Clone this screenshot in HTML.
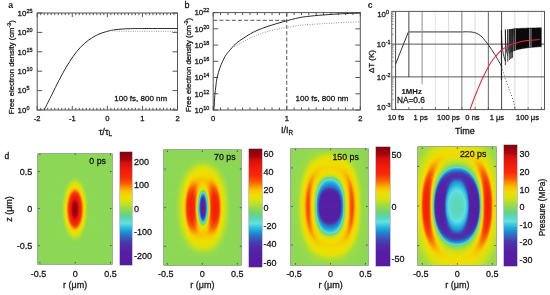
<!DOCTYPE html>
<html><head><meta charset="utf-8"><style>
html,body{margin:0;padding:0;background:#fff;}
#c{position:relative;width:550px;height:295px;overflow:hidden;background:#fff;font-family:"Liberation Sans",sans-serif;}
svg{position:absolute;left:0;top:0;will-change:transform;}
svg text{font-family:"Liberation Sans",sans-serif;stroke:#161616;stroke-width:0.28px;}
.hm{position:absolute;overflow:hidden;box-shadow:0 0 0 0.7px rgba(60,80,50,0.7);}
.hm i{position:absolute;left:0;right:0;display:block;}
</style></head><body><div id="c">
<div style="position:absolute;left:119.60px;top:152.00px;width:12.50px;height:113.20px;background:linear-gradient(to bottom,rgb(130,0,15) 0.0%,rgb(170,5,15) 6.7%,rgb(210,15,12) 9.2%,rgb(240,25,10) 15.4%,rgb(247,42,9) 22.6%,rgb(250,90,4) 27.7%,rgb(250,145,0) 31.3%,rgb(247,195,0) 34.9%,rgb(240,222,0) 39.0%,rgb(218,226,14) 43.1%,rgb(185,224,42) 46.7%,rgb(158,219,68) 49.2%,rgb(140,216,86) 51.3%,rgb(120,212,110) 53.7%,rgb(100,210,140) 56.2%,rgb(90,215,190) 59.6%,rgb(100,225,225) 63.0%,rgb(50,195,225) 66.4%,rgb(30,165,215) 69.3%,rgb(35,130,205) 72.2%,rgb(55,95,190) 75.6%,rgb(70,62,178) 79.1%,rgb(80,45,170) 82.5%,rgb(85,32,165) 87.8%,rgb(85,25,160) 100.0%);box-shadow:0 0 0 0.5px rgba(40,20,60,0.5)"></div>
<div style="position:absolute;left:249.20px;top:149.10px;width:12.90px;height:117.70px;background:linear-gradient(to bottom,rgb(130,0,15) 0.0%,rgb(170,5,15) 6.7%,rgb(210,15,12) 9.2%,rgb(240,25,10) 15.4%,rgb(247,42,9) 22.6%,rgb(250,90,4) 27.7%,rgb(250,145,0) 31.3%,rgb(247,195,0) 34.9%,rgb(240,222,0) 39.0%,rgb(218,226,14) 43.1%,rgb(185,224,42) 46.7%,rgb(158,219,68) 49.2%,rgb(140,216,86) 51.3%,rgb(120,212,110) 53.7%,rgb(100,210,140) 56.2%,rgb(90,215,190) 59.6%,rgb(100,225,225) 63.0%,rgb(50,195,225) 66.4%,rgb(30,165,215) 69.3%,rgb(35,130,205) 72.2%,rgb(55,95,190) 75.6%,rgb(70,62,178) 79.1%,rgb(80,45,170) 82.5%,rgb(85,32,165) 87.8%,rgb(85,25,160) 100.0%);box-shadow:0 0 0 0.5px rgba(40,20,60,0.5)"></div>
<div style="position:absolute;left:376.20px;top:147.10px;width:13.60px;height:118.60px;background:linear-gradient(to bottom,rgb(130,0,15) 0.0%,rgb(170,5,15) 6.7%,rgb(210,15,12) 9.2%,rgb(240,25,10) 15.4%,rgb(247,42,9) 22.6%,rgb(250,90,4) 27.7%,rgb(250,145,0) 31.3%,rgb(247,195,0) 34.9%,rgb(240,222,0) 39.0%,rgb(218,226,14) 43.1%,rgb(185,224,42) 46.7%,rgb(158,219,68) 49.2%,rgb(140,216,86) 51.3%,rgb(120,212,110) 53.7%,rgb(100,210,140) 56.2%,rgb(90,215,190) 59.6%,rgb(100,225,225) 63.0%,rgb(50,195,225) 66.4%,rgb(30,165,215) 69.3%,rgb(35,130,205) 72.2%,rgb(55,95,190) 75.6%,rgb(70,62,178) 79.1%,rgb(80,45,170) 82.5%,rgb(85,32,165) 87.8%,rgb(85,25,160) 100.0%);box-shadow:0 0 0 0.5px rgba(40,20,60,0.5)"></div>
<div style="position:absolute;left:504.20px;top:145.10px;width:13.20px;height:120.60px;background:linear-gradient(to bottom,rgb(130,0,15) 0.0%,rgb(170,5,15) 6.7%,rgb(210,15,12) 9.2%,rgb(240,25,10) 15.4%,rgb(247,42,9) 22.6%,rgb(250,90,4) 27.7%,rgb(250,145,0) 31.3%,rgb(247,195,0) 34.9%,rgb(240,222,0) 39.0%,rgb(218,226,14) 43.1%,rgb(185,224,42) 46.7%,rgb(158,219,68) 49.2%,rgb(140,216,86) 51.3%,rgb(120,212,110) 53.7%,rgb(100,210,140) 56.2%,rgb(90,215,190) 59.6%,rgb(100,225,225) 63.0%,rgb(50,195,225) 66.4%,rgb(30,165,215) 69.3%,rgb(35,130,205) 72.2%,rgb(55,95,190) 75.6%,rgb(70,62,178) 79.1%,rgb(80,45,170) 82.5%,rgb(85,32,165) 87.8%,rgb(85,25,160) 100.0%);box-shadow:0 0 0 0.5px rgba(40,20,60,0.5)"></div>
<div class="hm" style="left:38px;top:154px;width:74px;height:110px"><i style="top:0px;height:1px;background:linear-gradient(90deg,#8cd856 0.5px,#8cd856 73.5px)"></i><i style="top:1px;height:1px;background:linear-gradient(90deg,#8cd856 0.5px,#8cd856 73.5px)"></i><i style="top:2px;height:1px;background:linear-gradient(90deg,#8cd856 0.5px,#8cd856 73.5px)"></i><i style="top:3px;height:1px;background:linear-gradient(90deg,#8cd856 0.5px,#8cd856 73.5px)"></i><i style="top:4px;height:1px;background:linear-gradient(90deg,#8cd856 0.5px,#8cd856 73.5px)"></i><i style="top:5px;height:1px;background:linear-gradient(90deg,#8cd856 0.5px,#8cd856 73.5px)"></i><i style="top:6px;height:1px;background:linear-gradient(90deg,#8cd856 0.5px,#8cd856 73.5px)"></i><i style="top:7px;height:1px;background:linear-gradient(90deg,#8cd856 0.5px,#8cd856 73.5px)"></i><i style="top:8px;height:1px;background:linear-gradient(90deg,#8cd856 0.5px,#8cd856 73.5px)"></i><i style="top:9px;height:1px;background:linear-gradient(90deg,#8cd856 0.5px,#8cd856 73.5px)"></i><i style="top:10px;height:1px;background:linear-gradient(90deg,#8cd856 0.5px,#8cd856 73.5px)"></i><i style="top:11px;height:1px;background:linear-gradient(90deg,#8cd856 0.5px,#8cd856 73.5px)"></i><i style="top:12px;height:1px;background:linear-gradient(90deg,#8cd856 0.5px,#8cd856 73.5px)"></i><i style="top:13px;height:1px;background:linear-gradient(90deg,#8cd856 0.5px,#8cd856 73.5px)"></i><i style="top:14px;height:1px;background:linear-gradient(90deg,#8cd856 0.5px,#8cd856 73.5px)"></i><i style="top:15px;height:1px;background:linear-gradient(90deg,#8cd856 0.5px,#8cd856 73.5px)"></i><i style="top:16px;height:1px;background:linear-gradient(90deg,#8cd856 0.5px,#8cd856 73.5px)"></i><i style="top:17px;height:1px;background:linear-gradient(90deg,#8cd856 0.5px,#8cd856 73.5px)"></i><i style="top:18px;height:1px;background:linear-gradient(90deg,#8cd856 0.5px,#8cd856 73.5px)"></i><i style="top:19px;height:1px;background:linear-gradient(90deg,#8cd856 0.5px,#8cd856 73.5px)"></i><i style="top:20px;height:1px;background:linear-gradient(90deg,#8cd856 0.5px,#8cd856 73.5px)"></i><i style="top:21px;height:1px;background:linear-gradient(90deg,#8cd856 0.5px,#8cd856 73.5px)"></i><i style="top:22px;height:1px;background:linear-gradient(90deg,#8cd856 0.5px,#8cd856 73.5px)"></i><i style="top:23px;height:1px;background:linear-gradient(90deg,#8cd856 0.5px,#8dd855 33.5px,#95da4d 37.5px,#8cd856 43.5px,#8cd856 73.5px)"></i><i style="top:24px;height:1px;background:linear-gradient(90deg,#8cd856 0.5px,#8ed854 32.5px,#9ddb45 36.5px,#94d94e 40.5px,#8cd856 44.5px,#8cd856 73.5px)"></i><i style="top:25px;height:1px;background:linear-gradient(90deg,#8cd856 0.5px,#8ed854 31.5px,#a6dc3d 36.5px,#9bda47 40.5px,#8cd856 43.5px,#8cd856 73.5px)"></i><i style="top:26px;height:1px;background:linear-gradient(90deg,#8cd856 0.5px,#8dd855 30.5px,#afde34 35.5px,#afde34 38.5px,#8dd855 43.5px,#8cd856 73.5px)"></i><i style="top:27px;height:1px;background:linear-gradient(90deg,#8cd856 0.5px,#8cd856 29.5px,#bce028 35.5px,#bce028 38.5px,#8cd856 44.5px,#8cd856 73.5px)"></i><i style="top:28px;height:1px;background:linear-gradient(90deg,#8cd856 0.5px,#8fd853 29.5px,#c2e122 34.5px,#cae11b 37.5px,#bae029 40.5px,#8fd853 44.5px,#8cd856 73.5px)"></i><i style="top:29px;height:1px;background:linear-gradient(90deg,#8cd856 0.5px,#8cd856 28.5px,#c5e120 33.5px,#d6e211 36.5px,#cee119 39.5px,#adde36 42.5px,#8cd856 45.5px,#8cd856 73.5px)"></i><i style="top:30px;height:1px;background:linear-gradient(90deg,#8cd856 0.5px,#8fd953 28.5px,#d0e116 33.5px,#e0e10a 36.5px,#d9e20f 39.5px,#b8e02b 42.5px,#8fd953 45.5px,#8cd856 73.5px)"></i><i style="top:31px;height:1px;background:linear-gradient(90deg,#8cd856 0.5px,#8cd856 27.5px,#a1dc41 29.5px,#d0e116 32.5px,#e6e006 35.5px,#e6e006 38.5px,#d0e116 41.5px,#94d94e 45.5px,#8cd856 46.5px,#8cd856 73.5px)"></i><i style="top:32px;height:1px;background:linear-gradient(90deg,#8cd856 0.5px,#8ed854 27.5px,#dae20e 32.5px,#efde01 35.5px,#eadf04 39.5px,#cde119 42.5px,#8ed854 46.5px,#8cd856 73.5px)"></i><i style="top:33px;height:1px;background:linear-gradient(90deg,#8cd856 0.5px,#8cd856 26.5px,#92d950 27.5px,#d6e211 31.5px,#f1da00 34.5px,#f3d200 37.5px,#ecdf03 40.5px,#d6e211 42.5px,#92d950 46.5px,#8cd856 49.5px,#8cd856 73.5px)"></i><i style="top:34px;height:1px;background:linear-gradient(90deg,#8cd856 0.5px,#8cd856 26.5px,#a7dd3b 28.5px,#cfe117 30.5px,#eadf04 32.5px,#f6c700 36.5px,#f4d000 39.5px,#eadf04 41.5px,#cfe117 43.5px,#97da4b 46.5px,#8cd856 47.5px,#8cd856 73.5px)"></i><i style="top:35px;height:1px;background:linear-gradient(90deg,#8cd856 0.5px,#8ed854 26.5px,#afde34 28.5px,#d8e210 30.5px,#f0db00 32.5px,#f8ab00 36.5px,#f8ab00 37.5px,#f0db00 41.5px,#d8e210 43.5px,#9cdb46 46.5px,#8ed854 47.5px,#8cd856 73.5px)"></i><i style="top:36px;height:1px;background:linear-gradient(90deg,#8cd856 0.5px,#8cd856 25.5px,#92d950 26.5px,#e0e10a 30.5px,#edde02 31.5px,#f6c300 33.5px,#fa9300 35.5px,#fa8601 36.5px,#fa8601 37.5px,#fa9300 38.5px,#f6c300 40.5px,#edde02 42.5px,#cee119 44.5px,#92d950 47.5px,#8cd856 50.5px,#8cd856 73.5px)"></i><i style="top:37px;height:1px;background:linear-gradient(90deg,#8cd856 0.5px,#8cd856 25.5px,#96da4c 26.5px,#d6e212 29.5px,#f1d800 31.5px,#f6c800 32.5px,#fa6d03 35.5px,#fa5f04 36.5px,#fa5f04 37.5px,#fa6d03 38.5px,#fa8801 39.5px,#f6c800 41.5px,#e7e006 43.5px,#c0e024 45.5px,#96da4c 47.5px,#8cd856 48.5px,#8cd856 73.5px)"></i><i style="top:38px;height:1px;background:linear-gradient(90deg,#8cd856 0.5px,#8dd855 25.5px,#afde34 27.5px,#dde10d 29.5px,#edde02 30.5px,#f4cf00 31.5px,#f8b600 32.5px,#fa6403 34.5px,#f94e05 35.5px,#f94406 36.5px,#f94406 37.5px,#f94e05 38.5px,#fa6403 39.5px,#f8b600 41.5px,#f4cf00 42.5px,#edde02 43.5px,#c7e11e 45.5px,#9ada48 47.5px,#8dd855 48.5px,#8cd856 73.5px)"></i><i style="top:39px;height:1px;background:linear-gradient(90deg,#8cd856 0.5px,#8fd853 25.5px,#b6df2d 27.5px,#e3e008 29.5px,#f1d900 30.5px,#f6c500 31.5px,#fa6b03 33.5px,#f94a06 34.5px,#f83608 35.5px,#f72e09 36.5px,#f72e09 37.5px,#f83608 38.5px,#f94a06 39.5px,#fa6b03 40.5px,#f6c500 42.5px,#f1d900 43.5px,#cee118 45.5px,#9fdb43 47.5px,#8fd853 48.5px,#8cd856 73.5px)"></i><i style="top:40px;height:1px;background:linear-gradient(90deg,#8cd856 0.5px,#8cd856 24.5px,#91d951 25.5px,#bce027 27.5px,#e9df05 29.5px,#f3d200 30.5px,#f8b500 31.5px,#f95105 33.5px,#f83508 34.5px,#f62809 35.5px,#f62809 38.5px,#f83508 39.5px,#f95105 40.5px,#f8b500 42.5px,#f3d200 43.5px,#e9df05 44.5px,#bce027 46.5px,#91d951 48.5px,#8cd856 51.5px,#8cd856 73.5px)"></i><i style="top:41px;height:1px;background:linear-gradient(90deg,#8cd856 0.5px,#8cd856 24.5px,#95d94d 25.5px,#dbe10e 28.5px,#eddd02 29.5px,#f5ca00 30.5px,#f99e00 31.5px,#fa6503 32.5px,#f83e07 33.5px,#f62909 34.5px,#f3210a 37.5px,#f62909 39.5px,#f83e07 40.5px,#fa6503 41.5px,#f99e00 42.5px,#f5ca00 43.5px,#eddd02 44.5px,#dbe10e 45.5px,#95d94d 48.5px,#8cd856 49.5px,#8cd856 73.5px)"></i><i style="top:42px;height:1px;background:linear-gradient(90deg,#8cd856 0.5px,#8cd856 24.5px,#98da4a 25.5px,#e0e10a 28.5px,#f0d901 29.5px,#f7bf00 30.5px,#f95005 32.5px,#f72f08 33.5px,#f21f0a 35.5px,#f21f0a 38.5px,#f72f08 40.5px,#f95005 41.5px,#f7bf00 43.5px,#f0d901 44.5px,#e0e10a 45.5px,#98da4a 48.5px,#8cd856 49.5px,#8cd856 73.5px)"></i><i style="top:43px;height:1px;background:linear-gradient(90deg,#8cd856 0.5px,#8dd855 24.5px,#9bdb47 25.5px,#cee118 27.5px,#e5e007 28.5px,#f3d400 29.5px,#f8b000 30.5px,#fa7102 31.5px,#f84007 32.5px,#f62709 33.5px,#ec180a 36.5px,#f3200a 39.5px,#f62709 40.5px,#f84007 41.5px,#fa7102 42.5px,#f8b000 43.5px,#f3d400 44.5px,#e5e007 45.5px,#b2df30 47.5px,#9bdb47 48.5px,#8dd855 49.5px,#8cd856 73.5px)"></i><i style="top:44px;height:1px;background:linear-gradient(90deg,#8cd856 0.5px,#8ed854 24.5px,#9edb44 25.5px,#d3e114 27.5px,#e9df04 28.5px,#f4ce00 29.5px,#f99f00 30.5px,#fa5f04 31.5px,#f73308 32.5px,#f42309 33.5px,#e3150b 36.5px,#e9170a 38.5px,#f42309 40.5px,#f73308 41.5px,#fa5f04 42.5px,#f99f00 43.5px,#f4ce00 44.5px,#e9df04 45.5px,#b7df2c 47.5px,#9edb44 48.5px,#8ed854 49.5px,#8cd856 73.5px)"></i><i style="top:45px;height:1px;background:linear-gradient(90deg,#8cd856 0.5px,#8fd953 24.5px,#a1dc41 25.5px,#d7e111 27.5px,#ecdd03 28.5px,#f6c700 29.5px,#f95005 31.5px,#f62b09 32.5px,#ec180a 34.5px,#d9110c 36.5px,#e0140b 38.5px,#f3200a 40.5px,#f62b09 41.5px,#f95005 42.5px,#f6c700 44.5px,#ecdd03 45.5px,#d7e111 46.5px,#a1dc41 48.5px,#8fd953 49.5px,#8cd856 73.5px)"></i><i style="top:46px;height:1px;background:linear-gradient(90deg,#8cd856 0.5px,#8cd856 23.5px,#91d951 24.5px,#a4dc3e 25.5px,#dbe10e 27.5px,#efdb01 28.5px,#f7be00 29.5px,#f94406 31.5px,#f52609 32.5px,#e5150b 34.5px,#c80c0d 36.5px,#c80c0d 37.5px,#f11c0a 40.5px,#f52609 41.5px,#f94406 42.5px,#f7be00 44.5px,#efdb01 45.5px,#dbe10e 46.5px,#a4dc3e 48.5px,#91d951 49.5px,#8cd856 54.5px,#8cd856 73.5px)"></i><i style="top:47px;height:1px;background:linear-gradient(90deg,#8cd856 0.5px,#8cd856 23.5px,#92d950 24.5px,#a7dd3b 25.5px,#dee10b 27.5px,#f1d801 28.5px,#f8b500 29.5px,#fa7102 30.5px,#f83b07 31.5px,#f42309 32.5px,#ee1a0a 33.5px,#b2070e 36.5px,#b2070e 37.5px,#ee1a0a 40.5px,#f42309 41.5px,#f83b07 42.5px,#fa7102 43.5px,#f8b500 44.5px,#f1d801 45.5px,#dee10b 46.5px,#a7dd3b 48.5px,#92d950 49.5px,#8cd856 51.5px,#8cd856 73.5px)"></i><i style="top:48px;height:1px;background:linear-gradient(90deg,#8cd856 0.5px,#8cd856 23.5px,#94d94e 24.5px,#c7e11e 26.5px,#e1e109 27.5px,#f2d500 28.5px,#f8ac00 29.5px,#fa6603 30.5px,#f73408 31.5px,#f3210a 32.5px,#ea170a 33.5px,#d6100c 34.5px,#b4080e 35.5px,#a8050f 36.5px,#a8050f 37.5px,#b4080e 38.5px,#d6100c 39.5px,#ea170a 40.5px,#f3210a 41.5px,#f73408 42.5px,#fa6603 43.5px,#f8ac00 44.5px,#f2d500 45.5px,#e1e109 46.5px,#a9dd39 48.5px,#94d94e 49.5px,#8cd856 51.5px,#8cd856 73.5px)"></i><i style="top:49px;height:1px;background:linear-gradient(90deg,#8cd856 0.5px,#8cd856 23.5px,#95da4d 24.5px,#e4e008 27.5px,#f3d200 28.5px,#f9a300 29.5px,#fa5c04 30.5px,#f72f08 31.5px,#f21f0a 32.5px,#e6160b 33.5px,#ab050f 35.5px,#a3040f 37.5px,#ab050f 38.5px,#e6160b 40.5px,#f21f0a 41.5px,#f72f08 42.5px,#fa5c04 43.5px,#f9a300 44.5px,#f3d200 45.5px,#e4e008 46.5px,#95da4d 49.5px,#8cd856 50.5px,#8cd856 73.5px)"></i><i style="top:50px;height:1px;background:linear-gradient(90deg,#8cd856 0.5px,#8cd856 23.5px,#97da4b 24.5px,#e6e007 27.5px,#f4cf00 28.5px,#f99b00 29.5px,#f95505 30.5px,#f62b09 31.5px,#f21d0a 32.5px,#e1140b 33.5px,#a5040f 35.5px,#9d030f 37.5px,#a5040f 38.5px,#e1140b 40.5px,#f21d0a 41.5px,#f62b09 42.5px,#f95505 43.5px,#f99b00 44.5px,#f4cf00 45.5px,#e6e007 46.5px,#97da4b 49.5px,#8cd856 50.5px,#8cd856 73.5px)"></i><i style="top:51px;height:1px;background:linear-gradient(90deg,#8cd856 0.5px,#8cd856 23.5px,#98da4a 24.5px,#cee118 26.5px,#e7e005 27.5px,#f5cd00 28.5px,#f99401 29.5px,#f95005 30.5px,#f62909 31.5px,#f01c0a 32.5px,#de130b 33.5px,#b6080e 34.5px,#a1040f 35.5px,#98030f 36.5px,#98030f 37.5px,#a1040f 38.5px,#b6080e 39.5px,#de130b 40.5px,#f01c0a 41.5px,#f62909 42.5px,#f95005 43.5px,#f99401 44.5px,#f5cd00 45.5px,#e7e005 46.5px,#b0de33 48.5px,#98da4a 49.5px,#8cd856 50.5px,#8cd856 73.5px)"></i><i style="top:52px;height:1px;background:linear-gradient(90deg,#8cd856 0.5px,#8cd856 23.5px,#99da49 24.5px,#cfe117 26.5px,#e9df05 27.5px,#f5ca00 28.5px,#fa8f01 29.5px,#f94b06 30.5px,#f52709 31.5px,#ef1b0a 32.5px,#db120b 33.5px,#b0070e 34.5px,#93020f 36.5px,#93020f 37.5px,#b0070e 39.5px,#db120b 40.5px,#ef1b0a 41.5px,#f52709 42.5px,#f94b06 43.5px,#fa8f01 44.5px,#f5ca00 45.5px,#e9df05 46.5px,#cfe117 47.5px,#99da49 49.5px,#8cd856 50.5px,#8cd856 73.5px)"></i><i style="top:53px;height:1px;background:linear-gradient(90deg,#8cd856 0.5px,#8cd856 23.5px,#99da49 24.5px,#d0e116 26.5px,#e9df04 27.5px,#f5c800 28.5px,#f94906 30.5px,#f52609 31.5px,#ee1a0a 32.5px,#d7110c 33.5px,#ac060f 34.5px,#8f020f 36.5px,#8f020f 37.5px,#ac060f 39.5px,#d7110c 40.5px,#ee1a0a 41.5px,#f52609 42.5px,#f94906 43.5px,#f5c800 45.5px,#e9df04 46.5px,#d0e116 47.5px,#99da49 49.5px,#8cd856 50.5px,#8cd856 73.5px)"></i><i style="top:54px;height:1px;background:linear-gradient(90deg,#8cd856 0.5px,#8cd856 23.5px,#9ada48 24.5px,#d1e116 26.5px,#eade04 27.5px,#f5c700 28.5px,#f94706 30.5px,#f52509 31.5px,#ee1a0a 32.5px,#d5100c 33.5px,#ab060f 34.5px,#8b010f 36.5px,#8b010f 37.5px,#ab060f 39.5px,#d5100c 40.5px,#ee1a0a 41.5px,#f52509 42.5px,#f94706 43.5px,#f5c700 45.5px,#eade04 46.5px,#d1e116 47.5px,#9ada48 49.5px,#8cd856 50.5px,#8cd856 73.5px)"></i><i style="top:55px;height:1px;background:linear-gradient(90deg,#8cd856 0.5px,#8cd856 23.5px,#9ada48 24.5px,#d1e116 26.5px,#eade04 27.5px,#f5c700 28.5px,#f94706 30.5px,#f52509 31.5px,#ee190a 32.5px,#d5100c 33.5px,#aa050f 34.5px,#8a010f 36.5px,#8a010f 37.5px,#aa050f 39.5px,#d5100c 40.5px,#ee190a 41.5px,#f52509 42.5px,#f94706 43.5px,#f5c700 45.5px,#eade04 46.5px,#d1e116 47.5px,#9ada48 49.5px,#8cd856 50.5px,#8cd856 73.5px)"></i><i style="top:56px;height:1px;background:linear-gradient(90deg,#8cd856 0.5px,#8cd856 23.5px,#99da49 24.5px,#d1e116 26.5px,#eadf04 27.5px,#f5c700 28.5px,#f94806 30.5px,#f52509 31.5px,#ee1a0a 32.5px,#d6100c 33.5px,#ab060f 34.5px,#8d010f 36.5px,#8d010f 37.5px,#ab060f 39.5px,#d6100c 40.5px,#ee1a0a 41.5px,#f52509 42.5px,#f94806 43.5px,#f5c700 45.5px,#eadf04 46.5px,#d1e116 47.5px,#99da49 49.5px,#8cd856 50.5px,#8cd856 73.5px)"></i><i style="top:57px;height:1px;background:linear-gradient(90deg,#8cd856 0.5px,#8cd856 23.5px,#99da49 24.5px,#d0e116 26.5px,#e9df04 27.5px,#f5c900 28.5px,#f94906 30.5px,#f52609 31.5px,#ef1a0a 32.5px,#d9110c 33.5px,#ad060f 34.5px,#91020f 36.5px,#91020f 37.5px,#ad060f 39.5px,#d9110c 40.5px,#ef1a0a 41.5px,#f52609 42.5px,#f94906 43.5px,#f5c900 45.5px,#e9df04 46.5px,#d0e116 47.5px,#99da49 49.5px,#8cd856 50.5px,#8cd856 73.5px)"></i><i style="top:58px;height:1px;background:linear-gradient(90deg,#8cd856 0.5px,#8cd856 23.5px,#98da4a 24.5px,#cfe117 26.5px,#e8df05 27.5px,#f5cb00 28.5px,#f99101 29.5px,#f94d05 30.5px,#f62709 31.5px,#f01b0a 32.5px,#dc120b 33.5px,#b2070e 34.5px,#9f040f 35.5px,#95020f 36.5px,#95020f 37.5px,#9f040f 38.5px,#b2070e 39.5px,#dc120b 40.5px,#f01b0a 41.5px,#f62709 42.5px,#f94d05 43.5px,#f99101 44.5px,#f5cb00 45.5px,#e8df05 46.5px,#cfe117 47.5px,#98da4a 49.5px,#8cd856 50.5px,#8cd856 73.5px)"></i><i style="top:59px;height:1px;background:linear-gradient(90deg,#8cd856 0.5px,#8cd856 23.5px,#97da4b 24.5px,#e7e006 27.5px,#f4cd00 28.5px,#f99700 29.5px,#f95205 30.5px,#f62a09 31.5px,#f11c0a 32.5px,#df130b 33.5px,#b9090e 34.5px,#a3040f 35.5px,#9a030f 36.5px,#9a030f 37.5px,#a3040f 38.5px,#b9090e 39.5px,#df130b 40.5px,#f11c0a 41.5px,#f62a09 42.5px,#f95205 43.5px,#f99700 44.5px,#f4cd00 45.5px,#e7e006 46.5px,#97da4b 49.5px,#8cd856 50.5px,#8cd856 73.5px)"></i><i style="top:60px;height:1px;background:linear-gradient(90deg,#8cd856 0.5px,#8cd856 23.5px,#96da4c 24.5px,#e5e007 27.5px,#f4d000 28.5px,#f99e00 29.5px,#f95804 30.5px,#f72c09 31.5px,#f21e0a 32.5px,#e3150b 33.5px,#a7050f 35.5px,#a0040f 37.5px,#a7050f 38.5px,#e3150b 40.5px,#f21e0a 41.5px,#f72c09 42.5px,#f95804 43.5px,#f99e00 44.5px,#f4d000 45.5px,#e5e007 46.5px,#96da4c 49.5px,#8cd856 50.5px,#8cd856 73.5px)"></i><i style="top:61px;height:1px;background:linear-gradient(90deg,#8cd856 0.5px,#8cd856 23.5px,#95d94d 24.5px,#e3e008 27.5px,#f3d300 28.5px,#f9a700 29.5px,#fa6004 30.5px,#f73008 31.5px,#e8160b 33.5px,#cf0e0c 34.5px,#ae060f 35.5px,#a5040f 36.5px,#a5040f 37.5px,#ae060f 38.5px,#cf0e0c 39.5px,#e8160b 40.5px,#f73008 42.5px,#fa6004 43.5px,#f9a700 44.5px,#f3d300 45.5px,#e3e008 46.5px,#95d94d 49.5px,#8cd856 50.5px,#8cd856 73.5px)"></i><i style="top:62px;height:1px;background:linear-gradient(90deg,#8cd856 0.5px,#8cd856 23.5px,#93d94f 24.5px,#c6e11f 26.5px,#e0e10a 27.5px,#f2d600 28.5px,#f8b000 29.5px,#fa6a03 30.5px,#f83608 31.5px,#f42209 32.5px,#ec180a 33.5px,#da120c 34.5px,#bb090e 35.5px,#ab050f 36.5px,#ab050f 37.5px,#bb090e 38.5px,#da120c 39.5px,#ec180a 40.5px,#f42209 41.5px,#f83608 42.5px,#fa6a03 43.5px,#f8b000 44.5px,#f2d600 45.5px,#e0e10a 46.5px,#a8dd3a 48.5px,#93d94f 49.5px,#8cd856 51.5px,#8cd856 73.5px)"></i><i style="top:63px;height:1px;background:linear-gradient(90deg,#8cd856 0.5px,#8cd856 23.5px,#92d950 24.5px,#a6dc3d 25.5px,#dde10c 27.5px,#f0d901 28.5px,#f7b900 29.5px,#fa7602 30.5px,#f83e07 31.5px,#f52409 32.5px,#f01b0a 33.5px,#b9090e 36.5px,#b9090e 37.5px,#f01b0a 40.5px,#f52409 41.5px,#f83e07 42.5px,#fa7602 43.5px,#f7b900 44.5px,#f0d901 45.5px,#dde10c 46.5px,#a6dc3d 48.5px,#92d950 49.5px,#8cd856 52.5px,#8cd856 73.5px)"></i><i style="top:64px;height:1px;background:linear-gradient(90deg,#8cd856 0.5px,#8cd856 23.5px,#90d952 24.5px,#a3dc3f 25.5px,#dae10f 27.5px,#eedc02 28.5px,#f6c200 29.5px,#f94906 31.5px,#f62809 32.5px,#e8160b 34.5px,#d10f0c 36.5px,#d10f0c 37.5px,#f21e0a 40.5px,#f62809 41.5px,#f94906 42.5px,#f6c200 44.5px,#eedc02 45.5px,#dae10f 46.5px,#a3dc3f 48.5px,#90d952 49.5px,#8cd856 67.5px,#8cd856 73.5px)"></i><i style="top:65px;height:1px;background:linear-gradient(90deg,#8cd856 0.5px,#8fd853 24.5px,#a0db42 25.5px,#d6e112 27.5px,#ebde03 28.5px,#f5ca00 29.5px,#f99500 30.5px,#f95605 31.5px,#f72e09 32.5px,#ef190a 34.5px,#dd130b 36.5px,#e4150b 38.5px,#f3210a 40.5px,#f72e09 41.5px,#f95605 42.5px,#f99500 43.5px,#f5ca00 44.5px,#ebde03 45.5px,#d6e112 46.5px,#a0db42 48.5px,#8fd853 49.5px,#8cd856 73.5px)"></i><i style="top:66px;height:1px;background:linear-gradient(90deg,#8cd856 0.5px,#8ed854 24.5px,#9ddb45 25.5px,#d1e116 27.5px,#e8e005 28.5px,#f4d000 29.5px,#f9a600 30.5px,#fa6603 31.5px,#f83808 32.5px,#f52509 33.5px,#e7160b 36.5px,#f21d0a 39.5px,#f52509 40.5px,#f83808 41.5px,#fa6603 42.5px,#f9a600 43.5px,#f4d000 44.5px,#e8e005 45.5px,#b5df2e 47.5px,#9ddb45 48.5px,#8ed854 49.5px,#8cd856 73.5px)"></i><i style="top:67px;height:1px;background:linear-gradient(90deg,#8cd856 0.5px,#8dd855 24.5px,#9ada48 25.5px,#e3e008 28.5px,#f2d600 29.5px,#f8b600 30.5px,#fa7a02 31.5px,#f94606 32.5px,#f62909 33.5px,#ef190a 36.5px,#f3210a 39.5px,#f62909 40.5px,#f94606 41.5px,#fa7a02 42.5px,#f8b600 43.5px,#f2d600 44.5px,#e3e008 45.5px,#9ada48 48.5px,#8dd855 49.5px,#8cd856 73.5px)"></i><i style="top:68px;height:1px;background:linear-gradient(90deg,#8cd856 0.5px,#8cd856 24.5px,#97da4b 25.5px,#dee10c 28.5px,#efdb01 29.5px,#f6c400 30.5px,#fa5804 32.5px,#f83408 33.5px,#f52509 34.5px,#f21e0a 37.5px,#f52509 39.5px,#f83408 40.5px,#fa5804 41.5px,#f6c400 43.5px,#efdb01 44.5px,#dee10c 45.5px,#97da4b 48.5px,#8cd856 49.5px,#8cd856 73.5px)"></i><i style="top:69px;height:1px;background:linear-gradient(90deg,#8cd856 0.5px,#8cd856 24.5px,#93d94f 25.5px,#c0e024 27.5px,#ecde03 29.5px,#f4ce00 30.5px,#f9a800 31.5px,#fa6f02 32.5px,#f94506 33.5px,#f72c09 34.5px,#f42309 37.5px,#f72c09 39.5px,#f94506 40.5px,#fa6f02 41.5px,#f9a800 42.5px,#f4ce00 43.5px,#ecde03 44.5px,#c0e024 46.5px,#93d94f 48.5px,#8cd856 50.5px,#8cd856 73.5px)"></i><i style="top:70px;height:1px;background:linear-gradient(90deg,#8cd856 0.5px,#8cd856 24.5px,#90d952 25.5px,#bae02a 27.5px,#e6e006 29.5px,#f2d500 30.5px,#f7bc00 31.5px,#fa5a04 33.5px,#f83d07 34.5px,#f72c09 35.5px,#f62809 37.5px,#f72c09 38.5px,#f83d07 39.5px,#fa5a04 40.5px,#f7bc00 42.5px,#f2d500 43.5px,#e6e006 44.5px,#bae02a 46.5px,#90d952 48.5px,#8cd856 60.5px,#8cd856 73.5px)"></i><i style="top:71px;height:1px;background:linear-gradient(90deg,#8cd856 0.5px,#8ed854 25.5px,#b3df30 27.5px,#e0e10a 29.5px,#efdb01 30.5px,#f5ca00 31.5px,#f9a700 32.5px,#fa7802 33.5px,#f95305 34.5px,#f84007 35.5px,#f83608 36.5px,#f83608 37.5px,#f84007 38.5px,#f95305 39.5px,#fa7802 40.5px,#f9a700 41.5px,#f5ca00 42.5px,#efdb01 43.5px,#cce11a 45.5px,#9ddb45 47.5px,#8ed854 48.5px,#8cd856 73.5px)"></i><i style="top:72px;height:1px;background:linear-gradient(90deg,#8cd856 0.5px,#8dd855 25.5px,#acde37 27.5px,#dae10f 29.5px,#eadf04 30.5px,#f3d300 31.5px,#f7bf00 32.5px,#fa7202 34.5px,#fa5804 35.5px,#f94e05 36.5px,#f94e05 37.5px,#fa5804 38.5px,#fa7202 39.5px,#f7bf00 41.5px,#f3d300 42.5px,#eadf04 43.5px,#c4e120 45.5px,#98da4a 47.5px,#8dd855 48.5px,#8cd856 73.5px)"></i><i style="top:73px;height:1px;background:linear-gradient(90deg,#8cd856 0.5px,#8cd856 25.5px,#94d94e 26.5px,#d2e114 29.5px,#f0db01 31.5px,#f8b600 33.5px,#fa7c02 35.5px,#fa6e03 36.5px,#fa6e03 37.5px,#fa7c02 38.5px,#f8b600 40.5px,#f0db01 42.5px,#d2e114 44.5px,#94d94e 47.5px,#8cd856 48.5px,#8cd856 73.5px)"></i><i style="top:74px;height:1px;background:linear-gradient(90deg,#8cd856 0.5px,#8cd856 25.5px,#90d952 26.5px,#b4df2f 28.5px,#dde10c 30.5px,#f2d600 32.5px,#f8b700 34.5px,#f9a100 35.5px,#fa9500 36.5px,#fa9500 37.5px,#f9a100 38.5px,#f5c900 40.5px,#ebdf03 42.5px,#cae11b 44.5px,#9fdb43 46.5px,#90d952 47.5px,#8cd856 71.5px,#8cd856 73.5px)"></i><i style="top:75px;height:1px;background:linear-gradient(90deg,#8cd856 0.5px,#8dd855 26.5px,#acde37 28.5px,#d5e213 30.5px,#eedd01 32.5px,#f8b900 36.5px,#f7c100 38.5px,#eedd01 41.5px,#d5e213 43.5px,#9ada48 46.5px,#8dd855 47.5px,#8cd856 73.5px)"></i><i style="top:76px;height:1px;background:linear-gradient(90deg,#8cd856 0.5px,#8cd856 26.5px,#a4dc3e 28.5px,#dce10d 31.5px,#f0dc01 33.5px,#f5cb00 36.5px,#f3d400 39.5px,#e7e006 41.5px,#cce11a 43.5px,#95d94d 46.5px,#8cd856 47.5px,#8cd856 73.5px)"></i><i style="top:77px;height:1px;background:linear-gradient(90deg,#8cd856 0.5px,#90d952 27.5px,#d3e214 31.5px,#efdd01 34.5px,#f2d600 37.5px,#e8df05 40.5px,#d3e214 42.5px,#90d952 46.5px,#8cd856 73.5px)"></i><i style="top:78px;height:1px;background:linear-gradient(90deg,#8cd856 0.5px,#8dd855 27.5px,#b8e02b 30.5px,#e0e10a 33.5px,#eede02 36.5px,#e7e006 39.5px,#c9e11d 42.5px,#98da4a 45.5px,#8dd855 46.5px,#8cd856 73.5px)"></i><i style="top:79px;height:1px;background:linear-gradient(90deg,#8cd856 0.5px,#8cd856 27.5px,#9fdb43 29.5px,#cce11a 32.5px,#e3e008 35.5px,#e3e008 38.5px,#cce11a 41.5px,#92d950 45.5px,#8cd856 47.5px,#8cd856 73.5px)"></i><i style="top:80px;height:1px;background:linear-gradient(90deg,#8cd856 0.5px,#8ed854 28.5px,#cce11a 33.5px,#dce20d 36.5px,#d4e213 39.5px,#b3df2f 42.5px,#8ed854 45.5px,#8cd856 73.5px)"></i><i style="top:81px;height:1px;background:linear-gradient(90deg,#8cd856 0.5px,#8cd856 28.5px,#a8dd3a 31.5px,#c9e11c 34.5px,#d1e115 37.5px,#c1e023 40.5px,#92d950 44.5px,#8cd856 47.5px,#8cd856 73.5px)"></i><i style="top:82px;height:1px;background:linear-gradient(90deg,#8cd856 0.5px,#8dd855 29.5px,#bde026 34.5px,#c6e11f 37.5px,#b5df2e 40.5px,#8dd855 44.5px,#8cd856 73.5px)"></i><i style="top:83px;height:1px;background:linear-gradient(90deg,#8cd856 0.5px,#90d952 30.5px,#b7e02c 35.5px,#b7e02c 38.5px,#8cd856 44.5px,#8cd856 73.5px)"></i><i style="top:84px;height:1px;background:linear-gradient(90deg,#8cd856 0.5px,#8cd856 30.5px,#acde36 36.5px,#a0db42 40.5px,#8cd856 43.5px,#8cd856 73.5px)"></i><i style="top:85px;height:1px;background:linear-gradient(90deg,#8cd856 0.5px,#8dd855 31.5px,#a2dc40 36.5px,#98da4a 40.5px,#8cd856 43.5px,#8cd856 73.5px)"></i><i style="top:86px;height:1px;background:linear-gradient(90deg,#8cd856 0.5px,#8dd855 32.5px,#9ada48 37.5px,#8cd856 43.5px,#8cd856 73.5px)"></i><i style="top:87px;height:1px;background:linear-gradient(90deg,#8cd856 0.5px,#8ed854 34.5px,#90d952 38.5px,#8cd856 67.5px,#8cd856 73.5px)"></i><i style="top:88px;height:1px;background:linear-gradient(90deg,#8cd856 0.5px,#8cd856 73.5px)"></i><i style="top:89px;height:1px;background:linear-gradient(90deg,#8cd856 0.5px,#8cd856 73.5px)"></i><i style="top:90px;height:1px;background:linear-gradient(90deg,#8cd856 0.5px,#8cd856 73.5px)"></i><i style="top:91px;height:1px;background:linear-gradient(90deg,#8cd856 0.5px,#8cd856 73.5px)"></i><i style="top:92px;height:1px;background:linear-gradient(90deg,#8cd856 0.5px,#8cd856 73.5px)"></i><i style="top:93px;height:1px;background:linear-gradient(90deg,#8cd856 0.5px,#8cd856 73.5px)"></i><i style="top:94px;height:1px;background:linear-gradient(90deg,#8cd856 0.5px,#8cd856 73.5px)"></i><i style="top:95px;height:1px;background:linear-gradient(90deg,#8cd856 0.5px,#8cd856 73.5px)"></i><i style="top:96px;height:1px;background:linear-gradient(90deg,#8cd856 0.5px,#8cd856 73.5px)"></i><i style="top:97px;height:1px;background:linear-gradient(90deg,#8cd856 0.5px,#8cd856 73.5px)"></i><i style="top:98px;height:1px;background:linear-gradient(90deg,#8cd856 0.5px,#8cd856 73.5px)"></i><i style="top:99px;height:1px;background:linear-gradient(90deg,#8cd856 0.5px,#8cd856 73.5px)"></i><i style="top:100px;height:1px;background:linear-gradient(90deg,#8cd856 0.5px,#8cd856 73.5px)"></i><i style="top:101px;height:1px;background:linear-gradient(90deg,#8cd856 0.5px,#8cd856 73.5px)"></i><i style="top:102px;height:1px;background:linear-gradient(90deg,#8cd856 0.5px,#8cd856 73.5px)"></i><i style="top:103px;height:1px;background:linear-gradient(90deg,#8cd856 0.5px,#8cd856 73.5px)"></i><i style="top:104px;height:1px;background:linear-gradient(90deg,#8cd856 0.5px,#8cd856 73.5px)"></i><i style="top:105px;height:1px;background:linear-gradient(90deg,#8cd856 0.5px,#8cd856 73.5px)"></i><i style="top:106px;height:1px;background:linear-gradient(90deg,#8cd856 0.5px,#8cd856 73.5px)"></i><i style="top:107px;height:1px;background:linear-gradient(90deg,#8cd856 0.5px,#8cd856 73.5px)"></i><i style="top:108px;height:1px;background:linear-gradient(90deg,#8cd856 0.5px,#8cd856 73.5px)"></i><i style="top:109px;height:1px;background:linear-gradient(90deg,#8cd856 0.5px,#8cd856 73.5px)"></i></div>
<div class="hm" style="left:164px;top:150px;width:77px;height:115px"><i style="top:0px;height:1px;background:linear-gradient(90deg,#8cd856 0.5px,#8cd856 76.5px)"></i><i style="top:1px;height:1px;background:linear-gradient(90deg,#8cd856 0.5px,#8cd856 76.5px)"></i><i style="top:2px;height:1px;background:linear-gradient(90deg,#8cd856 0.5px,#8cd856 76.5px)"></i><i style="top:3px;height:1px;background:linear-gradient(90deg,#8cd856 0.5px,#8cd856 76.5px)"></i><i style="top:4px;height:1px;background:linear-gradient(90deg,#8cd856 0.5px,#8cd856 76.5px)"></i><i style="top:5px;height:1px;background:linear-gradient(90deg,#8cd856 0.5px,#8cd856 76.5px)"></i><i style="top:6px;height:1px;background:linear-gradient(90deg,#8cd856 0.5px,#8cd856 76.5px)"></i><i style="top:7px;height:1px;background:linear-gradient(90deg,#8cd856 0.5px,#8cd856 76.5px)"></i><i style="top:8px;height:1px;background:linear-gradient(90deg,#8cd856 0.5px,#8cd856 76.5px)"></i><i style="top:9px;height:1px;background:linear-gradient(90deg,#8cd856 0.5px,#90d952 32.5px,#91d951 44.5px,#8cd856 64.5px,#8cd856 76.5px)"></i><i style="top:10px;height:1px;background:linear-gradient(90deg,#8cd856 0.5px,#8ed854 29.5px,#98da4a 40.5px,#8cd856 54.5px,#8cd856 76.5px)"></i><i style="top:11px;height:1px;background:linear-gradient(90deg,#8cd856 0.5px,#90d952 28.5px,#9ddb45 39.5px,#8cd856 54.5px,#8cd856 76.5px)"></i><i style="top:12px;height:1px;background:linear-gradient(90deg,#8cd856 0.5px,#8ed854 26.5px,#a2dc40 37.5px,#97da4b 48.5px,#8cd856 54.5px,#8cd856 76.5px)"></i><i style="top:13px;height:1px;background:linear-gradient(90deg,#8cd856 0.5px,#8fd853 25.5px,#adde36 38.5px,#9bdb47 48.5px,#8cd856 54.5px,#8cd856 76.5px)"></i><i style="top:14px;height:1px;background:linear-gradient(90deg,#8cd856 0.5px,#8fd953 24.5px,#b8e02b 37.5px,#afde34 44.5px,#8cd856 55.5px,#8cd856 76.5px)"></i><i style="top:15px;height:1px;background:linear-gradient(90deg,#8cd856 0.5px,#8fd853 23.5px,#bfe025 35.5px,#bfe025 42.5px,#8cd856 55.5px,#8cd856 76.5px)"></i><i style="top:16px;height:1px;background:linear-gradient(90deg,#8cd856 0.5px,#8ed854 22.5px,#b0de33 29.5px,#cae11c 35.5px,#cae11c 42.5px,#b0de33 48.5px,#8cd856 56.5px,#8cd856 76.5px)"></i><i style="top:17px;height:1px;background:linear-gradient(90deg,#8cd856 0.5px,#8dd855 21.5px,#abdd37 27.5px,#cee118 33.5px,#d8e210 39.5px,#cae11c 45.5px,#97da4b 54.5px,#8cd856 58.5px,#8cd856 76.5px)"></i><i style="top:18px;height:1px;background:linear-gradient(90deg,#8cd856 0.5px,#8dd855 20.5px,#acde37 26.5px,#d4e213 32.5px,#dfe10b 38.5px,#d8e210 44.5px,#b4df2e 50.5px,#96da4c 55.5px,#8cd856 58.5px,#8cd856 76.5px)"></i><i style="top:19px;height:1px;background:linear-gradient(90deg,#8cd856 0.5px,#8fd953 20.5px,#acde37 25.5px,#d8e210 31.5px,#e5e007 38.5px,#dce20d 45.5px,#b5df2e 51.5px,#99da49 55.5px,#8cd856 59.5px,#8cd856 76.5px)"></i><i style="top:20px;height:1px;background:linear-gradient(90deg,#8cd856 0.5px,#8dd855 19.5px,#abdd38 24.5px,#dbe20e 30.5px,#e8df05 36.5px,#e2e109 45.5px,#cde119 49.5px,#9ddb45 55.5px,#8cd856 59.5px,#8cd856 76.5px)"></i><i style="top:21px;height:1px;background:linear-gradient(90deg,#8cd856 0.5px,#90d952 19.5px,#b3df30 24.5px,#dce20d 29.5px,#eadf04 35.5px,#e4e007 46.5px,#cee119 50.5px,#9bdb47 56.5px,#8cd856 60.5px,#8cd856 76.5px)"></i><i style="top:22px;height:1px;background:linear-gradient(90deg,#8cd856 0.5px,#8ed854 18.5px,#b0de33 23.5px,#dde10c 28.5px,#ebdf03 33.5px,#e9df05 46.5px,#d6e211 50.5px,#9fdb43 56.5px,#8cd856 60.5px,#8cd856 76.5px)"></i><i style="top:23px;height:1px;background:linear-gradient(90deg,#8cd856 0.5px,#8cd856 17.5px,#adde36 22.5px,#dce20c 27.5px,#eede02 32.5px,#ecdf03 46.5px,#d5e212 51.5px,#9ddb45 57.5px,#8cd856 61.5px,#8cd856 76.5px)"></i><i style="top:24px;height:1px;background:linear-gradient(90deg,#8cd856 0.5px,#8ed854 17.5px,#b4df2f 22.5px,#dbe20d 26.5px,#efde00 31.5px,#efde00 46.5px,#dbe20d 51.5px,#a0db42 57.5px,#8cd856 61.5px,#8cd856 76.5px)"></i><i style="top:25px;height:1px;background:linear-gradient(90deg,#8cd856 0.5px,#90d952 17.5px,#afde34 21.5px,#e0e10a 26.5px,#f0dc00 30.5px,#f2d700 44.5px,#ebdf03 49.5px,#cfe117 53.5px,#9ddb45 58.5px,#8cd856 61.5px,#8cd856 76.5px)"></i><i style="top:26px;height:1px;background:linear-gradient(90deg,#8cd856 0.5px,#8dd855 16.5px,#a9dd39 20.5px,#dee10b 25.5px,#f1db00 29.5px,#f3d300 37.5px,#f2d700 47.5px,#e5e007 51.5px,#cbe11b 54.5px,#9ada48 59.5px,#8cd856 62.5px,#8cd856 76.5px)"></i><i style="top:27px;height:1px;background:linear-gradient(90deg,#8cd856 0.5px,#8fd953 16.5px,#afde33 20.5px,#dce20d 24.5px,#f1d900 28.5px,#f4ce00 33.5px,#f3d200 47.5px,#e9df05 51.5px,#d1e115 54.5px,#9ddb45 59.5px,#8cd856 62.5px,#8cd856 76.5px)"></i><i style="top:28px;height:1px;background:linear-gradient(90deg,#8cd856 0.5px,#8cd856 15.5px,#a9dd3a 19.5px,#e0e10a 24.5px,#f1da00 27.5px,#f5c900 32.5px,#f5cc00 47.5px,#edde02 51.5px,#cce11a 55.5px,#a0db42 59.5px,#8cd856 62.5px,#8cd856 76.5px)"></i><i style="top:29px;height:1px;background:linear-gradient(90deg,#8cd856 0.5px,#8dd855 15.5px,#aede35 19.5px,#dce20d 23.5px,#f1db00 26.5px,#f6c500 30.5px,#f6c700 43.5px,#f6c500 47.5px,#ebdf03 52.5px,#d1e115 55.5px,#9bdb47 60.5px,#8cd856 63.5px,#8cd856 76.5px)"></i><i style="top:30px;height:1px;background:linear-gradient(90deg,#8cd856 0.5px,#8fd953 15.5px,#b3df30 19.5px,#e0e10a 23.5px,#efdd01 25.5px,#f7bb00 30.5px,#f6c600 40.5px,#f7bb00 47.5px,#efdd01 52.5px,#cbe11b 56.5px,#9edb44 60.5px,#8cd856 63.5px,#8cd856 76.5px)"></i><i style="top:31px;height:1px;background:linear-gradient(90deg,#8cd856 0.5px,#8cd856 14.5px,#abdd37 18.5px,#dbe20d 22.5px,#f2d800 25.5px,#f8b100 29.5px,#f8b600 33.5px,#f6c600 38.5px,#f8ba00 43.5px,#f8af00 47.5px,#f7bb00 49.5px,#ecdf03 53.5px,#d0e117 56.5px,#99da49 61.5px,#8cd856 63.5px,#8cd856 76.5px)"></i><i style="top:32px;height:1px;background:linear-gradient(90deg,#8cd856 0.5px,#8dd855 14.5px,#b0de33 18.5px,#dfe10b 22.5px,#efdc01 24.5px,#f8ab00 28.5px,#f9a300 30.5px,#f8b300 34.5px,#f6c900 37.5px,#f6c500 41.5px,#f9a800 45.5px,#f9a400 48.5px,#f8b900 50.5px,#efdc01 53.5px,#d5e212 56.5px,#9cdb46 61.5px,#8dd855 63.5px,#8cd856 76.5px)"></i><i style="top:33px;height:1px;background:linear-gradient(90deg,#8cd856 0.5px,#8fd853 14.5px,#b4df2f 18.5px,#e2e109 22.5px,#f2d700 24.5px,#f7bc00 26.5px,#f99b00 28.5px,#f99a00 31.5px,#f9a500 33.5px,#f7c200 35.5px,#f4ce00 38.5px,#f5c900 41.5px,#f8b400 43.5px,#f9a500 44.5px,#fa9800 47.5px,#f99b00 49.5px,#f2d700 53.5px,#e2e109 55.5px,#b4df2f 59.5px,#8fd853 63.5px,#8cd856 76.5px)"></i><i style="top:34px;height:1px;background:linear-gradient(90deg,#8cd856 0.5px,#8cd856 13.5px,#abdd37 17.5px,#dde10c 21.5px,#eedd01 23.5px,#f7c300 25.5px,#fa9700 27.5px,#fa8b00 29.5px,#fa9400 32.5px,#f6c600 35.5px,#f3d300 38.5px,#f5cc00 41.5px,#f8b800 43.5px,#fa9400 45.5px,#fa8b00 48.5px,#fa9700 50.5px,#f7c300 52.5px,#eedd01 54.5px,#d1e116 57.5px,#99da49 62.5px,#8cd856 64.5px,#8cd856 76.5px)"></i><i style="top:35px;height:1px;background:linear-gradient(90deg,#8cd856 0.5px,#8cd856 13.5px,#afde34 17.5px,#e0e10a 21.5px,#f1d900 23.5px,#f8b500 25.5px,#fa8601 27.5px,#fa7d01 30.5px,#fa8101 31.5px,#f7bb00 34.5px,#f4d000 36.5px,#f2d700 39.5px,#f6c800 42.5px,#f9a700 44.5px,#fa8101 46.5px,#fa8001 49.5px,#fa8601 50.5px,#f5ca00 53.5px,#e8df05 55.5px,#c8e11d 58.5px,#9bda47 62.5px,#8cd856 64.5px,#8cd856 76.5px)"></i><i style="top:36px;height:1px;background:linear-gradient(90deg,#8cd856 0.5px,#8dd855 13.5px,#b3df30 17.5px,#e2e109 21.5px,#ecdf03 22.5px,#f7c100 24.5px,#fa8701 26.5px,#fa7702 27.5px,#fa6f02 30.5px,#fa7902 31.5px,#f7be00 34.5px,#f1d800 37.5px,#f1d800 40.5px,#f7be00 43.5px,#fa7902 46.5px,#fa6f02 47.5px,#fa7702 50.5px,#fa8701 51.5px,#f7c100 53.5px,#ecdf03 55.5px,#cce11a 58.5px,#9ddb45 62.5px,#8dd855 64.5px,#8cd856 76.5px)"></i><i style="top:37px;height:1px;background:linear-gradient(90deg,#8cd856 0.5px,#8ed854 13.5px,#b6df2d 17.5px,#e5e007 21.5px,#efdc01 22.5px,#f5cd00 23.5px,#f8b500 24.5px,#fa7402 26.5px,#fa6303 28.5px,#fa6203 30.5px,#f7bf00 34.5px,#f2d600 36.5px,#ebdf03 39.5px,#f4cd00 42.5px,#f7bf00 43.5px,#fa6203 47.5px,#fa6903 50.5px,#fa7402 51.5px,#f8b500 53.5px,#f5cd00 54.5px,#efdc01 55.5px,#cfe117 58.5px,#9fdb43 62.5px,#8ed854 64.5px,#8cd856 76.5px)"></i><i style="top:38px;height:1px;background:linear-gradient(90deg,#8cd856 0.5px,#90d952 13.5px,#b9e02a 17.5px,#e7e006 21.5px,#f1d800 22.5px,#f6c500 23.5px,#fa7e01 25.5px,#fa6403 26.5px,#fa5505 29.5px,#fa5b04 30.5px,#f7c100 34.5px,#efdb01 36.5px,#dce10d 38.5px,#dce10d 39.5px,#efdb01 41.5px,#f7c100 43.5px,#fa5b04 47.5px,#fa5505 48.5px,#fa6403 51.5px,#fa7e01 52.5px,#f6c500 54.5px,#f1d800 55.5px,#dee10b 57.5px,#98da4a 63.5px,#8cd856 65.5px,#8cd856 76.5px)"></i><i style="top:39px;height:1px;background:linear-gradient(90deg,#8cd856 0.5px,#8cd856 12.5px,#afde34 16.5px,#e1e10a 20.5px,#eadf04 21.5px,#f3d300 22.5px,#f7bc00 23.5px,#fa6a03 25.5px,#fa5804 26.5px,#f94c05 29.5px,#fa5804 30.5px,#f6c600 34.5px,#f2d500 35.5px,#e5e007 36.5px,#bfe025 38.5px,#bfe025 39.5px,#e5e007 41.5px,#f2d500 42.5px,#f6c600 43.5px,#fa5804 47.5px,#f94c05 48.5px,#fa5804 51.5px,#fa6a03 52.5px,#f7bc00 54.5px,#f3d300 55.5px,#eadf04 56.5px,#c8e11d 59.5px,#9ada48 63.5px,#8cd856 65.5px,#8cd856 76.5px)"></i><i style="top:40px;height:1px;background:linear-gradient(90deg,#8cd856 0.5px,#8cd856 12.5px,#b2df31 16.5px,#e3e009 20.5px,#edde02 21.5px,#f4cd00 22.5px,#f8af00 23.5px,#fa5a04 25.5px,#f94506 28.5px,#f94506 29.5px,#fa5505 30.5px,#fa8901 32.5px,#f5ca00 34.5px,#eddc03 35.5px,#d5e113 36.5px,#afde34 37.5px,#97da4b 38.5px,#97da4b 39.5px,#afde34 40.5px,#d5e113 41.5px,#eddc03 42.5px,#f5ca00 43.5px,#fa6d03 46.5px,#fa5505 47.5px,#f94506 48.5px,#f95005 51.5px,#fa5a04 52.5px,#f8af00 54.5px,#f4cd00 55.5px,#edde02 56.5px,#cbe11a 59.5px,#9bdb47 63.5px,#8cd856 65.5px,#8cd856 76.5px)"></i><i style="top:41px;height:1px;background:linear-gradient(90deg,#8cd856 0.5px,#8dd855 12.5px,#b4df2f 16.5px,#e4e007 20.5px,#efdb01 21.5px,#f6c700 22.5px,#f9a100 23.5px,#fa6f02 24.5px,#f95005 25.5px,#f83c07 28.5px,#f84107 29.5px,#fa6803 31.5px,#fa8501 32.5px,#f8b000 33.5px,#f4cf00 34.5px,#e3e008 35.5px,#b8df2c 36.5px,#89d75a 37.5px,#72d478 38.5px,#72d478 39.5px,#89d75a 40.5px,#b8df2c 41.5px,#e3e008 42.5px,#f4cf00 43.5px,#f8b000 44.5px,#fa8501 45.5px,#f95205 47.5px,#f84107 48.5px,#f83c07 49.5px,#f95005 52.5px,#fa6f02 53.5px,#f9a100 54.5px,#f6c700 55.5px,#efdb01 56.5px,#cee118 59.5px,#9ddb45 63.5px,#8dd855 65.5px,#8cd856 76.5px)"></i><i style="top:42px;height:1px;background:linear-gradient(90deg,#8cd856 0.5px,#8dd855 12.5px,#b7df2c 16.5px,#e6e006 20.5px,#f1d800 21.5px,#f7bf00 22.5px,#fa5e04 24.5px,#f94806 25.5px,#f83308 28.5px,#f94e05 30.5px,#fa6303 31.5px,#fa8501 32.5px,#f8b600 33.5px,#f0d701 34.5px,#d3e114 35.5px,#95d94e 36.5px,#68d48e 37.5px,#5ed9bf 38.5px,#5ed9bf 39.5px,#68d48e 40.5px,#95d94e 41.5px,#d3e114 42.5px,#f0d701 43.5px,#f8b600 44.5px,#fa8501 45.5px,#fa6303 46.5px,#f83e07 48.5px,#f83308 49.5px,#f94806 52.5px,#fa5e04 53.5px,#f7bf00 55.5px,#f1d800 56.5px,#dde10c 58.5px,#9edb44 63.5px,#8dd855 65.5px,#8cd856 76.5px)"></i><i style="top:43px;height:1px;background:linear-gradient(90deg,#8cd856 0.5px,#8ed854 12.5px,#b9e02a 16.5px,#dfe10b 19.5px,#e8df05 20.5px,#f3d400 21.5px,#f8b600 22.5px,#f95105 24.5px,#f83808 26.5px,#f72d09 28.5px,#fa5e04 31.5px,#fa8801 32.5px,#f7bd00 33.5px,#ebdd04 34.5px,#bbdf2a 35.5px,#76d575 36.5px,#5dd9c9 37.5px,#42cbe0 38.5px,#42cbe0 39.5px,#5dd9c9 40.5px,#76d575 41.5px,#bbdf2a 42.5px,#ebdd04 43.5px,#f7bd00 44.5px,#fa8801 45.5px,#fa5e04 46.5px,#f72d09 49.5px,#f84007 52.5px,#f95105 53.5px,#f8b600 55.5px,#f3d400 56.5px,#e8df05 57.5px,#c5e120 60.5px,#97da4b 64.5px,#8cd856 66.5px,#8cd856 76.5px)"></i><i style="top:44px;height:1px;background:linear-gradient(90deg,#8cd856 0.5px,#8fd853 12.5px,#bbe029 16.5px,#e0e10a 19.5px,#eadf04 20.5px,#f4cf00 21.5px,#f8ab00 22.5px,#fa7202 23.5px,#f94706 24.5px,#f72a09 27.5px,#f72a09 28.5px,#fa5a04 31.5px,#f6c400 33.5px,#e3e008 34.5px,#9edb46 35.5px,#63d6a6 36.5px,#40c8de 37.5px,#21a5d7 38.5px,#21a5d7 39.5px,#40c8de 40.5px,#63d6a6 41.5px,#9edb46 42.5px,#e3e008 43.5px,#f6c400 44.5px,#fa5a04 46.5px,#f72a09 49.5px,#f73008 51.5px,#f94706 53.5px,#fa7202 54.5px,#f8ab00 55.5px,#f4cf00 56.5px,#eadf04 57.5px,#c7e11e 60.5px,#98da4a 64.5px,#8cd856 66.5px,#8cd856 76.5px)"></i><i style="top:45px;height:1px;background:linear-gradient(90deg,#8cd856 0.5px,#90d952 12.5px,#bce027 16.5px,#e2e109 19.5px,#ecde03 20.5px,#f5cb00 21.5px,#f9a000 22.5px,#fa6403 23.5px,#f83f07 24.5px,#f72a09 26.5px,#f62809 28.5px,#f94406 30.5px,#fa5904 31.5px,#f4cd00 33.5px,#d6e013 34.5px,#82d765 35.5px,#58d7cd 36.5px,#24a7d8 37.5px,#2582cc 38.5px,#2582cc 39.5px,#24a7d8 40.5px,#58d7cd 41.5px,#82d765 42.5px,#d6e013 43.5px,#f4cd00 44.5px,#fa5904 46.5px,#f83308 48.5px,#f62809 49.5px,#f72a09 51.5px,#f83f07 53.5px,#fa6403 54.5px,#f9a000 55.5px,#f5cb00 56.5px,#ecde03 57.5px,#c9e11c 60.5px,#99da49 64.5px,#8cd856 66.5px,#8cd856 76.5px)"></i><i style="top:46px;height:1px;background:linear-gradient(90deg,#8cd856 0.5px,#8cd856 11.5px,#a4dc3e 14.5px,#d9e20f 18.5px,#eddd02 20.5px,#f6c500 21.5px,#f99500 22.5px,#fa5804 23.5px,#f83808 24.5px,#f62809 26.5px,#f62709 28.5px,#f84007 30.5px,#fa5904 31.5px,#f2d401 33.5px,#c3df23 34.5px,#6ed587 35.5px,#43cadc 36.5px,#2489ce 37.5px,#3660bf 38.5px,#3660bf 39.5px,#2489ce 40.5px,#43cadc 41.5px,#6ed587 42.5px,#c3df23 43.5px,#f2d401 44.5px,#fa5904 46.5px,#f73008 48.5px,#f52609 50.5px,#f72d09 52.5px,#f83808 53.5px,#fa5804 54.5px,#f99500 55.5px,#f6c500 56.5px,#eddd02 57.5px,#cbe11b 60.5px,#9ada48 64.5px,#8cd856 66.5px,#8cd856 76.5px)"></i><i style="top:47px;height:1px;background:linear-gradient(90deg,#8cd856 0.5px,#8cd856 11.5px,#a5dc3d 14.5px,#dae20e 18.5px,#efdb01 20.5px,#f7c000 21.5px,#f94e05 23.5px,#f73208 24.5px,#f52609 26.5px,#f62709 28.5px,#f72d09 29.5px,#f83d07 30.5px,#fa5a04 31.5px,#f9a200 32.5px,#efd802 33.5px,#afdd35 34.5px,#64d7a8 35.5px,#2fb3db 36.5px,#306bc3 37.5px,#4640b2 38.5px,#4640b2 39.5px,#306bc3 40.5px,#2fb3db 41.5px,#64d7a8 42.5px,#afdd35 43.5px,#efd802 44.5px,#f9a200 45.5px,#fa5a04 46.5px,#f83d07 47.5px,#f72d09 48.5px,#f52409 50.5px,#f72909 52.5px,#f73208 53.5px,#f94e05 54.5px,#f7c000 56.5px,#efdb01 57.5px,#cce11a 60.5px,#9bda47 64.5px,#8cd856 66.5px,#8cd856 76.5px)"></i><i style="top:48px;height:1px;background:linear-gradient(90deg,#8cd856 0.5px,#8cd856 11.5px,#a6dc3c 14.5px,#dce20d 18.5px,#f0d901 20.5px,#f7ba00 21.5px,#f94506 23.5px,#f72d09 24.5px,#f42309 27.5px,#f72b09 29.5px,#f83907 30.5px,#fa5d04 31.5px,#f8aa00 32.5px,#ebdc04 33.5px,#9bda49 34.5px,#5bd7c1 35.5px,#259bd4 36.5px,#3e50b9 37.5px,#4f2daa 38.5px,#4f2daa 39.5px,#3e50b9 40.5px,#259bd4 41.5px,#5bd7c1 42.5px,#9bda49 43.5px,#ebdc04 44.5px,#f8aa00 45.5px,#fa5d04 46.5px,#f83907 47.5px,#f72b09 48.5px,#f42309 50.5px,#f72d09 53.5px,#f94506 54.5px,#f7ba00 56.5px,#f0d901 57.5px,#dce20d 59.5px,#9cdb46 64.5px,#8cd856 66.5px,#8cd856 76.5px)"></i><i style="top:49px;height:1px;background:linear-gradient(90deg,#8cd856 0.5px,#8cd856 11.5px,#a7dd3b 14.5px,#dde10c 18.5px,#f1d700 20.5px,#f8b500 21.5px,#f83f07 23.5px,#f72a09 24.5px,#f3210a 27.5px,#f72909 29.5px,#f83608 30.5px,#fa6104 31.5px,#f8b000 32.5px,#e4de08 33.5px,#89d85e 34.5px,#50d3d2 35.5px,#2786cd 36.5px,#483cb0 37.5px,#5424a6 38.5px,#5424a6 39.5px,#483cb0 40.5px,#2786cd 41.5px,#50d3d2 42.5px,#89d85e 43.5px,#e4de08 44.5px,#f8b000 45.5px,#fa6104 46.5px,#f83608 47.5px,#f72909 48.5px,#f42309 51.5px,#f72a09 53.5px,#f83f07 54.5px,#f8b500 56.5px,#f1d700 57.5px,#dde10c 59.5px,#9cdb46 64.5px,#8cd856 66.5px,#8cd856 76.5px)"></i><i style="top:50px;height:1px;background:linear-gradient(90deg,#8cd856 0.5px,#8cd856 11.5px,#b5df2d 15.5px,#dde10c 18.5px,#e6e006 19.5px,#f2d500 20.5px,#f8b000 21.5px,#fa6e03 22.5px,#f83907 23.5px,#f62809 24.5px,#f3200a 27.5px,#f62809 29.5px,#f83408 30.5px,#fa6503 31.5px,#f7b700 32.5px,#dddf0e 33.5px,#7bd672 34.5px,#45cad8 35.5px,#2d73c6 36.5px,#4e2fab 37.5px,#551fa4 38.5px,#551fa4 39.5px,#4e2fab 40.5px,#2d73c6 41.5px,#45cad8 42.5px,#7bd672 43.5px,#dddf0e 44.5px,#f7b700 45.5px,#fa6503 46.5px,#f83408 47.5px,#f52409 49.5px,#f52509 52.5px,#f62809 53.5px,#f83907 54.5px,#fa6e03 55.5px,#f8b000 56.5px,#f2d500 57.5px,#e6e006 58.5px,#c3e122 61.5px,#94d94e 65.5px,#8cd856 67.5px,#8cd856 76.5px)"></i><i style="top:51px;height:1px;background:linear-gradient(90deg,#8cd856 0.5px,#8dd855 11.5px,#b6df2d 15.5px,#e7e006 19.5px,#f3d300 20.5px,#f8ab00 21.5px,#fa6703 22.5px,#f83408 23.5px,#f62709 24.5px,#f3200a 27.5px,#f62709 29.5px,#f83208 30.5px,#fa6903 31.5px,#f6bd00 32.5px,#d5e014 33.5px,#71d684 34.5px,#3dc2dc 35.5px,#3562c0 36.5px,#5228a8 37.5px,#551ea4 38.5px,#551ea4 39.5px,#5228a8 40.5px,#3562c0 41.5px,#3dc2dc 42.5px,#71d684 43.5px,#d5e014 44.5px,#f6bd00 45.5px,#fa6903 46.5px,#f83208 47.5px,#f42309 49.5px,#f3210a 51.5px,#f62709 53.5px,#f83408 54.5px,#fa6703 55.5px,#f8ab00 56.5px,#f3d300 57.5px,#e7e006 58.5px,#b6df2d 62.5px,#8dd855 66.5px,#8cd856 76.5px)"></i><i style="top:52px;height:1px;background:linear-gradient(90deg,#8cd856 0.5px,#8dd855 11.5px,#b7e02c 15.5px,#e8e005 19.5px,#f3d100 20.5px,#f9a600 21.5px,#fa6104 22.5px,#f73008 23.5px,#f42309 25.5px,#f21f0a 27.5px,#f62709 29.5px,#f73108 30.5px,#fa6c03 31.5px,#f6c100 32.5px,#ccdf1c 33.5px,#6bd692 34.5px,#35b7db 35.5px,#3b55bb 36.5px,#5324a6 37.5px,#551ea4 39.5px,#5324a6 40.5px,#3b55bb 41.5px,#35b7db 42.5px,#6bd692 43.5px,#ccdf1c 44.5px,#f6c100 45.5px,#fa6c03 46.5px,#f73108 47.5px,#f42309 49.5px,#f3200a 51.5px,#f62709 53.5px,#f73008 54.5px,#fa6104 55.5px,#f9a600 56.5px,#f3d100 57.5px,#e8e005 58.5px,#b7e02c 62.5px,#8dd855 66.5px,#8cd856 76.5px)"></i><i style="top:53px;height:1px;background:linear-gradient(90deg,#8cd856 0.5px,#8dd855 11.5px,#b8e02b 15.5px,#e8df05 19.5px,#f4d000 20.5px,#f9a200 21.5px,#fa5d04 22.5px,#f72e09 23.5px,#f21f0a 26.5px,#f52609 29.5px,#f73108 30.5px,#fa6f03 31.5px,#f5c500 32.5px,#c4de23 33.5px,#68d79e 34.5px,#2fadd9 35.5px,#404bb7 36.5px,#5422a5 37.5px,#5422a5 40.5px,#404bb7 41.5px,#2fadd9 42.5px,#68d79e 43.5px,#c4de23 44.5px,#f5c500 45.5px,#fa6f03 46.5px,#f73108 47.5px,#f42209 49.5px,#f42209 52.5px,#f72e09 54.5px,#fa5d04 55.5px,#f9a200 56.5px,#f4d000 57.5px,#e8df05 58.5px,#b8e02b 62.5px,#8dd855 66.5px,#8cd856 76.5px)"></i><i style="top:54px;height:1px;background:linear-gradient(90deg,#8cd856 0.5px,#8dd855 11.5px,#b8e02b 15.5px,#dfe10b 18.5px,#e9df05 19.5px,#f4cf00 20.5px,#f9a000 21.5px,#fa5904 22.5px,#f72d09 23.5px,#f21e0a 27.5px,#f52609 29.5px,#f73108 30.5px,#fa7202 31.5px,#f5c800 32.5px,#bdde29 33.5px,#66d8a8 34.5px,#2aa5d7 35.5px,#4444b4 36.5px,#5420a5 37.5px,#5420a5 40.5px,#4444b4 41.5px,#2aa5d7 42.5px,#66d8a8 43.5px,#bdde29 44.5px,#f5c800 45.5px,#fa7202 46.5px,#f73108 47.5px,#f42209 49.5px,#f42209 52.5px,#f72d09 54.5px,#fa5904 55.5px,#f9a000 56.5px,#f4cf00 57.5px,#e9df05 58.5px,#c5e120 61.5px,#95da4d 65.5px,#8cd856 67.5px,#8cd856 76.5px)"></i><i style="top:55px;height:1px;background:linear-gradient(90deg,#8cd856 0.5px,#8dd855 11.5px,#b8e02b 15.5px,#dfe10b 18.5px,#e9df04 19.5px,#f4ce00 20.5px,#f99e00 21.5px,#f95704 22.5px,#f72c09 23.5px,#f21e0a 27.5px,#f52609 29.5px,#f73108 30.5px,#fa7402 31.5px,#f4ca00 32.5px,#b8de2d 33.5px,#64d8af 34.5px,#289fd5 35.5px,#4640b2 36.5px,#5520a5 37.5px,#5520a5 40.5px,#4640b2 41.5px,#289fd5 42.5px,#64d8af 43.5px,#b8de2d 44.5px,#f4ca00 45.5px,#fa7402 46.5px,#f73108 47.5px,#f42209 49.5px,#f3210a 52.5px,#f72c09 54.5px,#f95704 55.5px,#f99e00 56.5px,#f4ce00 57.5px,#e9df04 58.5px,#c5e120 61.5px,#95da4d 65.5px,#8cd856 67.5px,#8cd856 76.5px)"></i><i style="top:56px;height:1px;background:linear-gradient(90deg,#8cd856 0.5px,#8dd855 11.5px,#b8e02b 15.5px,#dfe10b 18.5px,#e9df04 19.5px,#f4ce00 20.5px,#f99c00 21.5px,#f95605 22.5px,#f72b09 23.5px,#f21d0a 27.5px,#f52509 29.5px,#f73108 30.5px,#fa7502 31.5px,#f4cb00 32.5px,#b5dd30 33.5px,#63d9b4 34.5px,#289bd4 35.5px,#473db1 36.5px,#551fa4 37.5px,#551fa4 40.5px,#473db1 41.5px,#289bd4 42.5px,#63d9b4 43.5px,#b5dd30 44.5px,#f4cb00 45.5px,#fa7502 46.5px,#f73108 47.5px,#f3210a 49.5px,#f3210a 52.5px,#f72b09 54.5px,#f95605 55.5px,#f99c00 56.5px,#f4ce00 57.5px,#e9df04 58.5px,#c5e11f 61.5px,#95da4d 65.5px,#8cd856 67.5px,#8cd856 76.5px)"></i><i style="top:57px;height:1px;background:linear-gradient(90deg,#8cd856 0.5px,#8dd855 11.5px,#b9e02b 15.5px,#dfe10b 18.5px,#e9df04 19.5px,#f4ce00 20.5px,#f99c00 21.5px,#f95505 22.5px,#f72b09 23.5px,#f21d0a 27.5px,#f52509 29.5px,#f73108 30.5px,#fa7602 31.5px,#f4cb00 32.5px,#b4dd31 33.5px,#62d8b5 34.5px,#289ad4 35.5px,#483cb1 36.5px,#551fa4 37.5px,#551fa4 40.5px,#483cb1 41.5px,#289ad4 42.5px,#62d8b5 43.5px,#b4dd31 44.5px,#f4cb00 45.5px,#fa7602 46.5px,#f73108 47.5px,#f52509 48.5px,#f21d0a 51.5px,#f72b09 54.5px,#f95505 55.5px,#f99c00 56.5px,#f4ce00 57.5px,#e9df04 58.5px,#c5e11f 61.5px,#95da4d 65.5px,#8cd856 67.5px,#8cd856 76.5px)"></i><i style="top:58px;height:1px;background:linear-gradient(90deg,#8cd856 0.5px,#8dd855 11.5px,#b9e02b 15.5px,#dfe10b 18.5px,#e9df04 19.5px,#f4ce00 20.5px,#f99c00 21.5px,#f95505 22.5px,#f72b09 23.5px,#f21d0a 27.5px,#f52509 29.5px,#f73108 30.5px,#fa7502 31.5px,#f4cb00 32.5px,#b5dd30 33.5px,#63d8b4 34.5px,#289ad4 35.5px,#473db1 36.5px,#551fa4 37.5px,#551fa4 40.5px,#473db1 41.5px,#289ad4 42.5px,#63d8b4 43.5px,#b5dd30 44.5px,#f4cb00 45.5px,#fa7502 46.5px,#f73108 47.5px,#f52509 48.5px,#f21d0a 51.5px,#f72b09 54.5px,#f95505 55.5px,#f99c00 56.5px,#f4ce00 57.5px,#e9df04 58.5px,#c5e11f 61.5px,#95da4d 65.5px,#8cd856 67.5px,#8cd856 76.5px)"></i><i style="top:59px;height:1px;background:linear-gradient(90deg,#8cd856 0.5px,#8dd855 11.5px,#b8e02b 15.5px,#dfe10b 18.5px,#e9df04 19.5px,#f4ce00 20.5px,#f99d00 21.5px,#f95705 22.5px,#f72b09 23.5px,#f21e0a 27.5px,#f52509 29.5px,#f73108 30.5px,#fa7402 31.5px,#f4ca00 32.5px,#b7de2e 33.5px,#64d8b1 34.5px,#289dd5 35.5px,#473fb1 36.5px,#551fa4 37.5px,#551fa4 40.5px,#473fb1 41.5px,#289dd5 42.5px,#64d8b1 43.5px,#b7de2e 44.5px,#f4ca00 45.5px,#fa7402 46.5px,#f73108 47.5px,#f42209 49.5px,#f3210a 52.5px,#f72b09 54.5px,#f95705 55.5px,#f99d00 56.5px,#f4ce00 57.5px,#e9df04 58.5px,#c5e120 61.5px,#95da4d 65.5px,#8cd856 67.5px,#8cd856 76.5px)"></i><i style="top:60px;height:1px;background:linear-gradient(90deg,#8cd856 0.5px,#8dd855 11.5px,#b8e02b 15.5px,#dfe10b 18.5px,#e9df05 19.5px,#f4cf00 20.5px,#f99f00 21.5px,#f95804 22.5px,#f72c09 23.5px,#f21e0a 27.5px,#f52609 29.5px,#f73108 30.5px,#fa7302 31.5px,#f5c900 32.5px,#bbde2b 33.5px,#65d8ab 34.5px,#29a2d6 35.5px,#4542b3 36.5px,#5520a5 37.5px,#5520a5 40.5px,#4542b3 41.5px,#29a2d6 42.5px,#65d8ab 43.5px,#bbde2b 44.5px,#f5c900 45.5px,#fa7302 46.5px,#f73108 47.5px,#f42209 49.5px,#f42209 52.5px,#f72c09 54.5px,#f95804 55.5px,#f99f00 56.5px,#f4cf00 57.5px,#e9df05 58.5px,#c5e120 61.5px,#95da4d 65.5px,#8cd856 67.5px,#8cd856 76.5px)"></i><i style="top:61px;height:1px;background:linear-gradient(90deg,#8cd856 0.5px,#8dd855 11.5px,#b8e02b 15.5px,#e8df05 19.5px,#f4d000 20.5px,#f9a100 21.5px,#fa5b04 22.5px,#f72d09 23.5px,#f21e0a 27.5px,#f52609 29.5px,#f73108 30.5px,#fa7002 31.5px,#f5c600 32.5px,#c1de25 33.5px,#67d7a2 34.5px,#2ca9d8 35.5px,#4248b5 36.5px,#5421a5 37.5px,#5421a5 40.5px,#4248b5 41.5px,#2ca9d8 42.5px,#67d7a2 43.5px,#c1de25 44.5px,#f5c600 45.5px,#fa7002 46.5px,#f73108 47.5px,#f42209 49.5px,#f42209 52.5px,#f72d09 54.5px,#fa5b04 55.5px,#f9a100 56.5px,#f4d000 57.5px,#e8df05 58.5px,#b8e02b 62.5px,#8dd855 66.5px,#8cd856 76.5px)"></i><i style="top:62px;height:1px;background:linear-gradient(90deg,#8cd856 0.5px,#8dd855 11.5px,#b7e02c 15.5px,#e8df05 19.5px,#f3d100 20.5px,#f9a500 21.5px,#fa5f04 22.5px,#f72f08 23.5px,#f31f0a 26.5px,#f62709 29.5px,#f73108 30.5px,#fa6d03 31.5px,#f5c300 32.5px,#c8df1f 33.5px,#69d697 34.5px,#33b3da 35.5px,#3d51b9 36.5px,#5423a6 37.5px,#551ea4 39.5px,#5423a6 40.5px,#3d51b9 41.5px,#33b3da 42.5px,#69d697 43.5px,#c8df1f 44.5px,#f5c300 45.5px,#fa6d03 46.5px,#f73108 47.5px,#f42309 49.5px,#f31f0a 51.5px,#f72f08 54.5px,#fa5f04 55.5px,#f9a500 56.5px,#f3d100 57.5px,#e8df05 58.5px,#b7e02c 62.5px,#8dd855 66.5px,#8cd856 76.5px)"></i><i style="top:63px;height:1px;background:linear-gradient(90deg,#8cd856 0.5px,#8dd855 11.5px,#b7df2c 15.5px,#e7e006 19.5px,#f3d200 20.5px,#f9a900 21.5px,#fa6503 22.5px,#f73308 23.5px,#f42409 25.5px,#f31f0a 27.5px,#f62709 29.5px,#f73208 30.5px,#fa6a03 31.5px,#f6bf00 32.5px,#d1df17 33.5px,#6ed58a 34.5px,#3abedc 35.5px,#375cbd 36.5px,#5326a7 37.5px,#551ea4 39.5px,#5326a7 40.5px,#375cbd 41.5px,#3abedc 42.5px,#6ed58a 43.5px,#d1df17 44.5px,#f6bf00 45.5px,#fa6a03 46.5px,#f73208 47.5px,#f42309 49.5px,#f3200a 51.5px,#f62709 53.5px,#f73308 54.5px,#fa6503 55.5px,#f9a900 56.5px,#f3d200 57.5px,#e7e006 58.5px,#b7df2c 62.5px,#8dd855 66.5px,#8cd856 76.5px)"></i><i style="top:64px;height:1px;background:linear-gradient(90deg,#8cd856 0.5px,#8dd855 11.5px,#b6df2d 15.5px,#dee10c 18.5px,#e7e006 19.5px,#f2d400 20.5px,#f8ae00 21.5px,#fa6b03 22.5px,#f83708 23.5px,#f62809 24.5px,#f3200a 27.5px,#f62809 29.5px,#f83308 30.5px,#fa6603 31.5px,#f7b900 32.5px,#dae010 33.5px,#77d679 34.5px,#41c7da 35.5px,#306cc3 36.5px,#502caa 37.5px,#551fa4 38.5px,#551fa4 39.5px,#502caa 40.5px,#306cc3 41.5px,#41c7da 42.5px,#77d679 43.5px,#dae010 44.5px,#f7b900 45.5px,#fa6603 46.5px,#f83308 47.5px,#f42409 49.5px,#f3210a 51.5px,#f62809 53.5px,#f83708 54.5px,#fa6b03 55.5px,#f8ae00 56.5px,#f2d400 57.5px,#e7e006 58.5px,#c3e122 61.5px,#94d94e 65.5px,#8cd856 67.5px,#8cd856 76.5px)"></i><i style="top:65px;height:1px;background:linear-gradient(90deg,#8cd856 0.5px,#8cd856 11.5px,#a7dd3b 14.5px,#dde10c 18.5px,#e6e006 19.5px,#f2d600 20.5px,#f8b300 21.5px,#fa7302 22.5px,#f83c07 23.5px,#f72909 24.5px,#f3210a 27.5px,#f62909 29.5px,#f83508 30.5px,#fa6304 31.5px,#f7b300 32.5px,#e1de0a 33.5px,#83d766 34.5px,#4cd0d6 35.5px,#297eca 36.5px,#4b36ae 37.5px,#5421a5 38.5px,#5421a5 39.5px,#4b36ae 40.5px,#297eca 41.5px,#4cd0d6 42.5px,#83d766 43.5px,#e1de0a 44.5px,#f7b300 45.5px,#fa6304 46.5px,#f83508 47.5px,#f52509 49.5px,#f52609 52.5px,#f72909 53.5px,#f83c07 54.5px,#fa7302 55.5px,#f8b300 56.5px,#f2d600 57.5px,#e6e006 58.5px,#c2e122 61.5px,#93d94f 65.5px,#8cd856 67.5px,#8cd856 76.5px)"></i><i style="top:66px;height:1px;background:linear-gradient(90deg,#8cd856 0.5px,#8cd856 11.5px,#a6dd3c 14.5px,#dce20d 18.5px,#f1d801 20.5px,#f7b800 21.5px,#f94206 23.5px,#f72c09 24.5px,#f42209 27.5px,#f72a09 29.5px,#f83808 30.5px,#fa5f04 31.5px,#f8ac00 32.5px,#e8dd05 33.5px,#93d951 34.5px,#57d5c8 35.5px,#2593d1 36.5px,#4247b5 37.5px,#5229a8 38.5px,#5229a8 39.5px,#4247b5 40.5px,#2593d1 41.5px,#57d5c8 42.5px,#93d951 43.5px,#e8dd05 44.5px,#f8ac00 45.5px,#fa5f04 46.5px,#f83808 47.5px,#f72a09 48.5px,#f42209 50.5px,#f72c09 53.5px,#f94206 54.5px,#f7b800 56.5px,#f1d801 57.5px,#dce20d 59.5px,#9cdb46 64.5px,#8cd856 66.5px,#8cd856 76.5px)"></i><i style="top:67px;height:1px;background:linear-gradient(90deg,#8cd856 0.5px,#8cd856 11.5px,#a5dc3d 14.5px,#dbe20e 18.5px,#efda01 20.5px,#f7be00 21.5px,#f94a06 23.5px,#f73008 24.5px,#f42309 27.5px,#f72c09 29.5px,#f83b07 30.5px,#fa5b04 31.5px,#f9a500 32.5px,#edda03 33.5px,#a7dc3d 34.5px,#61d8b4 35.5px,#29a9d8 36.5px,#3660bf 37.5px,#4a37af 38.5px,#4a37af 39.5px,#3660bf 40.5px,#29a9d8 41.5px,#61d8b4 42.5px,#a7dc3d 43.5px,#edda03 44.5px,#f9a500 45.5px,#fa5b04 46.5px,#f83b07 47.5px,#f72c09 48.5px,#f42309 50.5px,#f73008 53.5px,#f94a06 54.5px,#f7be00 56.5px,#efda01 57.5px,#cde119 60.5px,#9bdb47 64.5px,#8cd856 66.5px,#8cd856 76.5px)"></i><i style="top:68px;height:1px;background:linear-gradient(90deg,#8cd856 0.5px,#8cd856 11.5px,#a4dc3e 14.5px,#dae20f 18.5px,#eedc02 20.5px,#f6c300 21.5px,#fa9101 22.5px,#f95405 23.5px,#f83508 24.5px,#f62709 26.5px,#f62709 28.5px,#f72f09 29.5px,#f83f07 30.5px,#fa5904 31.5px,#f99d00 32.5px,#f0d501 33.5px,#bcdf29 34.5px,#69d594 35.5px,#3bc2dd 36.5px,#287dca 37.5px,#3d52b9 38.5px,#3d52b9 39.5px,#287dca 40.5px,#3bc2dd 41.5px,#69d594 42.5px,#bcdf29 43.5px,#f0d501 44.5px,#f99d00 45.5px,#fa5904 46.5px,#f83f07 47.5px,#f72f09 48.5px,#f52509 50.5px,#f72b09 52.5px,#f83508 53.5px,#f95405 54.5px,#fa9101 55.5px,#f6c300 56.5px,#eedc02 57.5px,#cbe11a 60.5px,#9ada48 64.5px,#8cd856 66.5px,#8cd856 76.5px)"></i><i style="top:69px;height:1px;background:linear-gradient(90deg,#8cd856 0.5px,#90d952 12.5px,#bde027 16.5px,#e2e109 19.5px,#eddd02 20.5px,#f5c900 21.5px,#f99c00 22.5px,#fa5f04 23.5px,#f83c07 24.5px,#f72909 26.5px,#f62809 28.5px,#f94306 30.5px,#fa5804 31.5px,#f3d000 33.5px,#cfe019 34.5px,#79d672 35.5px,#50d3d5 36.5px,#229bd4 37.5px,#2b75c7 38.5px,#2b75c7 39.5px,#229bd4 40.5px,#50d3d5 41.5px,#79d672 42.5px,#cfe019 43.5px,#f3d000 44.5px,#fa5804 46.5px,#f83208 48.5px,#f62809 49.5px,#f72909 51.5px,#f83c07 53.5px,#fa5f04 54.5px,#f99c00 55.5px,#f5c900 56.5px,#eddd02 57.5px,#cae11c 60.5px,#99da49 64.5px,#8cd856 66.5px,#8cd856 76.5px)"></i><i style="top:70px;height:1px;background:linear-gradient(90deg,#8cd856 0.5px,#8fd953 12.5px,#bbe028 16.5px,#e1e10a 19.5px,#ebdf03 20.5px,#f4ce00 21.5px,#f9a700 22.5px,#fa6c03 23.5px,#f94406 24.5px,#f72d09 26.5px,#f62909 28.5px,#fa5904 31.5px,#f5c700 33.5px,#dee00c 34.5px,#92d952 35.5px,#5fd8b8 36.5px,#31bbdd 37.5px,#2097d3 38.5px,#2097d3 39.5px,#31bbdd 40.5px,#5fd8b8 41.5px,#92d952 42.5px,#dee00c 43.5px,#f5c700 44.5px,#fa5904 46.5px,#f62909 49.5px,#f72d09 51.5px,#f94406 53.5px,#fa6c03 54.5px,#f9a700 55.5px,#f4ce00 56.5px,#ebdf03 57.5px,#c8e11d 60.5px,#98da4a 64.5px,#8cd856 66.5px,#8cd856 76.5px)"></i><i style="top:71px;height:1px;background:linear-gradient(90deg,#8cd856 0.5px,#8ed854 12.5px,#bae02a 16.5px,#dfe10b 19.5px,#e9df05 20.5px,#f3d200 21.5px,#f8b200 22.5px,#f94d05 24.5px,#f83508 26.5px,#f72b09 28.5px,#fa5d04 31.5px,#fa8a01 32.5px,#f6c000 33.5px,#e8de05 34.5px,#afdd34 35.5px,#6cd489 36.5px,#55d7d7 37.5px,#2ebadd 38.5px,#2ebadd 39.5px,#55d7d7 40.5px,#6cd489 41.5px,#afdd34 42.5px,#e8de05 43.5px,#f6c000 44.5px,#fa8a01 45.5px,#fa5d04 46.5px,#f72b09 49.5px,#f83508 51.5px,#f94d05 53.5px,#f8b200 55.5px,#f3d200 56.5px,#e9df05 57.5px,#c6e11f 60.5px,#97da4b 64.5px,#8cd856 66.5px,#8cd856 76.5px)"></i><i style="top:72px;height:1px;background:linear-gradient(90deg,#8cd856 0.5px,#8ed854 12.5px,#b7e02c 16.5px,#e7e006 20.5px,#f2d600 21.5px,#f7bb00 22.5px,#fa5804 24.5px,#f94506 25.5px,#f73108 28.5px,#f94d05 30.5px,#fa6103 31.5px,#fa8601 32.5px,#f7b800 33.5px,#eed902 34.5px,#cbe01c 35.5px,#88d75c 36.5px,#61d6a7 37.5px,#5cdbd5 38.5px,#5cdbd5 39.5px,#61d6a7 40.5px,#88d75c 41.5px,#cbe01c 42.5px,#eed902 43.5px,#f7b800 44.5px,#fa8601 45.5px,#fa6103 46.5px,#f83c07 48.5px,#f73108 49.5px,#f94506 52.5px,#fa5804 53.5px,#f7bb00 55.5px,#f2d600 56.5px,#dee10b 58.5px,#9fdb43 63.5px,#8ed854 65.5px,#8cd856 76.5px)"></i><i style="top:73px;height:1px;background:linear-gradient(90deg,#8cd856 0.5px,#8dd855 12.5px,#b5df2e 16.5px,#dce20d 19.5px,#f0da01 21.5px,#f6c400 22.5px,#f99b00 23.5px,#fa6803 24.5px,#f94c05 25.5px,#f83808 28.5px,#f84007 29.5px,#fa6603 31.5px,#fa8501 32.5px,#f8b300 33.5px,#f3d200 34.5px,#dee10c 35.5px,#7cd56b 37.5px,#65d494 38.5px,#65d494 39.5px,#7cd56b 40.5px,#dee10c 42.5px,#f3d200 43.5px,#f8b300 44.5px,#fa8501 45.5px,#fa6603 46.5px,#f84007 48.5px,#f83808 49.5px,#f94c05 52.5px,#fa6803 53.5px,#f99b00 54.5px,#f6c400 55.5px,#f0da01 56.5px,#cfe117 59.5px,#9edb45 63.5px,#8dd855 65.5px,#8cd856 76.5px)"></i><i style="top:74px;height:1px;background:linear-gradient(90deg,#8cd856 0.5px,#8cd856 12.5px,#b3df30 16.5px,#e3e008 20.5px,#eedd02 21.5px,#f5cb00 22.5px,#f9a900 23.5px,#fa7a02 24.5px,#fa5505 25.5px,#f84107 28.5px,#f94306 29.5px,#fa6b03 31.5px,#fa8701 32.5px,#f5cc00 34.5px,#e9de05 35.5px,#cbe11b 36.5px,#9fdb43 37.5px,#89d75b 38.5px,#89d75b 39.5px,#9fdb43 40.5px,#cbe11b 41.5px,#e9de05 42.5px,#f5cc00 43.5px,#fa6b03 46.5px,#f94306 48.5px,#f94606 50.5px,#fa5505 52.5px,#fa7a02 53.5px,#f9a900 54.5px,#f5cb00 55.5px,#eedd02 56.5px,#cce11a 59.5px,#9cdb46 63.5px,#8cd856 65.5px,#8cd856 76.5px)"></i><i style="top:75px;height:1px;background:linear-gradient(90deg,#8cd856 0.5px,#8cd856 12.5px,#b0de33 16.5px,#e1e109 20.5px,#ebdf03 21.5px,#f3d100 22.5px,#f8b700 23.5px,#fa6303 25.5px,#fa5405 26.5px,#f94906 29.5px,#fa5704 30.5px,#f9a800 33.5px,#f6c700 34.5px,#f0d801 35.5px,#dfe10b 36.5px,#afde34 38.5px,#afde34 39.5px,#dfe10b 41.5px,#f0d801 42.5px,#f6c700 43.5px,#fa6f02 46.5px,#fa5704 47.5px,#f94906 48.5px,#fa5405 51.5px,#fa6303 52.5px,#f8b700 54.5px,#f3d100 55.5px,#ebdf03 56.5px,#cae11c 59.5px,#9ada48 63.5px,#8cd856 65.5px,#8cd856 76.5px)"></i><i style="top:76px;height:1px;background:linear-gradient(90deg,#8cd856 0.5px,#90d952 13.5px,#bae029 17.5px,#dfe10b 20.5px,#f2d600 22.5px,#f7c200 23.5px,#fa7602 25.5px,#fa5e04 26.5px,#f95105 29.5px,#fa5a04 30.5px,#f6c300 34.5px,#ecde03 36.5px,#d3e114 38.5px,#d3e114 39.5px,#ecde03 41.5px,#f6c300 43.5px,#fa5a04 47.5px,#f95105 48.5px,#fa5e04 51.5px,#fa7602 52.5px,#f7c200 54.5px,#f2d600 55.5px,#dfe10b 57.5px,#99da49 63.5px,#8cd856 65.5px,#8cd856 76.5px)"></i><i style="top:77px;height:1px;background:linear-gradient(90deg,#8cd856 0.5px,#8fd853 13.5px,#b7e02c 17.5px,#e5e007 21.5px,#f0db01 22.5px,#f5ca00 23.5px,#f8ae00 24.5px,#fa6d03 26.5px,#fa5b04 29.5px,#fa5e04 30.5px,#f7c000 34.5px,#f2d800 36.5px,#e5e007 38.5px,#ecde03 40.5px,#f4cf00 42.5px,#f7c000 43.5px,#fa5e04 47.5px,#fa5e04 49.5px,#fa6d03 51.5px,#f5ca00 54.5px,#f0db01 55.5px,#d1e116 58.5px,#a0db42 62.5px,#8cd856 65.5px,#8cd856 76.5px)"></i><i style="top:78px;height:1px;background:linear-gradient(90deg,#8cd856 0.5px,#8ed854 13.5px,#b4df2f 17.5px,#e3e008 21.5px,#edde02 22.5px,#f7bd00 24.5px,#fa7f01 26.5px,#fa7102 27.5px,#fa6a03 30.5px,#fa7802 31.5px,#f7be00 34.5px,#f1da00 37.5px,#f1da00 40.5px,#f7be00 43.5px,#fa7802 46.5px,#fa6a03 47.5px,#fa7102 50.5px,#fa7f01 51.5px,#f7bd00 53.5px,#edde02 55.5px,#cde119 58.5px,#9edb44 62.5px,#8ed854 64.5px,#8cd856 76.5px)"></i><i style="top:79px;height:1px;background:linear-gradient(90deg,#8cd856 0.5px,#8dd855 13.5px,#b0de32 17.5px,#e1e10a 21.5px,#f2d700 23.5px,#f6c700 24.5px,#fa9200 26.5px,#fa7f01 27.5px,#fa7802 30.5px,#fa7d01 31.5px,#f7bc00 34.5px,#f3d100 36.5px,#f1d800 39.5px,#f5c900 42.5px,#f7bc00 43.5px,#fa7d01 46.5px,#fa7802 48.5px,#fa7f01 50.5px,#fa9200 51.5px,#f6c700 53.5px,#e9df04 55.5px,#c9e11c 58.5px,#9bdb47 62.5px,#8dd855 64.5px,#8cd856 76.5px)"></i><i style="top:80px;height:1px;background:linear-gradient(90deg,#8cd856 0.5px,#8cd856 13.5px,#adde36 17.5px,#dee10b 21.5px,#f0db01 23.5px,#f7be00 25.5px,#fa9000 27.5px,#fa8601 29.5px,#fa8801 31.5px,#fa9200 32.5px,#f8b900 34.5px,#f4ce00 36.5px,#f2d400 39.5px,#f6c700 42.5px,#f9a600 44.5px,#fa9200 45.5px,#fa8601 47.5px,#fa8801 49.5px,#fa9000 50.5px,#f7be00 52.5px,#f0db01 54.5px,#d3e214 57.5px,#99da49 62.5px,#8cd856 64.5px,#8cd856 76.5px)"></i><i style="top:81px;height:1px;background:linear-gradient(90deg,#8cd856 0.5px,#8fd953 14.5px,#b6df2d 18.5px,#e3e008 22.5px,#f2d500 24.5px,#f8b600 26.5px,#f9a200 27.5px,#fa9500 28.5px,#fa9500 31.5px,#f9a400 33.5px,#f7c400 35.5px,#f4d000 38.5px,#f5ca00 41.5px,#f8b600 43.5px,#f99900 45.5px,#fa9300 48.5px,#fa9500 49.5px,#f9a200 50.5px,#f6c800 52.5px,#ecde02 54.5px,#cee118 57.5px,#9fdb43 61.5px,#8cd856 64.5px,#8cd856 76.5px)"></i><i style="top:82px;height:1px;background:linear-gradient(90deg,#8cd856 0.5px,#8ed854 14.5px,#b2df31 18.5px,#e0e10a 22.5px,#f1da00 24.5px,#f8b300 27.5px,#f9a400 28.5px,#f99f00 30.5px,#f9a900 33.5px,#f6c700 36.5px,#f5ca00 40.5px,#f7c000 42.5px,#f9a900 44.5px,#f99f00 48.5px,#f9a400 49.5px,#f4cf00 52.5px,#e8df05 54.5px,#cae11c 57.5px,#9ddb45 61.5px,#8cd856 64.5px,#8cd856 76.5px)"></i><i style="top:83px;height:1px;background:linear-gradient(90deg,#8cd856 0.5px,#8dd855 14.5px,#adde36 18.5px,#dde10c 22.5px,#edde02 24.5px,#f8ac00 29.5px,#f8b300 33.5px,#f6c700 38.5px,#f7c300 41.5px,#f8ac00 46.5px,#f8ac00 48.5px,#edde02 53.5px,#d2e215 56.5px,#9ada48 61.5px,#8dd855 63.5px,#8cd856 76.5px)"></i><i style="top:84px;height:1px;background:linear-gradient(90deg,#8cd856 0.5px,#8cd856 14.5px,#a9dd3a 18.5px,#d9e20f 22.5px,#f0db00 25.5px,#f8b600 30.5px,#f6c500 38.5px,#f7bc00 44.5px,#f8b600 47.5px,#f0db00 52.5px,#d9e20f 55.5px,#9fdb43 60.5px,#8cd856 63.5px,#8cd856 76.5px)"></i><i style="top:85px;height:1px;background:linear-gradient(90deg,#8cd856 0.5px,#8ed854 15.5px,#b0de33 19.5px,#dee10c 23.5px,#f1d900 26.5px,#f7c200 30.5px,#f6c600 42.5px,#f7c200 47.5px,#edde02 52.5px,#d4e213 55.5px,#9ddb45 60.5px,#8cd856 63.5px,#8cd856 76.5px)"></i><i style="top:86px;height:1px;background:linear-gradient(90deg,#8cd856 0.5px,#8dd855 15.5px,#abdd38 19.5px,#d9e20f 23.5px,#f2d700 27.5px,#f6c800 31.5px,#f5c900 47.5px,#efdd01 51.5px,#cee118 55.5px,#9ada48 60.5px,#8cd856 63.5px,#8cd856 76.5px)"></i><i style="top:87px;height:1px;background:linear-gradient(90deg,#8cd856 0.5px,#90d952 16.5px,#b2df31 20.5px,#dde10c 24.5px,#f2d700 28.5px,#f5cc00 33.5px,#f4cf00 47.5px,#ebdf03 51.5px,#d4e213 54.5px,#9edb44 59.5px,#8cd856 62.5px,#8cd856 76.5px)"></i><i style="top:88px;height:1px;background:linear-gradient(90deg,#8cd856 0.5px,#8ed854 16.5px,#acde37 20.5px,#e0e10a 25.5px,#f1d800 29.5px,#f3d100 36.5px,#f2d500 47.5px,#e6e006 51.5px,#cde119 54.5px,#9bda47 59.5px,#8cd856 62.5px,#8cd856 76.5px)"></i><i style="top:89px;height:1px;background:linear-gradient(90deg,#8cd856 0.5px,#8cd856 16.5px,#b1df31 21.5px,#dbe20d 25.5px,#f0dd00 29.5px,#f2d500 38.5px,#f1da00 47.5px,#e2e109 51.5px,#bde027 55.5px,#98da4a 59.5px,#8cd856 62.5px,#8cd856 76.5px)"></i><i style="top:90px;height:1px;background:linear-gradient(90deg,#8cd856 0.5px,#8fd853 17.5px,#abdd38 21.5px,#dde10c 26.5px,#f0dd00 31.5px,#f1db00 45.5px,#e3e008 50.5px,#c1e024 54.5px,#9bdb47 58.5px,#8cd856 61.5px,#8cd856 76.5px)"></i><i style="top:91px;height:1px;background:linear-gradient(90deg,#8cd856 0.5px,#8dd855 17.5px,#afde33 22.5px,#dee10b 27.5px,#efde01 32.5px,#ebdf03 47.5px,#d8e210 51.5px,#9edb44 57.5px,#8cd856 61.5px,#8cd856 76.5px)"></i><i style="top:92px;height:1px;background:linear-gradient(90deg,#8cd856 0.5px,#8fd853 18.5px,#b3df30 23.5px,#dfe10b 28.5px,#edde02 34.5px,#eadf04 46.5px,#d9e20f 50.5px,#9bda47 57.5px,#8cd856 60.5px,#8cd856 76.5px)"></i><i style="top:93px;height:1px;background:linear-gradient(90deg,#8cd856 0.5px,#8dd855 18.5px,#acde37 23.5px,#d9e20f 28.5px,#eadf04 33.5px,#e6e006 46.5px,#d1e116 50.5px,#9ddb45 56.5px,#8cd856 60.5px,#8cd856 76.5px)"></i><i style="top:94px;height:1px;background:linear-gradient(90deg,#8cd856 0.5px,#8ed854 19.5px,#aede35 24.5px,#dde10c 30.5px,#e9df04 36.5px,#e4e008 45.5px,#d1e116 49.5px,#9fdb43 55.5px,#8cd856 59.5px,#8cd856 76.5px)"></i><i style="top:95px;height:1px;background:linear-gradient(90deg,#8cd856 0.5px,#8cd856 19.5px,#afde33 25.5px,#dbe20d 31.5px,#e7e006 38.5px,#dee10b 45.5px,#c0e024 50.5px,#9bda47 55.5px,#8cd856 59.5px,#8cd856 76.5px)"></i><i style="top:96px;height:1px;background:linear-gradient(90deg,#8cd856 0.5px,#8dd855 20.5px,#b0de33 26.5px,#d8e210 32.5px,#e1e10a 40.5px,#d3e214 46.5px,#97da4b 55.5px,#8cd856 58.5px,#8cd856 76.5px)"></i><i style="top:97px;height:1px;background:linear-gradient(90deg,#8cd856 0.5px,#8fd853 21.5px,#afde34 27.5px,#d6e212 34.5px,#dae20e 41.5px,#c3e121 47.5px,#98da4a 54.5px,#8cd856 58.5px,#8cd856 76.5px)"></i><i style="top:98px;height:1px;background:linear-gradient(90deg,#8cd856 0.5px,#90d952 22.5px,#b4df2f 29.5px,#cee118 35.5px,#cee118 42.5px,#b4df2f 48.5px,#90d952 55.5px,#8cd856 76.5px)"></i><i style="top:99px;height:1px;background:linear-gradient(90deg,#8cd856 0.5px,#8dd855 22.5px,#c1e023 34.5px,#c5e120 41.5px,#b0de33 47.5px,#8dd855 55.5px,#8cd856 76.5px)"></i><i style="top:100px;height:1px;background:linear-gradient(90deg,#8cd856 0.5px,#8dd855 23.5px,#bbe028 36.5px,#b7e02c 43.5px,#8cd856 55.5px,#8cd856 76.5px)"></i><i style="top:101px;height:1px;background:linear-gradient(90deg,#8cd856 0.5px,#8dd855 24.5px,#b1de32 37.5px,#a8dd3a 44.5px,#8cd856 54.5px,#8cd856 76.5px)"></i><i style="top:102px;height:1px;background:linear-gradient(90deg,#8cd856 0.5px,#90d952 26.5px,#a6dc3c 38.5px,#93d94f 50.5px,#8cd856 56.5px,#8cd856 76.5px)"></i><i style="top:103px;height:1px;background:linear-gradient(90deg,#8cd856 0.5px,#8fd853 27.5px,#9fdb43 38.5px,#92d950 49.5px,#8cd856 58.5px,#8cd856 76.5px)"></i><i style="top:104px;height:1px;background:linear-gradient(90deg,#8cd856 0.5px,#90d952 29.5px,#9ada48 40.5px,#8cd856 54.5px,#8cd856 76.5px)"></i><i style="top:105px;height:1px;background:linear-gradient(90deg,#8cd856 0.5px,#90d952 31.5px,#94d94e 43.5px,#8cd856 54.5px,#8cd856 76.5px)"></i><i style="top:106px;height:1px;background:linear-gradient(90deg,#8cd856 0.5px,#90d952 35.5px,#8cd856 76.5px)"></i><i style="top:107px;height:1px;background:linear-gradient(90deg,#8cd856 0.5px,#8cd856 76.5px)"></i><i style="top:108px;height:1px;background:linear-gradient(90deg,#8cd856 0.5px,#8cd856 76.5px)"></i><i style="top:109px;height:1px;background:linear-gradient(90deg,#8cd856 0.5px,#8cd856 76.5px)"></i><i style="top:110px;height:1px;background:linear-gradient(90deg,#8cd856 0.5px,#8cd856 76.5px)"></i><i style="top:111px;height:1px;background:linear-gradient(90deg,#8cd856 0.5px,#8cd856 76.5px)"></i><i style="top:112px;height:1px;background:linear-gradient(90deg,#8cd856 0.5px,#8cd856 76.5px)"></i><i style="top:113px;height:1px;background:linear-gradient(90deg,#8cd856 0.5px,#8cd856 76.5px)"></i><i style="top:114px;height:1px;background:linear-gradient(90deg,#8cd856 0.5px,#8cd856 76.5px)"></i></div>
<div class="hm" style="left:291px;top:149px;width:77px;height:116px"><i style="top:0px;height:1px;background:linear-gradient(90deg,#8cd856 0.5px,#91d951 19.5px,#9bdb47 42.5px,#8cd856 70.5px,#8cd856 76.5px)"></i><i style="top:1px;height:1px;background:linear-gradient(90deg,#8cd856 0.5px,#91d951 17.5px,#9edb44 41.5px,#8cd856 70.5px,#8cd856 76.5px)"></i><i style="top:2px;height:1px;background:linear-gradient(90deg,#8cd856 0.5px,#91d951 16.5px,#a6dc3c 40.5px,#8cd856 69.5px,#8cd856 76.5px)"></i><i style="top:3px;height:1px;background:linear-gradient(90deg,#8cd856 0.5px,#92d950 16.5px,#a6dd3c 30.5px,#adde36 42.5px,#8dd855 65.5px,#8cd856 76.5px)"></i><i style="top:4px;height:1px;background:linear-gradient(90deg,#8cd856 0.5px,#92d950 15.5px,#a2dc40 26.5px,#b5df2e 35.5px,#b0de33 46.5px,#99da49 56.5px,#8cd856 71.5px,#8cd856 76.5px)"></i><i style="top:5px;height:1px;background:linear-gradient(90deg,#8cd856 0.5px,#91d951 14.5px,#a1dc41 24.5px,#bae029 33.5px,#b9e02a 45.5px,#99da49 57.5px,#8cd856 71.5px,#8cd856 76.5px)"></i><i style="top:6px;height:1px;background:linear-gradient(90deg,#8cd856 0.5px,#91d951 13.5px,#9edb44 22.5px,#c0e024 31.5px,#cbe11a 39.5px,#bde027 47.5px,#9ada48 57.5px,#8cd856 72.5px,#8cd856 76.5px)"></i><i style="top:7px;height:1px;background:linear-gradient(90deg,#8cd856 0.5px,#92d950 13.5px,#9fdb43 21.5px,#d5e212 33.5px,#d8e210 42.5px,#c5e120 48.5px,#9ada48 58.5px,#8cd856 72.5px,#8cd856 76.5px)"></i><i style="top:8px;height:1px;background:linear-gradient(90deg,#8cd856 0.5px,#92d950 12.5px,#a0db42 20.5px,#dce20d 31.5px,#e3e008 41.5px,#d4e213 48.5px,#9cdb46 58.5px,#8cd856 72.5px,#8cd856 76.5px)"></i><i style="top:9px;height:1px;background:linear-gradient(90deg,#8cd856 0.5px,#93d94f 12.5px,#a0db42 19.5px,#dfe10b 29.5px,#eadf04 37.5px,#e2e109 47.5px,#cee118 51.5px,#9bdb47 59.5px,#8cd856 73.5px,#8cd856 76.5px)"></i><i style="top:10px;height:1px;background:linear-gradient(90deg,#8cd856 0.5px,#92d950 11.5px,#9fdb43 18.5px,#cae11c 24.5px,#e4e008 28.5px,#ebdf03 35.5px,#e7e005 48.5px,#d3e214 52.5px,#a6dc3c 58.5px,#99da49 61.5px,#8cd856 74.5px,#8cd856 76.5px)"></i><i style="top:11px;height:1px;background:linear-gradient(90deg,#8cd856 0.5px,#93d94f 11.5px,#9edb44 17.5px,#cde119 23.5px,#e8df05 27.5px,#eadf04 49.5px,#d7e211 53.5px,#b4df2f 57.5px,#9ada48 61.5px,#8cd856 74.5px,#8cd856 76.5px)"></i><i style="top:12px;height:1px;background:linear-gradient(90deg,#8cd856 0.5px,#94d94e 11.5px,#9cdb46 16.5px,#c3e122 21.5px,#e0e10a 24.5px,#ecdf03 28.5px,#eadf04 51.5px,#cfe118 55.5px,#a3dc3f 60.5px,#97da4b 64.5px,#8cd856 75.5px,#8cd856 76.5px)"></i><i style="top:13px;height:1px;background:linear-gradient(90deg,#8cd856 0.5px,#94d94e 11.5px,#a1dc41 16.5px,#cfe117 21.5px,#e8df05 24.5px,#eede01 46.5px,#e8df05 53.5px,#cfe117 56.5px,#a1dc41 61.5px,#8dd855 71.5px,#8cd856 76.5px)"></i><i style="top:14px;height:1px;background:linear-gradient(90deg,#8cd856 0.5px,#94d94e 10.5px,#9edb44 15.5px,#c0e024 19.5px,#e2e009 22.5px,#eddf02 26.5px,#ecdf02 52.5px,#e2e009 55.5px,#afde33 60.5px,#9ada48 63.5px,#8cd856 75.5px,#8cd856 76.5px)"></i><i style="top:15px;height:1px;background:linear-gradient(90deg,#8cd856 0.5px,#94d94e 10.5px,#9bdb47 14.5px,#bee026 18.5px,#e2e109 21.5px,#eddf02 24.5px,#f0dc00 47.5px,#e9df04 55.5px,#d9e20f 57.5px,#b5df2e 60.5px,#9bdb47 63.5px,#8cd856 75.5px,#8cd856 76.5px)"></i><i style="top:16px;height:1px;background:linear-gradient(90deg,#8cd856 0.5px,#97da4b 11.5px,#9fdb43 14.5px,#c7e11e 18.5px,#e1e10a 20.5px,#eddf02 23.5px,#f2d700 44.5px,#e9df05 56.5px,#d7e211 58.5px,#b2df31 61.5px,#9ada48 64.5px,#8cd856 76.5px)"></i><i style="top:17px;height:1px;background:linear-gradient(90deg,#8cd856 0.5px,#97da4b 11.5px,#9cdb46 13.5px,#c2e122 17.5px,#dfe10b 19.5px,#eddf02 22.5px,#f2d600 34.5px,#f1d800 50.5px,#e8e005 57.5px,#d3e214 59.5px,#aede35 62.5px,#9cdb46 64.5px,#8cd856 76.5px)"></i><i style="top:18px;height:1px;background:linear-gradient(90deg,#8cd856 0.5px,#9ada48 12.5px,#bde026 16.5px,#dce10d 18.5px,#edde02 21.5px,#f3d300 31.5px,#f2d700 43.5px,#f3d400 50.5px,#ebdf03 57.5px,#dce10d 59.5px,#b3df2f 62.5px,#9ada48 65.5px,#8cd856 76.5px)"></i><i style="top:19px;height:1px;background:linear-gradient(90deg,#8cd856 0.5px,#9bdb47 12.5px,#c5e11f 16.5px,#e2e009 18.5px,#efde01 21.5px,#f4cf00 28.5px,#f1da00 39.5px,#f4d000 50.5px,#eddf02 57.5px,#e2e009 59.5px,#aede34 63.5px,#9bdb47 65.5px,#8cd856 76.5px)"></i><i style="top:20px;height:1px;background:linear-gradient(90deg,#8cd856 0.5px,#99da49 11.5px,#b3df2f 14.5px,#dee10b 17.5px,#eddf02 19.5px,#f5cc00 27.5px,#f1dc00 36.5px,#f2d400 47.5px,#f4cd00 51.5px,#eddf02 58.5px,#dee10b 60.5px,#b3df2f 63.5px,#99da49 66.5px,#8cd856 76.5px)"></i><i style="top:21px;height:1px;background:linear-gradient(90deg,#8cd856 0.5px,#9ada48 11.5px,#c6e11f 15.5px,#e4e007 17.5px,#f0dd00 20.5px,#f5c900 26.5px,#f0dc00 34.5px,#f1d900 46.5px,#f5ca00 52.5px,#eede01 58.5px,#e4e007 60.5px,#aede35 64.5px,#9ada48 66.5px,#8cd856 76.5px)"></i><i style="top:22px;height:1px;background:linear-gradient(90deg,#8cd856 0.5px,#9cdb46 11.5px,#bde026 14.5px,#dfe10b 16.5px,#edde02 18.5px,#f4d000 22.5px,#f6c600 25.5px,#f0dd00 33.5px,#f1da00 46.5px,#f6c600 52.5px,#edde02 59.5px,#dfe10b 61.5px,#b2df31 64.5px,#9cdb46 66.5px,#8cd856 76.5px)"></i><i style="top:23px;height:1px;background:linear-gradient(90deg,#8cd856 0.5px,#99da49 10.5px,#b7e02c 13.5px,#e5e007 16.5px,#f1dc00 19.5px,#f7c200 24.5px,#f0dd00 31.5px,#efde00 45.5px,#f6c700 52.5px,#f6c600 54.5px,#efde01 59.5px,#e5e007 61.5px,#abdd37 65.5px,#99da49 67.5px,#8cd856 76.5px)"></i><i style="top:24px;height:1px;background:linear-gradient(90deg,#8cd856 0.5px,#9ada48 10.5px,#bbe028 13.5px,#dee10b 15.5px,#eede01 17.5px,#f5cb00 21.5px,#f7bd00 23.5px,#f0dd00 30.5px,#e9df05 41.5px,#f1da00 48.5px,#f7bd00 54.5px,#f0dd00 59.5px,#e9df04 61.5px,#cde119 63.5px,#a4dc3f 66.5px,#98da4a 68.5px,#8cd856 76.5px)"></i><i style="top:25px;height:1px;background:linear-gradient(90deg,#8cd856 0.5px,#9cdb46 10.5px,#c1e024 13.5px,#e3e008 15.5px,#efde00 17.5px,#f6c400 21.5px,#f8ba00 22.5px,#f8b800 23.5px,#f2d500 27.5px,#ecdf02 31.5px,#d9e20f 38.5px,#e2e109 43.5px,#f1d900 49.5px,#f7c300 53.5px,#f8b800 54.5px,#f8ba00 55.5px,#f1da00 59.5px,#ecdf03 61.5px,#d5e213 63.5px,#b4df2f 65.5px,#9cdb46 67.5px,#8cd856 76.5px)"></i><i style="top:26px;height:1px;background:linear-gradient(90deg,#8cd856 0.5px,#99da49 9.5px,#b8e02b 12.5px,#dbe10e 14.5px,#eede01 16.5px,#f4ce00 19.5px,#f8b000 22.5px,#f3d200 26.5px,#ecdf03 30.5px,#c4e121 37.5px,#c7e11f 41.5px,#ecdf03 47.5px,#f3d200 51.5px,#f8b000 55.5px,#f2d700 59.5px,#e8df05 62.5px,#c7e11e 64.5px,#9fdb43 67.5px,#92d950 72.5px,#8cd856 76.5px)"></i><i style="top:27px;height:1px;background:linear-gradient(90deg,#8cd856 0.5px,#99da49 9.5px,#bce028 12.5px,#e0e10a 14.5px,#efde00 16.5px,#f6c900 19.5px,#f8ad00 21.5px,#f8ae00 22.5px,#f4cf00 25.5px,#efde01 28.5px,#dce10d 31.5px,#b4df2f 35.5px,#a8dd3b 38.5px,#aede35 41.5px,#d0e116 45.5px,#ebdf03 48.5px,#f2d500 51.5px,#f7bc00 54.5px,#f8ae00 55.5px,#f8ad00 56.5px,#f3d200 59.5px,#ebdf03 62.5px,#cfe117 64.5px,#afde33 66.5px,#99da49 68.5px,#8cd856 76.5px)"></i><i style="top:28px;height:1px;background:linear-gradient(90deg,#8cd856 0.5px,#9bda47 9.5px,#c1e023 12.5px,#e5e007 14.5px,#f2d600 17.5px,#f7c100 19.5px,#f9a400 21.5px,#f3d200 25.5px,#ecdf03 28.5px,#cae11b 31.5px,#86d75e 36.5px,#7dd569 38.5px,#7fd666 40.5px,#91d952 42.5px,#d9e20f 47.5px,#efde00 50.5px,#f7be00 54.5px,#f9a400 56.5px,#f5cd00 59.5px,#eddf02 62.5px,#d6e212 64.5px,#b3df30 66.5px,#9bda47 68.5px,#8cd856 76.5px)"></i><i style="top:29px;height:1px;background:linear-gradient(90deg,#8cd856 0.5px,#9ddb45 9.5px,#c6e11f 12.5px,#dbe10d 13.5px,#efde01 15.5px,#f6c700 18.5px,#f9a300 20.5px,#f9a100 21.5px,#f5cd00 24.5px,#eddf02 27.5px,#d9e20f 29.5px,#a2dc40 32.5px,#74d476 34.5px,#61d4a0 36.5px,#5ed6ae 38.5px,#5fd5aa 40.5px,#67d38e 42.5px,#74d476 43.5px,#a2dc40 45.5px,#d9e20f 48.5px,#eddf02 50.5px,#f5cd00 53.5px,#f9a100 56.5px,#f9a300 57.5px,#f6c700 59.5px,#efde01 62.5px,#dbe10d 64.5px,#b6df2d 66.5px,#9ddb45 68.5px,#8dd855 76.5px)"></i><i style="top:30px;height:1px;background:linear-gradient(90deg,#8cd856 0.5px,#98da4a 8.5px,#bae02a 11.5px,#e0e10a 13.5px,#f0dd00 15.5px,#f4cd00 17.5px,#fa9900 20.5px,#f8b300 22.5px,#f6c600 23.5px,#efde01 26.5px,#dbe10e 28.5px,#b5df2e 30.5px,#9ada48 31.5px,#79d56e 32.5px,#64d497 33.5px,#5ed8ba 34.5px,#5fdcd0 35.5px,#5edddd 37.5px,#5fddda 41.5px,#5fdcd0 42.5px,#5ed8ba 43.5px,#64d497 44.5px,#79d56e 45.5px,#9ada48 46.5px,#b5df2e 47.5px,#dbe10e 49.5px,#efde01 51.5px,#f6c600 54.5px,#f9a300 56.5px,#fa9900 57.5px,#f4cd00 60.5px,#f0dd00 62.5px,#e0e10a 64.5px,#bae02a 66.5px,#98da4a 69.5px,#8dd855 76.5px)"></i><i style="top:31px;height:1px;background:linear-gradient(90deg,#8cd856 0.5px,#99da49 8.5px,#bee026 11.5px,#e4e008 13.5px,#f1db00 15.5px,#f6c700 17.5px,#f99d00 19.5px,#fa9400 20.5px,#f5c900 23.5px,#f0dc00 25.5px,#e0e10a 27.5px,#b8df2b 29.5px,#99da4a 30.5px,#73d478 31.5px,#5fd6ad 32.5px,#60ddd3 33.5px,#5ddde0 34.5px,#47d0e1 37.5px,#4bd2e1 41.5px,#5ddde0 43.5px,#60ddd3 44.5px,#5fd6ad 45.5px,#73d478 46.5px,#99da4a 47.5px,#b8df2b 48.5px,#e0e10a 50.5px,#f0dc00 52.5px,#f5c900 54.5px,#fa9400 57.5px,#f99d00 58.5px,#f6c700 60.5px,#f1db00 62.5px,#e4e008 64.5px,#b0de33 67.5px,#99da49 69.5px,#8dd855 76.5px)"></i><i style="top:32px;height:1px;background:linear-gradient(90deg,#8cd856 0.5px,#9ada48 8.5px,#c2e122 11.5px,#d8e210 12.5px,#efde01 14.5px,#f4cf00 16.5px,#f7c000 17.5px,#fa9000 19.5px,#fa9300 20.5px,#f5cc00 23.5px,#eede01 25.5px,#d5e212 27.5px,#bee026 28.5px,#a0db43 29.5px,#74d477 30.5px,#5ed7b5 31.5px,#60deda 32.5px,#44cee1 34.5px,#33c2e0 36.5px,#33c2e0 41.5px,#44cee1 43.5px,#60deda 45.5px,#5ed7b5 46.5px,#74d477 47.5px,#a0db43 48.5px,#bee026 49.5px,#e5e007 51.5px,#f2d700 53.5px,#f7bc00 55.5px,#fa9300 57.5px,#fa9000 58.5px,#f7c000 60.5px,#f1d900 62.5px,#e7e006 64.5px,#d8e210 65.5px,#b3df30 67.5px,#9ada48 69.5px,#8dd855 76.5px)"></i><i style="top:33px;height:1px;background:linear-gradient(90deg,#8cd856 0.5px,#9bdb47 8.5px,#c7e11e 11.5px,#dce10d 12.5px,#f0dd00 14.5px,#f5ca00 16.5px,#fa8701 19.5px,#f9a800 21.5px,#f7c100 22.5px,#f1da00 24.5px,#dee10c 26.5px,#acde37 28.5px,#7dd56a 29.5px,#5fd6af 30.5px,#60deda 31.5px,#3ac7e1 33.5px,#2ab7dd 35.5px,#25b0db 40.5px,#2fbddf 43.5px,#3ac7e1 44.5px,#60deda 46.5px,#5fd6af 47.5px,#7dd56a 48.5px,#acde37 49.5px,#dee10c 51.5px,#f1da00 53.5px,#f7c100 55.5px,#fa9400 57.5px,#fa8701 58.5px,#f5ca00 61.5px,#f0dd00 63.5px,#dce10d 65.5px,#b6df2d 67.5px,#9bdb47 69.5px,#8ed854 76.5px)"></i><i style="top:34px;height:1px;background:linear-gradient(90deg,#8cd856 0.5px,#9ddb45 8.5px,#cce11a 11.5px,#e0e10a 12.5px,#f1db00 14.5px,#f6c500 16.5px,#fa8f00 18.5px,#fa8201 19.5px,#f6c600 22.5px,#efdd01 24.5px,#e6e006 25.5px,#d4e113 26.5px,#bae029 27.5px,#8fd854 28.5px,#64d59c 29.5px,#60ddd4 30.5px,#50d5e1 31.5px,#35c4e0 32.5px,#24aeda 34.5px,#1fa0d6 38.5px,#20a8d8 42.5px,#2ab7dd 44.5px,#35c4e0 45.5px,#50d5e1 46.5px,#60ddd4 47.5px,#64d59c 48.5px,#8fd854 49.5px,#bae029 50.5px,#d4e113 51.5px,#e6e006 52.5px,#f3d300 54.5px,#f6c600 55.5px,#fa8201 58.5px,#fa8f00 59.5px,#f6c500 61.5px,#f1db00 63.5px,#e0e10a 65.5px,#b8e02b 67.5px,#9ddb45 69.5px,#8ed854 76.5px)"></i><i style="top:35px;height:1px;background:linear-gradient(90deg,#8cd856 0.5px,#98da4a 7.5px,#adde35 9.5px,#e3e008 12.5px,#f1d900 14.5px,#f4d000 15.5px,#f7bd00 16.5px,#fa8201 18.5px,#fa8101 19.5px,#f5c900 22.5px,#edde02 24.5px,#dfe10b 25.5px,#c8e11d 26.5px,#a7dd3c 27.5px,#71d47c 28.5px,#5edac6 29.5px,#56d8e0 30.5px,#35c4e0 31.5px,#21a8d8 33.5px,#2193d2 36.5px,#2193d2 41.5px,#21a8d8 44.5px,#35c4e0 46.5px,#56d8e0 47.5px,#5edac6 48.5px,#71d47c 49.5px,#a7dd3c 50.5px,#c8e11d 51.5px,#dfe10b 52.5px,#edde02 53.5px,#f5c900 55.5px,#fa8101 58.5px,#fa8201 59.5px,#f7bd00 61.5px,#f4d000 62.5px,#eede02 64.5px,#d1e116 66.5px,#adde35 68.5px,#98da4a 70.5px,#8ed854 76.5px)"></i><i style="top:36px;height:1px;background:linear-gradient(90deg,#8dd855 0.5px,#98da4a 7.5px,#bee026 10.5px,#e6e007 12.5px,#f2d700 14.5px,#f5cc00 15.5px,#fa9500 17.5px,#fa7702 18.5px,#fa8101 19.5px,#fa9700 20.5px,#f8b700 21.5px,#f5cd00 22.5px,#e9df05 24.5px,#d8e110 25.5px,#bde027 26.5px,#8dd857 27.5px,#60d5a7 28.5px,#5ddcda 29.5px,#3bc8e1 30.5px,#28b4dc 31.5px,#20a4d7 32.5px,#2288cf 35.5px,#2481cd 40.5px,#218ed0 43.5px,#20a4d7 45.5px,#28b4dc 46.5px,#3bc8e1 47.5px,#5ddcda 48.5px,#60d5a7 49.5px,#8dd857 50.5px,#bde027 51.5px,#d8e110 52.5px,#e9df05 53.5px,#f5cd00 55.5px,#f8b700 56.5px,#fa9700 57.5px,#fa8101 58.5px,#fa7702 59.5px,#f8b400 61.5px,#f5cc00 62.5px,#efde01 64.5px,#d5e212 66.5px,#b0de33 68.5px,#98da4a 70.5px,#8ed854 76.5px)"></i><i style="top:37px;height:1px;background:linear-gradient(90deg,#8dd855 0.5px,#99da49 7.5px,#c2e123 10.5px,#d9e20f 11.5px,#f0dd00 13.5px,#f6c700 15.5px,#fa7002 18.5px,#fa8101 19.5px,#f99a00 20.5px,#f7bc00 21.5px,#f0dc01 23.5px,#e4e008 24.5px,#cfe118 25.5px,#adde36 26.5px,#73d479 27.5px,#5edac7 28.5px,#4ad1e1 29.5px,#2bb8dd 30.5px,#20a4d7 31.5px,#2288cf 33.5px,#2a76c8 36.5px,#2a76c8 41.5px,#2288cf 44.5px,#20a4d7 46.5px,#2bb8dd 47.5px,#4ad1e1 48.5px,#5edac7 49.5px,#73d479 50.5px,#adde36 51.5px,#cfe118 52.5px,#e4e008 53.5px,#f0dc01 54.5px,#f7bc00 56.5px,#f99a00 57.5px,#fa8101 58.5px,#fa7002 59.5px,#f6c700 62.5px,#f0dd00 64.5px,#d9e20f 66.5px,#b2df31 68.5px,#99da49 70.5px,#8ed854 76.5px)"></i><i style="top:38px;height:1px;background:linear-gradient(90deg,#8dd855 0.5px,#99da49 7.5px,#c5e120 10.5px,#dce10d 11.5px,#f0dc00 13.5px,#f3d300 14.5px,#f7c100 15.5px,#fa7e01 17.5px,#fa6b03 18.5px,#f99e00 20.5px,#f7c100 21.5px,#eede02 23.5px,#dfe10b 24.5px,#c5e120 25.5px,#98da4b 26.5px,#64d59c 27.5px,#5adad9 28.5px,#33c1df 29.5px,#22a8d8 30.5px,#2384cd 32.5px,#385cbd 37.5px,#385cbd 40.5px,#2384cd 45.5px,#22a8d8 47.5px,#33c1df 48.5px,#5adad9 49.5px,#64d59c 50.5px,#98da4b 51.5px,#c5e120 52.5px,#dfe10b 53.5px,#eede02 54.5px,#f7c100 56.5px,#fa8101 58.5px,#fa6b03 59.5px,#fa7e01 60.5px,#f7c100 62.5px,#f3d300 63.5px,#eadf04 65.5px,#dce10d 66.5px,#b4df2f 68.5px,#99da49 70.5px,#8fd853 76.5px)"></i><i style="top:39px;height:1px;background:linear-gradient(90deg,#8dd855 0.5px,#9ada48 7.5px,#c8e11d 10.5px,#dee10b 11.5px,#f1da00 13.5px,#f4d000 14.5px,#f7ba00 15.5px,#fa7202 17.5px,#fa6903 18.5px,#fa8101 19.5px,#f6c500 21.5px,#eadf04 23.5px,#d8e110 24.5px,#bbe029 25.5px,#82d664 26.5px,#5ed8ba 27.5px,#49d0e0 28.5px,#26b1db 29.5px,#2097d3 30.5px,#3a58bc 34.5px,#4541b3 37.5px,#4345b4 41.5px,#3a58bc 43.5px,#2097d3 47.5px,#26b1db 48.5px,#49d0e0 49.5px,#5ed8ba 50.5px,#82d664 51.5px,#bbe029 52.5px,#d8e110 53.5px,#eadf04 54.5px,#f6c500 56.5px,#fa8101 58.5px,#fa6903 59.5px,#fa7202 60.5px,#f7ba00 62.5px,#f4d000 63.5px,#ecdf03 65.5px,#dee10b 66.5px,#a7dd3b 69.5px,#9ada48 70.5px,#8fd853 76.5px)"></i><i style="top:40px;height:1px;background:linear-gradient(90deg,#8dd855 0.5px,#9bdb47 7.5px,#b8e02c 9.5px,#e1e10a 11.5px,#eddf02 12.5px,#f4cd00 14.5px,#f8b200 15.5px,#fa6703 17.5px,#fa6903 18.5px,#fa8201 19.5px,#f6c800 21.5px,#f1d800 22.5px,#e7e006 23.5px,#d2e115 24.5px,#aede35 25.5px,#71d47e 26.5px,#5cdad1 27.5px,#34c1df 28.5px,#20a1d6 29.5px,#2a76c8 31.5px,#3f4db7 33.5px,#4a37af 35.5px,#4f2fab 39.5px,#4a37af 42.5px,#3f4db7 44.5px,#2288cf 47.5px,#20a1d6 48.5px,#34c1df 49.5px,#5cdad1 50.5px,#71d47e 51.5px,#aede35 52.5px,#d2e115 53.5px,#e7e006 54.5px,#f1d800 55.5px,#f6c800 56.5px,#fa8201 58.5px,#fa6903 59.5px,#fa6703 60.5px,#f8b200 62.5px,#f4cd00 63.5px,#eddf02 65.5px,#e1e10a 66.5px,#b8e02c 68.5px,#9bdb47 70.5px,#8fd853 76.5px)"></i><i style="top:41px;height:1px;background:linear-gradient(90deg,#8dd855 0.5px,#9cdb46 7.5px,#b9e02a 9.5px,#e3e009 11.5px,#f2d700 13.5px,#f5ca00 14.5px,#fa5f04 17.5px,#fa6803 18.5px,#fa8301 19.5px,#f8ac00 20.5px,#f5cb00 21.5px,#f0db00 22.5px,#e3e008 23.5px,#cbe11b 24.5px,#9edb45 25.5px,#65d598 26.5px,#51d5dd 27.5px,#27b1db 28.5px,#2191d1 29.5px,#4148b6 32.5px,#4f2fab 34.5px,#5325a7 39.5px,#4f2fab 43.5px,#4148b6 45.5px,#2191d1 48.5px,#27b1db 49.5px,#51d5dd 50.5px,#65d598 51.5px,#9edb45 52.5px,#cbe11b 53.5px,#e3e008 54.5px,#f0db00 55.5px,#f5cb00 56.5px,#f8ac00 57.5px,#fa8301 58.5px,#fa6803 59.5px,#fa5f04 60.5px,#f5ca00 63.5px,#eede01 65.5px,#e3e009 66.5px,#b9e02a 68.5px,#9cdb46 70.5px,#8fd953 76.5px)"></i><i style="top:42px;height:1px;background:linear-gradient(90deg,#8ed854 0.5px,#97da4b 6.5px,#9edb45 7.5px,#bbe028 9.5px,#e4e007 11.5px,#f2d500 13.5px,#f6c600 14.5px,#fa5904 17.5px,#fa6703 18.5px,#fa8501 19.5px,#f8b000 20.5px,#f4cd00 21.5px,#efdc01 22.5px,#dfe10b 23.5px,#c4e121 24.5px,#8ed855 25.5px,#60d7b2 26.5px,#40cae0 27.5px,#21a1d6 28.5px,#2483cd 29.5px,#414ab6 31.5px,#4b36ae 32.5px,#5325a7 34.5px,#5520a5 41.5px,#512ba9 44.5px,#4b36ae 45.5px,#414ab6 46.5px,#2483cd 48.5px,#21a1d6 49.5px,#40cae0 50.5px,#60d7b2 51.5px,#8ed855 52.5px,#c4e121 53.5px,#dfe10b 54.5px,#efdc01 55.5px,#f4cd00 56.5px,#f8b000 57.5px,#fa8501 58.5px,#fa6703 59.5px,#fa5904 60.5px,#f6c600 63.5px,#efdd01 65.5px,#e4e007 66.5px,#acde36 69.5px,#9edb45 70.5px,#92d950 74.5px,#8fd953 76.5px)"></i><i style="top:43px;height:1px;background:linear-gradient(90deg,#8ed854 0.5px,#97da4b 6.5px,#adde35 8.5px,#e6e006 11.5px,#f3d400 13.5px,#f7c100 14.5px,#fa7102 16.5px,#fa5604 17.5px,#fa6703 18.5px,#fa8701 19.5px,#f8b400 20.5px,#f4cf00 21.5px,#edde02 22.5px,#dbe10e 23.5px,#bce028 24.5px,#81d666 25.5px,#5dd9c8 26.5px,#2fbbde 27.5px,#2193d2 28.5px,#4a38af 31.5px,#5422a6 33.5px,#5422a6 44.5px,#4a38af 46.5px,#2193d2 49.5px,#2fbbde 50.5px,#5dd9c8 51.5px,#81d666 52.5px,#bce028 53.5px,#dbe10e 54.5px,#edde02 55.5px,#f4cf00 56.5px,#f8b400 57.5px,#fa8701 58.5px,#fa6703 59.5px,#fa5604 60.5px,#fa7102 61.5px,#f7c100 63.5px,#f3d400 64.5px,#e6e006 66.5px,#adde35 69.5px,#97da4b 71.5px,#8fd953 76.5px)"></i><i style="top:44px;height:1px;background:linear-gradient(90deg,#8ed854 0.5px,#97da4b 6.5px,#afde34 8.5px,#e7e006 11.5px,#f3d200 13.5px,#f7bd00 14.5px,#fa6903 16.5px,#fa5305 17.5px,#fa6603 18.5px,#fa8901 19.5px,#f8b800 20.5px,#f3d200 21.5px,#ebdf03 22.5px,#d7e111 23.5px,#b4df30 24.5px,#76d577 25.5px,#55d7d7 26.5px,#25adda 27.5px,#2386ce 28.5px,#4540b3 30.5px,#512ba9 31.5px,#551fa4 33.5px,#5421a5 45.5px,#512ba9 46.5px,#4540b3 47.5px,#2386ce 49.5px,#25adda 50.5px,#55d7d7 51.5px,#76d577 52.5px,#b4df30 53.5px,#d7e111 54.5px,#ebdf03 55.5px,#f3d200 56.5px,#f8b800 57.5px,#fa8901 58.5px,#fa6603 59.5px,#fa5305 60.5px,#fa6903 61.5px,#f7bd00 63.5px,#f3d200 64.5px,#e7e006 66.5px,#afde34 69.5px,#97da4b 71.5px,#8fd953 76.5px)"></i><i style="top:45px;height:1px;background:linear-gradient(90deg,#8ed854 0.5px,#97da4b 6.5px,#b0de33 8.5px,#d8e210 10.5px,#e8df05 11.5px,#f3d100 13.5px,#f8b800 14.5px,#fa6203 16.5px,#f95105 17.5px,#fa6503 18.5px,#f7bb00 20.5px,#f3d400 21.5px,#e9df05 22.5px,#d3e114 23.5px,#aadd38 24.5px,#6dd58a 25.5px,#4ad1df 26.5px,#21a0d6 27.5px,#2979c9 28.5px,#4d32ac 30.5px,#5422a6 31.5px,#5422a6 46.5px,#4d32ac 47.5px,#2979c9 49.5px,#21a0d6 50.5px,#4ad1df 51.5px,#6dd58a 52.5px,#aadd38 53.5px,#d3e114 54.5px,#e9df05 55.5px,#f3d400 56.5px,#f7bb00 57.5px,#fa6503 59.5px,#f95105 60.5px,#fa6203 61.5px,#f8b800 63.5px,#f3d100 64.5px,#e8df05 66.5px,#d8e210 67.5px,#b0de33 69.5px,#97da4b 71.5px,#8fd953 76.5px)"></i><i style="top:46px;height:1px;background:linear-gradient(90deg,#8ed854 0.5px,#97da4b 6.5px,#c2e123 9.5px,#dae10f 10.5px,#e9df04 11.5px,#f4cf00 13.5px,#f8b300 14.5px,#fa5c04 16.5px,#f95005 17.5px,#fa6403 18.5px,#f7bd00 20.5px,#f2d500 21.5px,#e7e006 22.5px,#cfe117 23.5px,#a2dc40 24.5px,#68d69d 25.5px,#3dc6df 26.5px,#2194d2 27.5px,#4542b3 29.5px,#5227a8 30.5px,#551fa4 32.5px,#551fa4 46.5px,#5227a8 47.5px,#4542b3 48.5px,#2194d2 50.5px,#3dc6df 51.5px,#68d69d 52.5px,#a2dc40 53.5px,#cfe117 54.5px,#e7e006 55.5px,#f2d500 56.5px,#f7bd00 57.5px,#fa6403 59.5px,#f95005 60.5px,#fa5c04 61.5px,#f8b300 63.5px,#f4cf00 64.5px,#e9df04 66.5px,#dae10f 67.5px,#b1de32 69.5px,#97da4b 71.5px,#8fd953 76.5px)"></i><i style="top:47px;height:1px;background:linear-gradient(90deg,#8ed854 0.5px,#98da4a 6.5px,#c3e122 9.5px,#dbe10e 10.5px,#eadf04 11.5px,#f4ce00 13.5px,#f8af00 14.5px,#fa5704 16.5px,#f95005 17.5px,#fa6403 18.5px,#f7c000 20.5px,#f2d700 21.5px,#e5e007 22.5px,#cce11a 23.5px,#9bdb48 24.5px,#64d8b0 25.5px,#31bbdd 26.5px,#2389cf 27.5px,#4c34ad 29.5px,#5520a5 30.5px,#5520a5 47.5px,#4c34ad 48.5px,#2389cf 50.5px,#31bbdd 51.5px,#64d8b0 52.5px,#9bdb48 53.5px,#cce11a 54.5px,#e5e007 55.5px,#f2d700 56.5px,#f7c000 57.5px,#fa6403 59.5px,#f95005 60.5px,#fa5704 61.5px,#f8af00 63.5px,#f4ce00 64.5px,#eadf04 66.5px,#dbe10e 67.5px,#b2df31 69.5px,#98da4a 71.5px,#90d952 76.5px)"></i><i style="top:48px;height:1px;background:linear-gradient(90deg,#8ed854 0.5px,#98da4a 6.5px,#c4e121 9.5px,#dce10d 10.5px,#ebdf03 11.5px,#f5cc00 13.5px,#f8aa00 14.5px,#f95305 16.5px,#f94f05 17.5px,#fa6403 18.5px,#f6c100 20.5px,#f1d800 21.5px,#e3e008 22.5px,#c9e11d 23.5px,#95d94e 24.5px,#5ed8bf 25.5px,#28b0db 26.5px,#277ecb 27.5px,#5129a9 29.5px,#551fa4 30.5px,#551fa4 47.5px,#5129a9 48.5px,#277ecb 50.5px,#28b0db 51.5px,#5ed8bf 52.5px,#95d94e 53.5px,#c9e11d 54.5px,#e3e008 55.5px,#f1d800 56.5px,#f6c100 57.5px,#fa6403 59.5px,#f94f05 60.5px,#f95305 61.5px,#f8aa00 63.5px,#f5cc00 64.5px,#ebdf03 66.5px,#dce10d 67.5px,#b2df30 69.5px,#98da4a 71.5px,#90d952 76.5px)"></i><i style="top:49px;height:1px;background:linear-gradient(90deg,#8ed854 0.5px,#98da4a 6.5px,#c5e120 9.5px,#dde10c 10.5px,#ebdf03 11.5px,#f5cb00 13.5px,#f9a700 14.5px,#f94f05 16.5px,#f94e05 17.5px,#fa6403 18.5px,#f6c300 20.5px,#f1d900 21.5px,#e1e109 22.5px,#c6e11f 23.5px,#8fd854 24.5px,#59d7ca 25.5px,#24a7d8 26.5px,#2b75c7 27.5px,#4346b4 28.5px,#5423a6 29.5px,#551fa4 47.5px,#5423a6 48.5px,#4346b4 49.5px,#2b75c7 50.5px,#24a7d8 51.5px,#59d7ca 52.5px,#8fd854 53.5px,#c6e11f 54.5px,#e1e109 55.5px,#f1d900 56.5px,#f6c300 57.5px,#fa6403 59.5px,#f94e05 60.5px,#f94f05 61.5px,#f9a700 63.5px,#f5cb00 64.5px,#ebdf03 66.5px,#dde10c 67.5px,#b3df30 69.5px,#98da4a 71.5px,#90d952 76.5px)"></i><i style="top:50px;height:1px;background:linear-gradient(90deg,#8ed854 0.5px,#98da4a 6.5px,#c6e11f 9.5px,#dee10c 10.5px,#ecdf03 11.5px,#f5ca00 13.5px,#f9a400 14.5px,#fa7402 15.5px,#f94c05 16.5px,#f94e05 17.5px,#fa6303 18.5px,#f6c400 20.5px,#f0da01 21.5px,#e0e10a 22.5px,#c3e022 23.5px,#89d75b 24.5px,#53d5d3 25.5px,#22a0d6 26.5px,#2f6dc4 27.5px,#483bb0 28.5px,#5520a4 29.5px,#5520a4 48.5px,#483bb0 49.5px,#2f6dc4 50.5px,#22a0d6 51.5px,#53d5d3 52.5px,#89d75b 53.5px,#c3e022 54.5px,#e0e10a 55.5px,#f0da01 56.5px,#f6c400 57.5px,#fa6303 59.5px,#f94e05 60.5px,#f94c05 61.5px,#fa7402 62.5px,#f9a400 63.5px,#f5ca00 64.5px,#ecdf03 66.5px,#dee10c 67.5px,#b4df2f 69.5px,#98da4a 71.5px,#90d952 76.5px)"></i><i style="top:51px;height:1px;background:linear-gradient(90deg,#8ed854 0.5px,#98da4a 6.5px,#c7e11e 9.5px,#dee10b 10.5px,#ecdf02 11.5px,#f5c900 13.5px,#f9a100 14.5px,#fa7002 15.5px,#f94a06 16.5px,#f94d05 17.5px,#fa6303 18.5px,#f6c500 20.5px,#f0db01 21.5px,#dfe10b 22.5px,#c0e024 23.5px,#85d761 24.5px,#4dd2d8 25.5px,#2199d4 26.5px,#3266c1 27.5px,#4d32ac 28.5px,#551fa4 29.5px,#551fa4 48.5px,#4d32ac 49.5px,#3266c1 50.5px,#2199d4 51.5px,#4dd2d8 52.5px,#85d761 53.5px,#c0e024 54.5px,#dfe10b 55.5px,#f0db01 56.5px,#f6c500 57.5px,#fa6303 59.5px,#f94d05 60.5px,#f94a06 61.5px,#fa7002 62.5px,#f9a100 63.5px,#f5c900 64.5px,#ecdf02 66.5px,#dee10b 67.5px,#b4df2f 69.5px,#98da4a 71.5px,#90d952 76.5px)"></i><i style="top:52px;height:1px;background:linear-gradient(90deg,#8ed854 0.5px,#98da4a 6.5px,#c7e11e 9.5px,#dfe10b 10.5px,#eddf02 11.5px,#f6c700 13.5px,#f99f00 14.5px,#fa6e03 15.5px,#f94906 16.5px,#f94c05 17.5px,#fa6303 18.5px,#f6c600 20.5px,#efdb01 21.5px,#dee10c 22.5px,#bee026 23.5px,#82d766 24.5px,#4acfda 25.5px,#2194d2 26.5px,#502ba9 28.5px,#551fa4 29.5px,#551fa4 48.5px,#502ba9 49.5px,#2194d2 51.5px,#4acfda 52.5px,#82d766 53.5px,#bee026 54.5px,#dee10c 55.5px,#efdb01 56.5px,#f6c600 57.5px,#fa6303 59.5px,#f94c05 60.5px,#f94906 61.5px,#fa6e03 62.5px,#f99f00 63.5px,#f6c700 64.5px,#eddf02 66.5px,#dfe10b 67.5px,#b4df2e 69.5px,#98da4a 71.5px,#90d952 76.5px)"></i><i style="top:53px;height:1px;background:linear-gradient(90deg,#8ed854 0.5px,#98da4a 6.5px,#c8e11d 9.5px,#dfe10b 10.5px,#eddf02 11.5px,#f6c700 13.5px,#fa6b03 15.5px,#f94806 16.5px,#f94c05 17.5px,#fa6303 18.5px,#f6c600 20.5px,#efdb01 21.5px,#dde10c 22.5px,#bde027 23.5px,#80d76b 24.5px,#46ccdb 25.5px,#2290d1 26.5px,#5227a8 28.5px,#551fa4 29.5px,#551fa4 48.5px,#5227a8 49.5px,#2290d1 51.5px,#46ccdb 52.5px,#80d76b 53.5px,#bde027 54.5px,#dde10c 55.5px,#efdb01 56.5px,#f6c600 57.5px,#fa6303 59.5px,#f94c05 60.5px,#f94806 61.5px,#fa6b03 62.5px,#f6c700 64.5px,#eddf02 66.5px,#dfe10b 67.5px,#a5dc3d 70.5px,#98da4a 71.5px,#90d952 76.5px)"></i><i style="top:54px;height:1px;background:linear-gradient(90deg,#8ed854 0.5px,#98da4a 6.5px,#c8e11d 9.5px,#dfe10b 10.5px,#edde02 11.5px,#f6c600 13.5px,#fa6a03 15.5px,#f94706 16.5px,#f94c06 17.5px,#fa6203 18.5px,#f99900 19.5px,#f6c600 20.5px,#efdc01 21.5px,#dde10d 22.5px,#bce028 23.5px,#7ed76f 24.5px,#45cbdc 25.5px,#228ed0 26.5px,#5324a6 28.5px,#551ea4 31.5px,#551fa4 48.5px,#5324a6 49.5px,#228ed0 51.5px,#45cbdc 52.5px,#7ed76f 53.5px,#bce028 54.5px,#dde10d 55.5px,#efdc01 56.5px,#f6c600 57.5px,#f99900 58.5px,#fa6203 59.5px,#f94c06 60.5px,#f94706 61.5px,#fa6a03 62.5px,#f6c600 64.5px,#edde02 66.5px,#dfe10b 67.5px,#a5dc3d 70.5px,#98da4a 71.5px,#90d952 76.5px)"></i><i style="top:55px;height:1px;background:linear-gradient(90deg,#8ed854 0.5px,#99da49 6.5px,#c8e11d 9.5px,#dfe10b 10.5px,#edde02 11.5px,#f2d600 12.5px,#f6c600 13.5px,#fa6903 15.5px,#f94606 16.5px,#f94b06 17.5px,#fa6203 18.5px,#f99900 19.5px,#f6c700 20.5px,#efdc01 21.5px,#dce10d 22.5px,#bbe029 23.5px,#7dd771 24.5px,#43cadc 25.5px,#238ccf 26.5px,#5423a6 28.5px,#551ea3 39.5px,#5423a6 49.5px,#238ccf 51.5px,#43cadc 52.5px,#7dd771 53.5px,#bbe029 54.5px,#dce10d 55.5px,#efdc01 56.5px,#f6c700 57.5px,#f99900 58.5px,#fa6203 59.5px,#f94b06 60.5px,#f94606 61.5px,#fa6903 62.5px,#f6c600 64.5px,#f2d600 65.5px,#edde02 66.5px,#dfe10b 67.5px,#a5dc3d 70.5px,#99da49 71.5px,#90d952 76.5px)"></i><i style="top:56px;height:1px;background:linear-gradient(90deg,#8ed854 0.5px,#99da49 6.5px,#c8e11d 9.5px,#dfe10b 10.5px,#edde02 11.5px,#f2d600 12.5px,#f6c500 13.5px,#fa6803 15.5px,#f94606 16.5px,#f94b06 17.5px,#fa6203 18.5px,#f99900 19.5px,#f6c700 20.5px,#efdc01 21.5px,#dce10d 22.5px,#bbe029 23.5px,#7cd773 24.5px,#43c9dd 25.5px,#238bcf 26.5px,#5423a6 28.5px,#551fa4 48.5px,#5423a6 49.5px,#238bcf 51.5px,#43c9dd 52.5px,#7cd773 53.5px,#bbe029 54.5px,#dce10d 55.5px,#efdc01 56.5px,#f6c700 57.5px,#f99900 58.5px,#fa6203 59.5px,#f94b06 60.5px,#f94606 61.5px,#fa6803 62.5px,#f6c500 64.5px,#f2d600 65.5px,#edde02 66.5px,#dfe10b 67.5px,#a5dc3d 70.5px,#99da49 71.5px,#90d952 76.5px)"></i><i style="top:57px;height:1px;background:linear-gradient(90deg,#8ed854 0.5px,#99da49 6.5px,#c8e11d 9.5px,#dfe10b 10.5px,#edde02 11.5px,#f2d600 12.5px,#f6c500 13.5px,#fa6803 15.5px,#f94606 16.5px,#f94b06 17.5px,#fa6203 18.5px,#f99900 19.5px,#f6c700 20.5px,#efdc01 21.5px,#dce10d 22.5px,#bbe029 23.5px,#7cd773 24.5px,#43c9dd 25.5px,#238bcf 26.5px,#5422a6 28.5px,#551fa4 48.5px,#5422a6 49.5px,#238bcf 51.5px,#43c9dd 52.5px,#7cd773 53.5px,#bbe029 54.5px,#dce10d 55.5px,#efdc01 56.5px,#f6c700 57.5px,#f99900 58.5px,#fa6203 59.5px,#f94b06 60.5px,#f94606 61.5px,#fa6803 62.5px,#f6c500 64.5px,#f2d600 65.5px,#edde02 66.5px,#dfe10b 67.5px,#a5dc3d 70.5px,#99da49 71.5px,#90d952 76.5px)"></i><i style="top:58px;height:1px;background:linear-gradient(90deg,#8ed854 0.5px,#99da49 6.5px,#c8e11d 9.5px,#dfe10b 10.5px,#edde02 11.5px,#f2d600 12.5px,#f6c600 13.5px,#fa6903 15.5px,#f94606 16.5px,#f94b06 17.5px,#fa6203 18.5px,#f99900 19.5px,#f6c700 20.5px,#efdc01 21.5px,#dce10d 22.5px,#bbe029 23.5px,#7dd772 24.5px,#43cadd 25.5px,#238bcf 26.5px,#5423a6 28.5px,#551fa4 48.5px,#5423a6 49.5px,#238bcf 51.5px,#43cadd 52.5px,#7dd772 53.5px,#bbe029 54.5px,#dce10d 55.5px,#efdc01 56.5px,#f6c700 57.5px,#f99900 58.5px,#fa6203 59.5px,#f94b06 60.5px,#f94606 61.5px,#fa6903 62.5px,#f6c600 64.5px,#f2d600 65.5px,#edde02 66.5px,#dfe10b 67.5px,#a5dc3d 70.5px,#99da49 71.5px,#90d952 76.5px)"></i><i style="top:59px;height:1px;background:linear-gradient(90deg,#8ed854 0.5px,#99da49 6.5px,#c8e11d 9.5px,#dfe10b 10.5px,#edde02 11.5px,#f6c600 13.5px,#fa6903 15.5px,#f94606 16.5px,#f94b06 17.5px,#fa6203 18.5px,#f99900 19.5px,#f6c700 20.5px,#efdc01 21.5px,#dce10d 22.5px,#bbe028 23.5px,#7dd771 24.5px,#44cadc 25.5px,#238cd0 26.5px,#5423a6 28.5px,#551ea3 35.5px,#551fa4 48.5px,#5423a6 49.5px,#238cd0 51.5px,#44cadc 52.5px,#7dd771 53.5px,#bbe028 54.5px,#dce10d 55.5px,#efdc01 56.5px,#f6c700 57.5px,#f99900 58.5px,#fa6203 59.5px,#f94b06 60.5px,#f94606 61.5px,#fa6903 62.5px,#f6c600 64.5px,#edde02 66.5px,#dfe10b 67.5px,#a5dc3d 70.5px,#99da49 71.5px,#90d952 76.5px)"></i><i style="top:60px;height:1px;background:linear-gradient(90deg,#8ed854 0.5px,#98da4a 6.5px,#c8e11d 9.5px,#dfe10b 10.5px,#edde02 11.5px,#f6c600 13.5px,#fa6a03 15.5px,#f94706 16.5px,#f94c05 17.5px,#fa6303 18.5px,#f99900 19.5px,#f6c600 20.5px,#efdc01 21.5px,#dde10d 22.5px,#bce028 23.5px,#7fd76e 24.5px,#45cbdc 25.5px,#228fd0 26.5px,#5325a7 28.5px,#551ea4 30.5px,#551fa4 48.5px,#5325a7 49.5px,#228fd0 51.5px,#45cbdc 52.5px,#7fd76e 53.5px,#bce028 54.5px,#dde10d 55.5px,#efdc01 56.5px,#f6c600 57.5px,#f99900 58.5px,#fa6303 59.5px,#f94c05 60.5px,#f94706 61.5px,#fa6a03 62.5px,#f6c600 64.5px,#edde02 66.5px,#dfe10b 67.5px,#a5dc3d 70.5px,#98da4a 71.5px,#90d952 76.5px)"></i><i style="top:61px;height:1px;background:linear-gradient(90deg,#8ed854 0.5px,#98da4a 6.5px,#c8e11e 9.5px,#dfe10b 10.5px,#eddf02 11.5px,#f6c700 13.5px,#fa6c03 15.5px,#f94806 16.5px,#f94c05 17.5px,#fa6303 18.5px,#f6c600 20.5px,#efdb01 21.5px,#dde10c 22.5px,#bde027 23.5px,#81d769 24.5px,#48cddb 25.5px,#2192d1 26.5px,#5128a8 28.5px,#551fa4 29.5px,#551fa4 48.5px,#5128a8 49.5px,#2192d1 51.5px,#48cddb 52.5px,#81d769 53.5px,#bde027 54.5px,#dde10c 55.5px,#efdb01 56.5px,#f6c600 57.5px,#fa6303 59.5px,#f94c05 60.5px,#f94806 61.5px,#fa6c03 62.5px,#f6c700 64.5px,#eddf02 66.5px,#dfe10b 67.5px,#a5dc3d 70.5px,#98da4a 71.5px,#90d952 76.5px)"></i><i style="top:62px;height:1px;background:linear-gradient(90deg,#8ed854 0.5px,#98da4a 6.5px,#c7e11e 9.5px,#dfe10b 10.5px,#eddf02 11.5px,#f5c800 13.5px,#f99f00 14.5px,#fa6f03 15.5px,#f94906 16.5px,#f94d05 17.5px,#fa6303 18.5px,#f6c500 20.5px,#efdb01 21.5px,#dee10c 22.5px,#bfe025 23.5px,#83d764 24.5px,#4bd0da 25.5px,#2196d3 26.5px,#4f2daa 28.5px,#551fa4 29.5px,#551fa4 48.5px,#4f2daa 49.5px,#2196d3 51.5px,#4bd0da 52.5px,#83d764 53.5px,#bfe025 54.5px,#dee10c 55.5px,#efdb01 56.5px,#f6c500 57.5px,#fa6303 59.5px,#f94d05 60.5px,#f94906 61.5px,#fa6f03 62.5px,#f99f00 63.5px,#f5c800 64.5px,#eddf02 66.5px,#dfe10b 67.5px,#b4df2f 69.5px,#98da4a 71.5px,#90d952 76.5px)"></i><i style="top:63px;height:1px;background:linear-gradient(90deg,#8ed854 0.5px,#98da4a 6.5px,#c6e11f 9.5px,#dee10c 10.5px,#ecdf02 11.5px,#f5c900 13.5px,#f9a200 14.5px,#fa7202 15.5px,#f94b06 16.5px,#f94d05 17.5px,#fa6303 18.5px,#f6c500 20.5px,#f0da01 21.5px,#dfe10b 22.5px,#c1e023 23.5px,#86d75f 24.5px,#50d4d7 25.5px,#229cd4 26.5px,#3169c2 27.5px,#4b36ae 28.5px,#551fa4 29.5px,#551fa4 48.5px,#4b36ae 49.5px,#3169c2 50.5px,#229cd4 51.5px,#50d4d7 52.5px,#86d75f 53.5px,#c1e023 54.5px,#dfe10b 55.5px,#f0da01 56.5px,#f6c500 57.5px,#fa6303 59.5px,#f94d05 60.5px,#f94b06 61.5px,#fa7202 62.5px,#f9a200 63.5px,#f5c900 64.5px,#ecdf02 66.5px,#dee10c 67.5px,#b4df2f 69.5px,#98da4a 71.5px,#90d952 76.5px)"></i><i style="top:64px;height:1px;background:linear-gradient(90deg,#8ed854 0.5px,#98da4a 6.5px,#c6e11f 9.5px,#dde10c 10.5px,#ecdf03 11.5px,#f5ca00 13.5px,#f9a500 14.5px,#f94d05 16.5px,#f94e05 17.5px,#fa6403 18.5px,#f6c400 20.5px,#f0da01 21.5px,#e1e10a 22.5px,#c4e121 23.5px,#8bd859 24.5px,#56d6d0 25.5px,#22a2d6 26.5px,#2d70c5 27.5px,#463fb2 28.5px,#5520a5 29.5px,#5520a5 48.5px,#463fb2 49.5px,#2d70c5 50.5px,#22a2d6 51.5px,#56d6d0 52.5px,#8bd859 53.5px,#c4e121 54.5px,#e1e10a 55.5px,#f0da01 56.5px,#f6c400 57.5px,#fa6403 59.5px,#f94e05 60.5px,#f94d05 61.5px,#f9a500 63.5px,#f5ca00 64.5px,#ecdf03 66.5px,#dde10c 67.5px,#b3df2f 69.5px,#98da4a 71.5px,#90d952 76.5px)"></i><i style="top:65px;height:1px;background:linear-gradient(90deg,#8ed854 0.5px,#98da4a 6.5px,#c5e120 9.5px,#dce10d 10.5px,#ebdf03 11.5px,#f5cc00 13.5px,#f9a800 14.5px,#f95005 16.5px,#f94e05 17.5px,#fa6403 18.5px,#f6c200 20.5px,#f1d900 21.5px,#e2e109 22.5px,#c7e11e 23.5px,#91d952 24.5px,#5bd7c6 25.5px,#25abd9 26.5px,#2979c9 27.5px,#414ab6 28.5px,#5324a7 29.5px,#551ea4 32.5px,#551fa4 47.5px,#5324a7 48.5px,#414ab6 49.5px,#2979c9 50.5px,#25abd9 51.5px,#5bd7c6 52.5px,#91d952 53.5px,#c7e11e 54.5px,#e2e109 55.5px,#f1d900 56.5px,#f6c200 57.5px,#fa6403 59.5px,#f94e05 60.5px,#f95005 61.5px,#f9a800 63.5px,#f5cc00 64.5px,#ebdf03 66.5px,#dce10d 67.5px,#b3df30 69.5px,#98da4a 71.5px,#90d952 76.5px)"></i><i style="top:66px;height:1px;background:linear-gradient(90deg,#8ed854 0.5px,#98da4a 6.5px,#c4e121 9.5px,#dbe10d 10.5px,#ebdf03 11.5px,#f4cd00 13.5px,#f8ac00 14.5px,#fa5405 16.5px,#f94f05 17.5px,#fa6403 18.5px,#f7c100 20.5px,#f1d800 21.5px,#e4e008 22.5px,#cae11c 23.5px,#97da4c 24.5px,#60d8ba 25.5px,#2bb4db 26.5px,#2582cc 27.5px,#4f2daa 29.5px,#551fa4 30.5px,#551fa4 47.5px,#4f2daa 48.5px,#2582cc 50.5px,#2bb4db 51.5px,#60d8ba 52.5px,#97da4c 53.5px,#cae11c 54.5px,#e4e008 55.5px,#f1d800 56.5px,#f7c100 57.5px,#fa6403 59.5px,#f94f05 60.5px,#fa5405 61.5px,#f8ac00 63.5px,#f4cd00 64.5px,#ebdf03 66.5px,#dbe10d 67.5px,#b2df31 69.5px,#98da4a 71.5px,#90d952 76.5px)"></i><i style="top:67px;height:1px;background:linear-gradient(90deg,#8ed854 0.5px,#98da4a 6.5px,#c2e122 9.5px,#dae10e 10.5px,#eadf04 11.5px,#f4ce00 13.5px,#f8b100 14.5px,#fa5904 16.5px,#f95005 17.5px,#fa6403 18.5px,#f7bf00 20.5px,#f2d600 21.5px,#e5e007 22.5px,#cde119 23.5px,#9edb45 24.5px,#66d8a9 25.5px,#35bfde 26.5px,#228dd0 27.5px,#4939b0 29.5px,#5422a6 30.5px,#551fa4 46.5px,#5422a6 47.5px,#4939b0 48.5px,#228dd0 50.5px,#35bfde 51.5px,#66d8a9 52.5px,#9edb45 53.5px,#cde119 54.5px,#e5e007 55.5px,#f2d600 56.5px,#f7bf00 57.5px,#fa6403 59.5px,#f95005 60.5px,#fa5904 61.5px,#f8b100 63.5px,#f4ce00 64.5px,#eadf04 66.5px,#dae10e 67.5px,#b1df31 69.5px,#98da4a 71.5px,#90d952 76.5px)"></i><i style="top:68px;height:1px;background:linear-gradient(90deg,#8ed854 0.5px,#97da4b 6.5px,#c1e023 9.5px,#d9e10f 10.5px,#e9df04 11.5px,#f4d000 13.5px,#f8b500 14.5px,#fa5e04 16.5px,#f95005 17.5px,#fa6503 18.5px,#f7bc00 20.5px,#f2d500 21.5px,#e7e005 22.5px,#d1e116 23.5px,#a6dc3d 24.5px,#69d595 25.5px,#43cbe0 26.5px,#2098d3 27.5px,#4248b6 29.5px,#512ba9 30.5px,#5520a5 31.5px,#5520a5 46.5px,#512ba9 47.5px,#4248b6 48.5px,#2098d3 50.5px,#43cbe0 51.5px,#69d595 52.5px,#a6dc3d 53.5px,#d1e116 54.5px,#e7e005 55.5px,#f2d500 56.5px,#f7bc00 57.5px,#fa6503 59.5px,#f95005 60.5px,#fa5e04 61.5px,#f8b500 63.5px,#f4d000 64.5px,#e9df04 66.5px,#d9e10f 67.5px,#b0de32 69.5px,#97da4b 71.5px,#8fd953 76.5px)"></i><i style="top:69px;height:1px;background:linear-gradient(90deg,#8ed854 0.5px,#97da4b 6.5px,#afde33 8.5px,#e8df05 11.5px,#f3d100 13.5px,#f7ba00 14.5px,#fa6503 16.5px,#fa5205 17.5px,#fa6603 18.5px,#fa8b01 19.5px,#f7ba00 20.5px,#f3d300 21.5px,#eadf04 22.5px,#d5e113 23.5px,#aede35 24.5px,#70d582 25.5px,#4ed3dc 26.5px,#22a5d7 27.5px,#267ecb 28.5px,#4a37af 30.5px,#5325a7 31.5px,#551fa4 34.5px,#551fa4 45.5px,#5325a7 46.5px,#4a37af 47.5px,#267ecb 49.5px,#22a5d7 50.5px,#4ed3dc 51.5px,#70d582 52.5px,#aede35 53.5px,#d5e113 54.5px,#eadf04 55.5px,#f3d300 56.5px,#f7ba00 57.5px,#fa8b01 58.5px,#fa6603 59.5px,#fa5205 60.5px,#fa6503 61.5px,#f7ba00 63.5px,#f3d100 64.5px,#e8df05 66.5px,#d7e211 67.5px,#afde33 69.5px,#97da4b 71.5px,#8fd953 76.5px)"></i><i style="top:70px;height:1px;background:linear-gradient(90deg,#8ed854 0.5px,#97da4b 6.5px,#aede34 8.5px,#e7e006 11.5px,#f3d300 13.5px,#f7bf00 14.5px,#fa6c03 16.5px,#fa5405 17.5px,#fa6603 18.5px,#fa8801 19.5px,#f8b700 20.5px,#f3d100 21.5px,#ecde03 22.5px,#d9e110 23.5px,#b7df2c 24.5px,#79d570 25.5px,#58d8d2 26.5px,#28b2db 27.5px,#228bd0 28.5px,#4247b5 30.5px,#4e30ab 31.5px,#551fa5 33.5px,#551fa5 44.5px,#4e30ab 46.5px,#4247b5 47.5px,#228bd0 49.5px,#28b2db 50.5px,#58d8d2 51.5px,#79d570 52.5px,#b7df2c 53.5px,#d9e110 54.5px,#ecde03 55.5px,#f3d100 56.5px,#f8b700 57.5px,#fa8801 58.5px,#fa6603 59.5px,#fa5405 60.5px,#fa6c03 61.5px,#f7bf00 63.5px,#f3d300 64.5px,#e7e006 66.5px,#aede34 69.5px,#97da4b 71.5px,#8fd953 76.5px)"></i><i style="top:71px;height:1px;background:linear-gradient(90deg,#8ed854 0.5px,#97da4b 6.5px,#adde36 8.5px,#e5e007 11.5px,#f2d500 13.5px,#f6c300 14.5px,#fa7502 16.5px,#fa5704 17.5px,#fa6703 18.5px,#fa8601 19.5px,#f8b300 20.5px,#f4cf00 21.5px,#eedd02 22.5px,#dde10d 23.5px,#c0e024 24.5px,#86d75f 25.5px,#5fd9c1 26.5px,#36c1df 27.5px,#2099d4 28.5px,#287bca 29.5px,#463fb2 31.5px,#4f2eab 32.5px,#551fa4 35.5px,#5521a5 43.5px,#4f2eab 45.5px,#463fb2 46.5px,#287bca 48.5px,#2099d4 49.5px,#36c1df 50.5px,#5fd9c1 51.5px,#86d75f 52.5px,#c0e024 53.5px,#dde10d 54.5px,#eedd02 55.5px,#f4cf00 56.5px,#f8b300 57.5px,#fa8601 58.5px,#fa6703 59.5px,#fa5704 60.5px,#fa7502 61.5px,#f6c300 63.5px,#f2d500 64.5px,#e5e007 66.5px,#adde36 69.5px,#97da4b 71.5px,#8fd953 76.5px)"></i><i style="top:72px;height:1px;background:linear-gradient(90deg,#8ed854 0.5px,#9ddb45 7.5px,#bae029 9.5px,#e4e008 11.5px,#f2d600 13.5px,#f6c700 14.5px,#fa5c04 17.5px,#fa6803 18.5px,#fa8401 19.5px,#f8af00 20.5px,#f5cc00 21.5px,#efdc01 22.5px,#e1e10a 23.5px,#c7e11e 24.5px,#95d94e 25.5px,#62d6a7 26.5px,#48cfe0 27.5px,#23a8d8 28.5px,#2289cf 29.5px,#473cb1 32.5px,#5229a8 34.5px,#5421a5 40.5px,#4e30ab 44.5px,#473cb1 45.5px,#2289cf 48.5px,#23a8d8 49.5px,#48cfe0 50.5px,#62d6a7 51.5px,#95d94e 52.5px,#c7e11e 53.5px,#e1e10a 54.5px,#efdc01 55.5px,#f5cc00 56.5px,#f8af00 57.5px,#fa8401 58.5px,#fa6803 59.5px,#fa5c04 60.5px,#f6c700 63.5px,#efde01 65.5px,#e4e008 66.5px,#acde37 69.5px,#9ddb45 70.5px,#8fd953 76.5px)"></i><i style="top:73px;height:1px;background:linear-gradient(90deg,#8dd855 0.5px,#9cdb46 7.5px,#b9e02b 9.5px,#e2e109 11.5px,#f2d800 13.5px,#f5cb00 14.5px,#fa8701 16.5px,#fa6203 17.5px,#fa6803 18.5px,#fa8201 19.5px,#f5ca00 21.5px,#f1da00 22.5px,#e5e007 23.5px,#cee118 24.5px,#a4dc3e 25.5px,#69d48d 26.5px,#56d8d9 27.5px,#2bb8dd 28.5px,#2097d3 29.5px,#306ac3 31.5px,#463fb2 33.5px,#512ba9 36.5px,#512ba9 41.5px,#463fb2 44.5px,#2580cc 47.5px,#2097d3 48.5px,#2bb8dd 49.5px,#56d8d9 50.5px,#69d48d 51.5px,#a4dc3e 52.5px,#cee118 53.5px,#e5e007 54.5px,#f1da00 55.5px,#f5ca00 56.5px,#fa8201 58.5px,#fa6803 59.5px,#fa6203 60.5px,#f8ad00 62.5px,#f5cb00 63.5px,#eede01 65.5px,#e2e109 66.5px,#b9e02b 68.5px,#9cdb46 70.5px,#8fd853 76.5px)"></i><i style="top:74px;height:1px;background:linear-gradient(90deg,#8dd855 0.5px,#9bda47 7.5px,#cae11b 10.5px,#e0e10a 11.5px,#f1d900 13.5px,#f4ce00 14.5px,#f8b500 15.5px,#fa6b03 17.5px,#fa6903 18.5px,#fa8101 19.5px,#f6c700 21.5px,#f2d700 22.5px,#e8df05 23.5px,#d4e113 24.5px,#b3df30 25.5px,#77d573 26.5px,#5edac9 27.5px,#3bc7e0 28.5px,#22a7d8 29.5px,#277cca 31.5px,#4248b6 34.5px,#4b36ae 37.5px,#4939af 41.5px,#4248b6 43.5px,#218ed0 47.5px,#22a7d8 48.5px,#3bc7e0 49.5px,#5edac9 50.5px,#77d573 51.5px,#b3df30 52.5px,#d4e113 53.5px,#e8df05 54.5px,#f2d700 55.5px,#f6c700 56.5px,#fa8101 58.5px,#fa6903 59.5px,#fa6b03 60.5px,#f8b500 62.5px,#f4ce00 63.5px,#eddf02 65.5px,#e0e10a 66.5px,#a8dd3a 69.5px,#9bda47 70.5px,#8fd853 76.5px)"></i><i style="top:75px;height:1px;background:linear-gradient(90deg,#8dd855 0.5px,#9ada48 7.5px,#c7e11e 10.5px,#dde10c 11.5px,#f1db00 13.5px,#f3d100 14.5px,#f7bd00 15.5px,#fa7702 17.5px,#fa6903 18.5px,#fa8101 19.5px,#f6c300 21.5px,#ecdf03 23.5px,#dbe10e 24.5px,#c0e025 25.5px,#8bd85a 26.5px,#5fd6af 27.5px,#51d5df 28.5px,#2bb8dd 29.5px,#209ed5 30.5px,#277cca 32.5px,#3e50b8 36.5px,#4149b6 39.5px,#3a58bb 42.5px,#228acf 46.5px,#209ed5 47.5px,#2bb8dd 48.5px,#51d5df 49.5px,#5fd6af 50.5px,#8bd85a 51.5px,#c0e025 52.5px,#dbe10e 53.5px,#ecdf03 54.5px,#f6c300 56.5px,#fa8101 58.5px,#fa6903 59.5px,#fa7702 60.5px,#f7bd00 62.5px,#f3d100 63.5px,#ebdf03 65.5px,#dde10c 66.5px,#b5df2e 68.5px,#9ada48 70.5px,#8fd853 76.5px)"></i><i style="top:76px;height:1px;background:linear-gradient(90deg,#8dd855 0.5px,#99da49 7.5px,#c4e121 10.5px,#dbe10e 11.5px,#f0dc00 13.5px,#f3d400 14.5px,#f6c300 15.5px,#fa8201 17.5px,#fa6d03 18.5px,#f99c00 20.5px,#f7bf00 21.5px,#eedd01 23.5px,#e1e10a 24.5px,#c9e11d 25.5px,#a1dc42 26.5px,#69d48e 27.5px,#5edcd4 28.5px,#3bc7e0 29.5px,#25aeda 30.5px,#228acf 32.5px,#306bc3 36.5px,#3268c2 40.5px,#257fcc 44.5px,#209ad4 46.5px,#25aeda 47.5px,#3bc7e0 48.5px,#5edcd4 49.5px,#69d48e 50.5px,#a1dc42 51.5px,#c9e11d 52.5px,#e1e10a 53.5px,#eedd01 54.5px,#f7bf00 56.5px,#fa8101 58.5px,#fa6d03 59.5px,#fa8201 60.5px,#f6c300 62.5px,#f3d400 63.5px,#e9df04 65.5px,#dbe10e 66.5px,#b3df30 68.5px,#99da49 70.5px,#8fd853 76.5px)"></i><i style="top:77px;height:1px;background:linear-gradient(90deg,#8dd855 0.5px,#98da4a 7.5px,#c0e024 10.5px,#d7e211 11.5px,#efdd01 13.5px,#f5c900 15.5px,#fa7202 18.5px,#fa8101 19.5px,#fa9900 20.5px,#f7ba00 21.5px,#f0db00 23.5px,#e6e006 24.5px,#d2e115 25.5px,#b4df2f 26.5px,#7cd56b 27.5px,#5ed8bc 28.5px,#54d7e0 29.5px,#30bedf 30.5px,#22abd9 31.5px,#218ed0 33.5px,#277bca 36.5px,#277bca 41.5px,#218ed0 44.5px,#22abd9 46.5px,#30bedf 47.5px,#54d7e0 48.5px,#5ed8bc 49.5px,#7cd56b 50.5px,#b4df2f 51.5px,#d2e115 52.5px,#e6e006 53.5px,#f0db00 54.5px,#f7ba00 56.5px,#fa9900 57.5px,#fa8101 58.5px,#fa7202 59.5px,#f5c900 62.5px,#efdd01 64.5px,#d7e211 66.5px,#b1df32 68.5px,#98da4a 70.5px,#8ed854 76.5px)"></i><i style="top:78px;height:1px;background:linear-gradient(90deg,#8dd855 0.5px,#98da4a 7.5px,#bde027 10.5px,#e5e007 12.5px,#f2d800 14.5px,#f4cd00 15.5px,#f8b800 16.5px,#fa7b02 18.5px,#fa8101 19.5px,#fa9600 20.5px,#f8b500 21.5px,#f5cb00 22.5px,#ebdf03 24.5px,#dbe10e 25.5px,#c2e023 26.5px,#98da4b 27.5px,#65d497 28.5px,#5fddd4 29.5px,#46cfe1 30.5px,#2cbade 31.5px,#1f9ed5 33.5px,#228acf 36.5px,#228acf 41.5px,#1f9ed5 44.5px,#2cbade 46.5px,#46cfe1 47.5px,#5fddd4 48.5px,#65d497 49.5px,#98da4b 50.5px,#c2e023 51.5px,#dbe10e 52.5px,#ebdf03 53.5px,#f5cb00 55.5px,#f8b500 56.5px,#fa9600 57.5px,#fa8101 58.5px,#fa7b02 59.5px,#f8b800 61.5px,#f4cd00 62.5px,#eede01 64.5px,#d3e214 66.5px,#afde34 68.5px,#98da4a 70.5px,#8ed854 76.5px)"></i><i style="top:79px;height:1px;background:linear-gradient(90deg,#8cd856 0.5px,#98da4a 7.5px,#acde36 9.5px,#cfe117 11.5px,#eddf02 13.5px,#f3d100 15.5px,#f7c000 16.5px,#fa8801 18.5px,#fa8001 19.5px,#f6c800 22.5px,#eede01 24.5px,#e2e109 25.5px,#cde119 26.5px,#b0de33 27.5px,#7cd56b 28.5px,#5ed7b8 29.5px,#5ddcdd 30.5px,#3fcae1 31.5px,#2cbade 32.5px,#1f9ed5 35.5px,#2096d3 39.5px,#20a5d7 43.5px,#2cbade 45.5px,#3fcae1 46.5px,#5ddcdd 47.5px,#5ed7b8 48.5px,#7cd56b 49.5px,#b0de33 50.5px,#cde119 51.5px,#e2e109 52.5px,#f2d500 54.5px,#f6c800 55.5px,#fa8001 58.5px,#fa8801 59.5px,#f7c000 61.5px,#f1da00 63.5px,#e2e109 65.5px,#bae029 67.5px,#9edb44 69.5px,#93d94f 73.5px,#8ed854 76.5px)"></i><i style="top:80px;height:1px;background:linear-gradient(90deg,#8cd856 0.5px,#9cdb46 8.5px,#cae11c 11.5px,#dfe10b 12.5px,#f0dc00 14.5px,#f6c700 16.5px,#fa9400 18.5px,#fa8301 19.5px,#f9aa00 21.5px,#f6c400 22.5px,#f0dc00 24.5px,#e8df05 25.5px,#d8e110 26.5px,#c0e024 27.5px,#9cdb47 28.5px,#6bd487 29.5px,#5fdbca 30.5px,#59dae0 31.5px,#3fcae1 32.5px,#2fbddf 33.5px,#21aad9 36.5px,#21aad9 41.5px,#2fbddf 44.5px,#3fcae1 45.5px,#59dae0 46.5px,#5fdbca 47.5px,#6bd487 48.5px,#9cdb47 49.5px,#c0e024 50.5px,#d8e110 51.5px,#e8df05 52.5px,#f3d200 54.5px,#f6c400 55.5px,#fa9400 57.5px,#fa8301 58.5px,#fa9400 59.5px,#f6c700 61.5px,#f0dc00 63.5px,#dfe10b 65.5px,#aadd39 68.5px,#9cdb46 69.5px,#8ed854 76.5px)"></i><i style="top:81px;height:1px;background:linear-gradient(90deg,#8cd856 0.5px,#9bda47 8.5px,#c5e120 11.5px,#dbe10e 12.5px,#efdd01 14.5px,#f5cc00 16.5px,#f9a100 18.5px,#fa8a01 19.5px,#fa9400 20.5px,#f7c000 22.5px,#f1d900 24.5px,#e1e10a 26.5px,#b4df2f 28.5px,#8bd859 29.5px,#64d499 30.5px,#60dcd0 31.5px,#59dae0 32.5px,#36c4e0 34.5px,#29b6dd 37.5px,#2bb8dd 41.5px,#36c4e0 43.5px,#59dae0 45.5px,#60dcd0 46.5px,#64d499 47.5px,#8bd859 48.5px,#b4df2f 49.5px,#e1e10a 51.5px,#f1d900 53.5px,#f7c000 55.5px,#fa9400 57.5px,#fa8a01 58.5px,#f7ba00 60.5px,#f2d800 62.5px,#e9df05 64.5px,#dbe10e 65.5px,#b5df2e 67.5px,#9bda47 69.5px,#8ed854 76.5px)"></i><i style="top:82px;height:1px;background:linear-gradient(90deg,#8cd856 0.5px,#99da49 8.5px,#c0e024 11.5px,#e6e007 13.5px,#f3d100 16.5px,#f7c300 17.5px,#fa9500 19.5px,#fa9300 20.5px,#f5cb00 23.5px,#efdd01 25.5px,#dae10f 27.5px,#abdd38 29.5px,#82d663 30.5px,#63d49d 31.5px,#5fdcce 32.5px,#5ddde0 33.5px,#3cc9e1 36.5px,#38c6e1 40.5px,#4fd4e1 43.5px,#5ddde0 44.5px,#5fdcce 45.5px,#63d49d 46.5px,#82d663 47.5px,#abdd38 48.5px,#dae10f 50.5px,#efdd01 52.5px,#f5cb00 54.5px,#fa9300 57.5px,#fa9500 58.5px,#f7c300 60.5px,#f1da00 62.5px,#e6e007 64.5px,#b2df31 67.5px,#99da49 69.5px,#8dd855 76.5px)"></i><i style="top:83px;height:1px;background:linear-gradient(90deg,#8cd856 0.5px,#99da49 8.5px,#bce028 11.5px,#e2e109 13.5px,#f0dc00 15.5px,#f5ca00 17.5px,#f9a200 19.5px,#fa9500 20.5px,#f6c800 23.5px,#eddf02 26.5px,#d4e114 28.5px,#a6dd3c 30.5px,#82d663 31.5px,#66d493 32.5px,#5ed9bf 33.5px,#60ded8 34.5px,#56d8e1 36.5px,#51d6e1 40.5px,#5cdce0 42.5px,#60ded8 43.5px,#5ed9bf 44.5px,#66d493 45.5px,#82d663 46.5px,#a6dd3c 47.5px,#d4e114 49.5px,#eddf02 51.5px,#f6c800 54.5px,#fa9500 57.5px,#f9a200 58.5px,#f5ca00 60.5px,#f0dc00 62.5px,#e2e109 64.5px,#afde34 67.5px,#99da49 69.5px,#8dd855 76.5px)"></i><i style="top:84px;height:1px;background:linear-gradient(90deg,#8cd856 0.5px,#98da4a 8.5px,#abdd37 10.5px,#cae11b 12.5px,#dee10b 13.5px,#efdd00 15.5px,#f4cf00 17.5px,#f8af00 19.5px,#f99c00 20.5px,#f9a200 21.5px,#f6c400 23.5px,#efdd00 26.5px,#e0e10b 28.5px,#a8dd3b 31.5px,#70d47c 33.5px,#62d49e 34.5px,#5ed8b9 35.5px,#5fdbc9 36.5px,#5fdcd3 38.5px,#5fdcd1 40.5px,#5fdbc9 41.5px,#5ed8b9 42.5px,#62d49e 43.5px,#70d47c 44.5px,#a8dd3b 46.5px,#e0e10b 49.5px,#efdd00 51.5px,#f6c400 54.5px,#f9a200 56.5px,#f99c00 57.5px,#f7c300 59.5px,#f1d800 61.5px,#eadf04 63.5px,#dee10b 64.5px,#b8e02b 66.5px,#9edb44 68.5px,#90d952 74.5px,#8dd855 76.5px)"></i><i style="top:85px;height:1px;background:linear-gradient(90deg,#8cd856 0.5px,#9cdb46 9.5px,#c4e121 12.5px,#d9e20f 13.5px,#eede01 15.5px,#f5c900 18.5px,#f9a900 20.5px,#f9a200 21.5px,#f5cb00 24.5px,#eede01 27.5px,#dee10c 29.5px,#aede34 32.5px,#76d473 35.5px,#68d38d 37.5px,#66d491 39.5px,#6dd383 41.5px,#85d75f 43.5px,#aede34 45.5px,#dee10c 48.5px,#eede01 50.5px,#f5cb00 53.5px,#f9a200 56.5px,#f9a900 57.5px,#f5c900 59.5px,#eede01 62.5px,#d9e20f 64.5px,#b5df2e 66.5px,#9cdb46 68.5px,#8cd856 76.5px)"></i><i style="top:86px;height:1px;background:linear-gradient(90deg,#8cd856 0.5px,#9ada48 9.5px,#bfe025 12.5px,#e3e008 14.5px,#f0dd00 16.5px,#f6c500 19.5px,#f9a700 21.5px,#f4d000 25.5px,#eddf02 28.5px,#d2e115 31.5px,#98da4a 36.5px,#8fd853 39.5px,#a1dc41 42.5px,#dee10b 47.5px,#f0dd00 50.5px,#f7bd00 54.5px,#f9a700 56.5px,#f4cf00 59.5px,#ecdf02 62.5px,#d3e214 64.5px,#b1df31 66.5px,#9ada48 68.5px,#8cd856 76.5px)"></i><i style="top:87px;height:1px;background:linear-gradient(90deg,#8cd856 0.5px,#99da49 9.5px,#bae029 12.5px,#dee10b 14.5px,#efde01 16.5px,#f5cb00 19.5px,#f8b300 21.5px,#f8ae00 22.5px,#f4cd00 25.5px,#eddf02 29.5px,#cee118 33.5px,#b5df2e 37.5px,#b8e02b 41.5px,#e8df05 47.5px,#f3d400 51.5px,#f7bb00 54.5px,#f8ae00 55.5px,#f8b300 56.5px,#f3d400 59.5px,#eadf04 62.5px,#cce11a 64.5px,#a1dc41 67.5px,#97da4b 69.5px,#8cd856 76.5px)"></i><i style="top:88px;height:1px;background:linear-gradient(90deg,#8cd856 0.5px,#9edb44 10.5px,#c5e120 13.5px,#e6e006 15.5px,#f1d800 18.5px,#f8b300 22.5px,#f1db00 28.5px,#e5e007 32.5px,#cde119 37.5px,#d0e117 41.5px,#eddf02 47.5px,#f3d100 51.5px,#f8b300 55.5px,#f1d800 59.5px,#e6e006 62.5px,#aadd39 66.5px,#98da4a 68.5px,#8cd856 76.5px)"></i><i style="top:89px;height:1px;background:linear-gradient(90deg,#8cd856 0.5px,#9bdb47 10.5px,#bee026 13.5px,#e1e109 15.5px,#efde01 17.5px,#f8b900 23.5px,#f1dc00 29.5px,#e0e10a 39.5px,#f1dc00 48.5px,#f8b900 54.5px,#efde01 60.5px,#e1e109 62.5px,#b2df31 65.5px,#9bdb47 67.5px,#8cd856 76.5px)"></i><i style="top:90px;height:1px;background:linear-gradient(90deg,#8cd856 0.5px,#9ada48 10.5px,#b9e02a 13.5px,#dce10d 15.5px,#eddf02 17.5px,#f3d300 20.5px,#f7c100 23.5px,#f5cc00 26.5px,#eede01 32.5px,#eede01 45.5px,#f5cc00 51.5px,#f7c100 54.5px,#f0dd00 59.5px,#e8e005 61.5px,#c9e11c 63.5px,#a2dc40 66.5px,#98da4a 68.5px,#8cd856 76.5px)"></i><i style="top:91px;height:1px;background:linear-gradient(90deg,#8cd856 0.5px,#9edb44 11.5px,#c1e123 14.5px,#e2e009 16.5px,#eede01 18.5px,#f7c400 24.5px,#f0dd00 32.5px,#f1da00 47.5px,#f7c400 53.5px,#eede01 59.5px,#e2e009 61.5px,#b5df2e 64.5px,#9edb44 66.5px,#8cd856 76.5px)"></i><i style="top:92px;height:1px;background:linear-gradient(90deg,#8cd856 0.5px,#9bdb47 11.5px,#bbe028 14.5px,#dde10c 16.5px,#eddf02 18.5px,#f3d200 22.5px,#f6c700 25.5px,#f0dd00 34.5px,#f1da00 46.5px,#f6c700 52.5px,#efde01 58.5px,#e8e005 60.5px,#cce11a 62.5px,#a5dc3d 65.5px,#98da4a 67.5px,#8cd856 76.5px)"></i><i style="top:93px;height:1px;background:linear-gradient(90deg,#8cd856 0.5px,#9ada48 11.5px,#c3e122 15.5px,#e2e109 17.5px,#eede02 19.5px,#f5ca00 26.5px,#f0dc00 35.5px,#f2d600 47.5px,#f5cc00 52.5px,#eede02 58.5px,#e2e109 60.5px,#b6df2d 63.5px,#9ada48 66.5px,#8cd856 76.5px)"></i><i style="top:94px;height:1px;background:linear-gradient(90deg,#8cd856 0.5px,#99da49 11.5px,#a7dd3b 13.5px,#cbe11a 16.5px,#e6e006 18.5px,#f3d400 24.5px,#f4ce00 28.5px,#f1db00 37.5px,#f3d400 47.5px,#f4cf00 51.5px,#ecdf03 58.5px,#dce10d 60.5px,#b1df31 63.5px,#9ddb45 65.5px,#8cd856 76.5px)"></i><i style="top:95px;height:1px;background:linear-gradient(90deg,#8cd856 0.5px,#9ada48 12.5px,#c2e123 16.5px,#e0e10a 18.5px,#ecdf02 20.5px,#f4d000 29.5px,#f1da00 40.5px,#f3d200 50.5px,#e9df05 58.5px,#d3e214 60.5px,#b6df2c 62.5px,#9ada48 65.5px,#8cd856 76.5px)"></i><i style="top:96px;height:1px;background:linear-gradient(90deg,#8cd856 0.5px,#98da4a 11.5px,#9edb45 13.5px,#c8e11d 17.5px,#e3e008 19.5px,#eede01 22.5px,#f3d400 32.5px,#f3d400 45.5px,#f1da00 52.5px,#eadf04 57.5px,#d8e210 59.5px,#b1df31 62.5px,#99da49 65.5px,#8cd856 76.5px)"></i><i style="top:97px;height:1px;background:linear-gradient(90deg,#8cd856 0.5px,#97da4b 11.5px,#a2dc40 14.5px,#bfe025 17.5px,#dce10d 19.5px,#eddf02 22.5px,#f2d600 38.5px,#f1dc00 51.5px,#e5e007 57.5px,#cee118 59.5px,#acde37 62.5px,#9bda47 64.5px,#8cd856 76.5px)"></i><i style="top:98px;height:1px;background:linear-gradient(90deg,#8cd856 0.5px,#96da4c 11.5px,#9ddb45 14.5px,#c3e121 18.5px,#e6e006 21.5px,#f1d900 31.5px,#f0dd00 50.5px,#e6e006 56.5px,#a6dd3c 62.5px,#9ada48 64.5px,#8cd856 76.5px)"></i><i style="top:99px;height:1px;background:linear-gradient(90deg,#8cd856 0.5px,#94d94e 10.5px,#a1dc41 15.5px,#c7e11e 19.5px,#e7e006 22.5px,#f1db00 35.5px,#ebdf03 54.5px,#d5e212 57.5px,#b3df30 60.5px,#9bda47 63.5px,#8cd856 75.5px,#8cd856 76.5px)"></i><i style="top:100px;height:1px;background:linear-gradient(90deg,#8cd856 0.5px,#93d94f 10.5px,#9cdb46 15.5px,#c9e11c 20.5px,#e6e006 23.5px,#f0de00 36.5px,#ebdf03 53.5px,#d6e211 56.5px,#b5df2e 59.5px,#9cdb46 62.5px,#8cd856 75.5px,#8cd856 76.5px)"></i><i style="top:101px;height:1px;background:linear-gradient(90deg,#8cd856 0.5px,#94d94e 11.5px,#9fdb43 16.5px,#cae11c 21.5px,#e5e007 24.5px,#edde02 31.5px,#eadf04 52.5px,#d6e211 55.5px,#b7e02c 58.5px,#9ada48 62.5px,#8cd856 75.5px,#8cd856 76.5px)"></i><i style="top:102px;height:1px;background:linear-gradient(90deg,#8cd856 0.5px,#93d94f 11.5px,#a1dc41 17.5px,#cae11c 22.5px,#e3e008 25.5px,#ecdf03 29.5px,#e8df05 51.5px,#d5e212 54.5px,#b7e02c 57.5px,#9bdb47 61.5px,#8cd856 74.5px,#8cd856 76.5px)"></i><i style="top:103px;height:1px;background:linear-gradient(90deg,#8cd856 0.5px,#92d950 11.5px,#9cdb46 17.5px,#c8e11e 23.5px,#e0e10a 26.5px,#ebdf03 31.5px,#e9df05 49.5px,#d2e215 53.5px,#b1df32 57.5px,#9ada48 61.5px,#8cd856 74.5px,#8cd856 76.5px)"></i><i style="top:104px;height:1px;background:linear-gradient(90deg,#8cd856 0.5px,#92d950 11.5px,#9ddb45 18.5px,#cee118 25.5px,#e4e008 29.5px,#ebdf03 38.5px,#e7e006 47.5px,#d6e211 51.5px,#a4dc3f 58.5px,#96da4c 63.5px,#8cd856 74.5px,#8cd856 76.5px)"></i><i style="top:105px;height:1px;background:linear-gradient(90deg,#8cd856 0.5px,#92d950 12.5px,#9edb44 19.5px,#dbe20d 29.5px,#e8df05 37.5px,#e1e109 46.5px,#d0e117 50.5px,#9bda47 59.5px,#8cd856 73.5px,#8cd856 76.5px)"></i><i style="top:106px;height:1px;background:linear-gradient(90deg,#8cd856 0.5px,#91d951 12.5px,#9edb44 20.5px,#dae20e 32.5px,#dfe10b 42.5px,#cee118 48.5px,#9bda47 58.5px,#8cd856 72.5px,#8cd856 76.5px)"></i><i style="top:107px;height:1px;background:linear-gradient(90deg,#8cd856 0.5px,#92d950 13.5px,#a2dc40 22.5px,#cfe118 33.5px,#d3e214 42.5px,#adde36 53.5px,#9ada48 58.5px,#8cd856 72.5px,#8cd856 76.5px)"></i><i style="top:108px;height:1px;background:linear-gradient(90deg,#8cd856 0.5px,#92d950 14.5px,#a1db42 23.5px,#bee026 32.5px,#c4e120 41.5px,#aede35 51.5px,#9ada48 57.5px,#8cd856 71.5px,#8cd856 76.5px)"></i><i style="top:109px;height:1px;background:linear-gradient(90deg,#8cd856 0.5px,#91d951 14.5px,#a2dc40 25.5px,#b9e02a 34.5px,#b4df2e 46.5px,#9ada48 56.5px,#8cd856 71.5px,#8cd856 76.5px)"></i><i style="top:110px;height:1px;background:linear-gradient(90deg,#8cd856 0.5px,#91d951 15.5px,#a3dc40 27.5px,#b2df30 37.5px,#a8dd3a 48.5px,#98da4a 56.5px,#8cd856 71.5px,#8cd856 76.5px)"></i><i style="top:111px;height:1px;background:linear-gradient(90deg,#8cd856 0.5px,#91d951 16.5px,#abdd38 39.5px,#8cd856 69.5px,#8cd856 76.5px)"></i><i style="top:112px;height:1px;background:linear-gradient(90deg,#8cd856 0.5px,#91d951 17.5px,#a3dc40 41.5px,#8cd856 69.5px,#8cd856 76.5px)"></i><i style="top:113px;height:1px;background:linear-gradient(90deg,#8cd856 0.5px,#91d951 18.5px,#9ddb45 41.5px,#8cd856 71.5px,#8cd856 76.5px)"></i><i style="top:114px;height:1px;background:linear-gradient(90deg,#8cd856 0.5px,#91d951 19.5px,#9bda47 43.5px,#8cd856 70.5px,#8cd856 76.5px)"></i><i style="top:115px;height:1px;background:linear-gradient(90deg,#8cd856 0.5px,#92d950 21.5px,#98da4a 46.5px,#8cd856 69.5px,#8cd856 76.5px)"></i></div>
<div class="hm" style="left:418px;top:147px;width:78px;height:118px"><i style="top:0px;height:1px;background:linear-gradient(90deg,#97da4b 0.5px,#9cdb46 8.5px,#d3e214 18.5px,#e6e006 28.5px,#e5e007 50.5px,#d3e214 59.5px,#98da4a 70.5px,#97da4b 77.5px)"></i><i style="top:1px;height:1px;background:linear-gradient(90deg,#97da4b 0.5px,#9cdb46 7.5px,#d4e213 17.5px,#e9df04 28.5px,#e6e006 52.5px,#d4e213 60.5px,#98da4a 71.5px,#97da4b 77.5px)"></i><i style="top:2px;height:1px;background:linear-gradient(90deg,#97da4b 0.5px,#9bda47 6.5px,#d5e213 16.5px,#ebdf03 27.5px,#e8e005 53.5px,#d5e213 61.5px,#97da4b 72.5px,#97da4b 77.5px)"></i><i style="top:3px;height:1px;background:linear-gradient(90deg,#97da4b 0.5px,#9ada48 5.5px,#dae20e 16.5px,#eede01 28.5px,#e9df04 54.5px,#d5e212 62.5px,#97da4b 73.5px,#97da4b 77.5px)"></i><i style="top:4px;height:1px;background:linear-gradient(90deg,#97da4b 0.5px,#9edb44 5.5px,#dae20e 15.5px,#efde00 26.5px,#ebdf03 55.5px,#d5e213 63.5px,#99da49 73.5px,#97da4b 77.5px)"></i><i style="top:5px;height:1px;background:linear-gradient(90deg,#97da4b 0.5px,#9cdb46 4.5px,#d9e20f 14.5px,#f0dd00 24.5px,#ecdf02 56.5px,#d4e213 64.5px,#98da4a 74.5px,#97da4b 77.5px)"></i><i style="top:6px;height:1px;background:linear-gradient(90deg,#97da4b 0.5px,#9ada48 3.5px,#d8e20f 13.5px,#f1dc00 22.5px,#f0dd00 48.5px,#f0dd00 56.5px,#d3e214 65.5px,#97da4b 75.5px,#97da4b 77.5px)"></i><i style="top:7px;height:1px;background:linear-gradient(90deg,#97da4b 0.5px,#9edb44 3.5px,#dce20d 13.5px,#f1d900 21.5px,#ecdf03 44.5px,#f1d900 56.5px,#d7e210 65.5px,#98da4a 75.5px,#97da4b 77.5px)"></i><i style="top:8px;height:1px;background:linear-gradient(90deg,#97da4b 0.5px,#a2dc40 3.5px,#dbe20d 12.5px,#f2d600 20.5px,#f1da00 27.5px,#e8df05 41.5px,#f1d800 51.5px,#f2d600 57.5px,#dbe20d 65.5px,#97da4b 76.5px,#97da4b 77.5px)"></i><i style="top:9px;height:1px;background:linear-gradient(90deg,#97da4b 0.5px,#b4df2f 5.5px,#dee10c 12.5px,#f2d800 18.5px,#f3d200 22.5px,#e9df04 31.5px,#e5e007 42.5px,#f1d900 51.5px,#f3d100 57.5px,#e8df05 62.5px,#cde119 68.5px,#99da49 76.5px,#97da4b 77.5px)"></i><i style="top:10px;height:1px;background:linear-gradient(90deg,#98da4a 0.5px,#dce20c 11.5px,#f0dc00 16.5px,#f4ce00 20.5px,#e8df05 30.5px,#dde10c 39.5px,#eddf02 49.5px,#f4ce00 57.5px,#eddf02 62.5px,#cbe11b 69.5px,#98da4a 77.5px)"></i><i style="top:11px;height:1px;background:linear-gradient(90deg,#9ada48 0.5px,#dbe20d 10.5px,#f0dc00 15.5px,#f5cb00 19.5px,#f2d500 24.5px,#e6e006 29.5px,#d6e212 38.5px,#e2e009 47.5px,#f1da00 52.5px,#f5cb00 57.5px,#f4d000 60.5px,#e6e006 64.5px,#cfe118 69.5px,#9ada48 77.5px)"></i><i style="top:12px;height:1px;background:linear-gradient(90deg,#9cdb46 0.5px,#dee10c 10.5px,#f0dc00 14.5px,#f6c700 18.5px,#f4cd00 22.5px,#e9df04 27.5px,#cfe118 35.5px,#d3e214 44.5px,#f1dc00 52.5px,#f6c800 57.5px,#f4ce00 61.5px,#eadf04 64.5px,#cce11a 70.5px,#9cdb46 77.5px)"></i><i style="top:13px;height:1px;background:linear-gradient(90deg,#a0db43 0.5px,#dce20d 9.5px,#efdd01 13.5px,#f7c400 17.5px,#f5ca00 21.5px,#e9df05 26.5px,#c8e11e 34.5px,#c8e11e 43.5px,#e9df05 51.5px,#f5ca00 56.5px,#f7c400 60.5px,#efdd01 64.5px,#c9e11d 71.5px,#a0db43 77.5px)"></i><i style="top:14px;height:1px;background:linear-gradient(90deg,#a3dc3f 0.5px,#dee10b 9.5px,#edde02 12.5px,#f7c000 16.5px,#f7bf00 19.5px,#efdd01 24.5px,#c4e121 32.5px,#bae029 40.5px,#cce11a 47.5px,#efdd01 53.5px,#f7be00 59.5px,#f6c600 62.5px,#edde02 65.5px,#cce11a 71.5px,#a3dc3f 77.5px)"></i><i style="top:15px;height:1px;background:linear-gradient(90deg,#a6dc3c 0.5px,#e1e10a 9.5px,#f1da00 12.5px,#f7bb00 15.5px,#f8b600 18.5px,#f0db00 23.5px,#c8e11d 29.5px,#afde34 36.5px,#b3df30 43.5px,#cee118 49.5px,#f0db00 54.5px,#f8b600 59.5px,#f7bb00 62.5px,#ebdf03 66.5px,#c8e11d 72.5px,#a6dc3c 77.5px)"></i><i style="top:16px;height:1px;background:linear-gradient(90deg,#a9dd39 0.5px,#dee10b 8.5px,#efdc01 11.5px,#f8b100 15.5px,#f8b200 18.5px,#f6c800 20.5px,#ecdf03 23.5px,#b2df31 31.5px,#a1dc41 37.5px,#a9dd39 44.5px,#d5e212 51.5px,#ecdf03 54.5px,#f7c000 58.5px,#f8b200 59.5px,#f8b100 62.5px,#efdc01 66.5px,#c5e120 73.5px,#a9dd39 77.5px)"></i><i style="top:17px;height:1px;background:linear-gradient(90deg,#acde36 0.5px,#e1e10a 8.5px,#ecdf03 10.5px,#f7bb00 13.5px,#f8ac00 14.5px,#f9a700 17.5px,#f5ca00 20.5px,#efdd01 22.5px,#b2df30 29.5px,#9ada48 34.5px,#98da4a 42.5px,#abdd37 47.5px,#e6e006 54.5px,#f3d200 56.5px,#f7c200 58.5px,#f9a700 60.5px,#f8ac00 63.5px,#f2d600 66.5px,#e5e007 68.5px,#bae029 75.5px,#acde36 77.5px)"></i><i style="top:18px;height:1px;background:linear-gradient(90deg,#afde34 0.5px,#e3e008 8.5px,#f0db00 10.5px,#f7c000 12.5px,#f8ab00 13.5px,#f99d00 16.5px,#f8b600 18.5px,#f1d900 21.5px,#cbe11a 25.5px,#9fdb43 30.5px,#82d663 38.5px,#8ad859 42.5px,#a6dc3d 48.5px,#e9df04 55.5px,#f7c400 58.5px,#f9a600 60.5px,#f99d00 61.5px,#f8ab00 64.5px,#f4cf00 66.5px,#e8df05 68.5px,#c4e121 74.5px,#afde34 77.5px)"></i><i style="top:19px;height:1px;background:linear-gradient(90deg,#b2df31 0.5px,#e0e10a 7.5px,#ecde02 9.5px,#f6c600 11.5px,#f99e00 13.5px,#fa9600 15.5px,#fa9800 16.5px,#f3d300 20.5px,#edde02 21.5px,#c1e023 25.5px,#9ada48 29.5px,#84d660 32.5px,#67d38f 35.5px,#60d4a3 38.5px,#63d499 41.5px,#78d470 44.5px,#8ed854 46.5px,#abdd38 50.5px,#e3e008 55.5px,#edde02 56.5px,#f9a800 60.5px,#fa9800 61.5px,#fa9900 63.5px,#f99e00 64.5px,#f3d400 67.5px,#ecde02 68.5px,#c0e024 75.5px,#b2df31 77.5px)"></i><i style="top:20px;height:1px;background:linear-gradient(90deg,#b4df2f 0.5px,#e3e009 7.5px,#f0da00 9.5px,#f8b800 11.5px,#f99e00 12.5px,#fa8c00 15.5px,#f1da00 20.5px,#d0e117 23.5px,#9edb44 27.5px,#8ed854 29.5px,#80d666 30.5px,#62d49e 32.5px,#5edac7 34.5px,#5bdbd7 36.5px,#5adada 40.5px,#5edbd2 42.5px,#5ed7b5 44.5px,#6dd481 46.5px,#80d666 47.5px,#8ed854 48.5px,#b5df2d 52.5px,#e7e006 56.5px,#f1da00 57.5px,#fa8c00 62.5px,#f99e00 65.5px,#f5cc00 67.5px,#f0da00 68.5px,#cfe117 73.5px,#b4df2f 77.5px)"></i><i style="top:21px;height:1px;background:linear-gradient(90deg,#b7e02c 0.5px,#ecde03 8.5px,#f6c200 10.5px,#f9a500 11.5px,#fa9100 12.5px,#fa8401 14.5px,#fa8801 15.5px,#f3d200 19.5px,#ecde02 20.5px,#c5e120 23.5px,#86d75e 28.5px,#6fd47f 29.5px,#60d5a6 30.5px,#5edac6 31.5px,#5adad9 32.5px,#3dc7e0 34.5px,#2ab6dd 37.5px,#2db9dd 41.5px,#3dc7e0 43.5px,#5adad9 45.5px,#5edac6 46.5px,#60d5a6 47.5px,#6fd47f 48.5px,#86d75e 49.5px,#c5e120 54.5px,#ecde02 57.5px,#f7be00 59.5px,#fa8801 62.5px,#fa8401 63.5px,#fa9100 65.5px,#f9a500 66.5px,#f6c200 67.5px,#ecde03 69.5px,#b7e02c 77.5px)"></i><i style="top:22px;height:1px;background:linear-gradient(90deg,#b9e02a 0.5px,#e7e006 7.5px,#f0db01 8.5px,#f5cc00 9.5px,#fa9400 11.5px,#fa7f01 13.5px,#fa7a02 14.5px,#f8ae00 17.5px,#f1d900 19.5px,#dae20e 21.5px,#9ddb46 25.5px,#91d951 26.5px,#7ed568 27.5px,#65d497 28.5px,#5ed9c3 29.5px,#56d8db 30.5px,#2bb7dd 32.5px,#209ed5 35.5px,#2095d2 39.5px,#21a4d7 43.5px,#2bb7dd 45.5px,#56d8db 47.5px,#5ed9c3 48.5px,#65d497 49.5px,#7ed568 50.5px,#91d951 51.5px,#cae11c 55.5px,#e7e006 57.5px,#f1d900 58.5px,#fa8801 62.5px,#fa7a02 63.5px,#fa8601 65.5px,#fa9400 66.5px,#f5cc00 68.5px,#f0db01 69.5px,#c6e11f 75.5px,#b9e02a 77.5px)"></i><i style="top:23px;height:1px;background:linear-gradient(90deg,#bbe028 0.5px,#eadf04 7.5px,#f2d500 8.5px,#f7c200 9.5px,#fa8501 11.5px,#fa7302 13.5px,#fa7502 14.5px,#f8b400 17.5px,#f4cf00 18.5px,#edde02 19.5px,#bfe025 22.5px,#91d951 25.5px,#78d571 26.5px,#60d6a9 27.5px,#5bdad4 28.5px,#40cae0 29.5px,#28b3dc 30.5px,#2097d3 32.5px,#267ecb 35.5px,#2a76c8 39.5px,#2484cd 43.5px,#21a4d7 46.5px,#28b3dc 47.5px,#40cae0 48.5px,#5bdad4 49.5px,#60d6a9 50.5px,#78d571 51.5px,#91d951 52.5px,#e1e10a 57.5px,#edde02 58.5px,#f4cf00 59.5px,#fa8a01 62.5px,#fa7502 63.5px,#fa7302 64.5px,#fa8501 66.5px,#f7c200 68.5px,#f2d500 69.5px,#eadf04 70.5px,#bbe028 77.5px)"></i><i style="top:24px;height:1px;background:linear-gradient(90deg,#bde026 0.5px,#eedd02 7.5px,#f4cd00 8.5px,#f8b200 9.5px,#fa8c01 10.5px,#fa7a02 11.5px,#fa6803 13.5px,#fa7502 14.5px,#f99f00 16.5px,#f2d600 18.5px,#d9e20f 20.5px,#92d950 24.5px,#77d573 25.5px,#5fd7b2 26.5px,#54d6db 27.5px,#30bcde 28.5px,#21a5d7 29.5px,#2977c8 32.5px,#385cbd 36.5px,#385cbd 41.5px,#2977c8 45.5px,#21a5d7 48.5px,#30bcde 49.5px,#54d6db 50.5px,#5fd7b2 51.5px,#77d573 52.5px,#92d950 53.5px,#d9e20f 57.5px,#f2d600 59.5px,#f99f00 61.5px,#fa7502 63.5px,#fa6803 64.5px,#fa7a02 66.5px,#fa8c01 67.5px,#f8b200 68.5px,#f4cd00 69.5px,#eedd02 70.5px,#bde026 77.5px)"></i><i style="top:25px;height:1px;background:linear-gradient(90deg,#bfe025 0.5px,#e8df05 6.5px,#f1d800 7.5px,#f6c400 8.5px,#fa7c02 10.5px,#fa6403 12.5px,#fa6203 13.5px,#f9a400 16.5px,#f5c800 17.5px,#efdb01 18.5px,#cfe117 20.5px,#95da4d 23.5px,#7ad56f 24.5px,#5fd7b4 25.5px,#4dd2dd 26.5px,#28b2db 27.5px,#209ad4 28.5px,#3366c1 31.5px,#404cb7 34.5px,#4344b4 40.5px,#3d51b9 44.5px,#2b73c7 47.5px,#209ad4 49.5px,#28b2db 50.5px,#4dd2dd 51.5px,#5fd7b4 52.5px,#7ad56f 53.5px,#95da4d 54.5px,#e1e109 58.5px,#efdb01 59.5px,#f5c800 60.5px,#f9a400 61.5px,#fa6203 64.5px,#fa6403 65.5px,#fa7c02 67.5px,#f6c400 69.5px,#f1d800 70.5px,#e2e109 72.5px,#bfe025 77.5px)"></i><i style="top:26px;height:1px;background:linear-gradient(90deg,#c1e023 0.5px,#ebdf03 6.5px,#f3d100 7.5px,#f8b700 8.5px,#fa8b01 9.5px,#fa6f02 10.5px,#fa5904 12.5px,#fa6004 13.5px,#fa8d00 15.5px,#f4d000 17.5px,#eadf04 18.5px,#c4e120 20.5px,#9ada48 22.5px,#81d665 23.5px,#61d7ad 24.5px,#4cd1dd 25.5px,#25aeda 26.5px,#2191d1 27.5px,#3366c1 29.5px,#404ab6 31.5px,#483bb0 35.5px,#473db1 43.5px,#404ab6 46.5px,#2979c9 49.5px,#2191d1 50.5px,#25aeda 51.5px,#4cd1dd 52.5px,#61d7ad 53.5px,#81d665 54.5px,#9ada48 55.5px,#dae10f 58.5px,#eadf04 59.5px,#f4d000 60.5px,#fa8d00 62.5px,#fa6004 64.5px,#fa5904 65.5px,#fa6f02 67.5px,#fa8b01 68.5px,#f8b700 69.5px,#f3d100 70.5px,#ebdf03 71.5px,#c1e023 77.5px)"></i><i style="top:27px;height:1px;background:linear-gradient(90deg,#c2e122 0.5px,#efdc01 6.5px,#f5c900 7.5px,#f9a500 8.5px,#fa7802 9.5px,#fa6303 10.5px,#fa5305 12.5px,#fa6104 13.5px,#fa9000 15.5px,#f7bb00 16.5px,#f2d700 17.5px,#e4e007 18.5px,#b9e02b 20.5px,#8bd858 22.5px,#64d59d 23.5px,#50d3db 24.5px,#26adda 25.5px,#228cd0 26.5px,#395bbd 28.5px,#4540b3 30.5px,#4e30ac 38.5px,#473cb1 46.5px,#4149b6 48.5px,#2d71c6 50.5px,#228cd0 51.5px,#26adda 52.5px,#50d3db 53.5px,#64d59d 54.5px,#8bd858 55.5px,#d1e116 58.5px,#e4e007 59.5px,#f2d700 60.5px,#f7bb00 61.5px,#fa9000 62.5px,#fa6104 64.5px,#fa5305 65.5px,#fa6303 67.5px,#fa7802 68.5px,#f9a500 69.5px,#f5c900 70.5px,#efdc01 71.5px,#c2e122 77.5px)"></i><i style="top:28px;height:1px;background:linear-gradient(90deg,#c4e121 0.5px,#e8e005 5.5px,#f2d700 6.5px,#f7bf00 7.5px,#fa6803 9.5px,#f95105 11.5px,#f95005 12.5px,#fa7802 14.5px,#f99800 15.5px,#f6c600 16.5px,#eedc02 17.5px,#dde10c 18.5px,#95d94d 21.5px,#6fd484 22.5px,#57d7d3 23.5px,#29b1db 24.5px,#238bcf 25.5px,#3d53ba 27.5px,#4541b3 28.5px,#502caa 35.5px,#4d32ac 45.5px,#4541b3 49.5px,#306cc4 51.5px,#238bcf 52.5px,#29b1db 53.5px,#57d7d3 54.5px,#6fd484 55.5px,#95d94d 56.5px,#dde10c 59.5px,#eedc02 60.5px,#f6c600 61.5px,#f99800 62.5px,#fa7802 63.5px,#f95005 65.5px,#fa5904 67.5px,#fa6803 68.5px,#f7bf00 70.5px,#f2d700 71.5px,#e1e109 73.5px,#c4e121 77.5px)"></i><i style="top:29px;height:1px;background:linear-gradient(90deg,#c5e11f 0.5px,#eadf04 5.5px,#f3d100 6.5px,#f8b100 7.5px,#fa7e01 8.5px,#fa5c04 9.5px,#f94906 11.5px,#f94f05 12.5px,#fa7902 14.5px,#f4ce00 16.5px,#e9df04 17.5px,#d5e113 18.5px,#9fdb43 20.5px,#80d666 21.5px,#5dd8c0 22.5px,#32bbdd 23.5px,#228fd0 24.5px,#3f4db8 26.5px,#473cb1 27.5px,#512ba9 33.5px,#4f2fab 41.5px,#502eaa 46.5px,#473cb1 50.5px,#3f4db8 51.5px,#228fd0 53.5px,#32bbdd 54.5px,#5dd8c0 55.5px,#80d666 56.5px,#9fdb43 57.5px,#d5e113 59.5px,#e9df04 60.5px,#f4ce00 61.5px,#fa7902 63.5px,#f94f05 65.5px,#f94906 66.5px,#fa5c04 68.5px,#fa7e01 69.5px,#f8b100 70.5px,#f3d100 71.5px,#eadf04 72.5px,#c5e11f 77.5px)"></i><i style="top:30px;height:1px;background:linear-gradient(90deg,#c7e11e 0.5px,#eddd02 5.5px,#f5c900 6.5px,#f9a000 7.5px,#fa6b03 8.5px,#fa5405 9.5px,#f94406 11.5px,#fa6103 13.5px,#fa7d01 14.5px,#f8b200 15.5px,#f2d500 16.5px,#e3e008 17.5px,#aede35 19.5px,#92d951 20.5px,#66d59c 21.5px,#44cbdd 22.5px,#2298d3 23.5px,#2f6ec4 24.5px,#404cb7 25.5px,#4939b0 26.5px,#512aa9 31.5px,#483ab0 39.5px,#512aa9 46.5px,#4939b0 51.5px,#404cb7 52.5px,#2f6ec4 53.5px,#2298d3 54.5px,#44cbdd 55.5px,#66d59c 56.5px,#92d951 57.5px,#cbe11b 59.5px,#e3e008 60.5px,#f2d500 61.5px,#f8b200 62.5px,#fa7d01 63.5px,#fa6103 64.5px,#f94406 66.5px,#fa5405 68.5px,#fa6b03 69.5px,#f9a000 70.5px,#f5c900 71.5px,#eddd02 72.5px,#c7e11e 77.5px)"></i><i style="top:31px;height:1px;background:linear-gradient(90deg,#c8e11d 0.5px,#e6e006 4.5px,#f0d901 5.5px,#f7c000 6.5px,#fa5c04 8.5px,#f94306 10.5px,#f84007 11.5px,#fa6103 13.5px,#fa8501 14.5px,#f7bd00 15.5px,#efda01 16.5px,#dce10d 17.5px,#a1dc41 19.5px,#7bd66e 20.5px,#56d6cf 21.5px,#25a7d8 22.5px,#2b76c8 23.5px,#3e4fb8 24.5px,#4a37af 25.5px,#5228a8 30.5px,#4248b6 38.5px,#463eb2 42.5px,#5228a8 47.5px,#4a37af 52.5px,#3e4fb8 53.5px,#2b76c8 54.5px,#25a7d8 55.5px,#56d6cf 56.5px,#7bd66e 57.5px,#a1dc41 58.5px,#dce10d 60.5px,#efda01 61.5px,#f7bd00 62.5px,#fa8501 63.5px,#fa6103 64.5px,#f84007 66.5px,#f94d05 68.5px,#fa5c04 69.5px,#f7c000 71.5px,#f0d901 72.5px,#d9e20f 75.5px,#c8e11d 77.5px)"></i><i style="top:32px;height:1px;background:linear-gradient(90deg,#c9e11c 0.5px,#e8df05 4.5px,#f3d400 5.5px,#f8b400 6.5px,#fa7b02 7.5px,#f95205 8.5px,#f83c07 10.5px,#f83f07 11.5px,#fa6103 13.5px,#f6c600 15.5px,#ebde03 16.5px,#d4e114 17.5px,#93d94f 19.5px,#65d6a4 20.5px,#38bfdd 21.5px,#2585cd 22.5px,#3b56bb 23.5px,#4a38af 24.5px,#512aa9 27.5px,#5129a9 30.5px,#404cb7 35.5px,#385dbd 38.5px,#3c54ba 41.5px,#502daa 46.5px,#5228a8 49.5px,#4e30ab 52.5px,#4a38af 53.5px,#3b56bb 54.5px,#2585cd 55.5px,#38bfdd 56.5px,#65d6a4 57.5px,#93d94f 58.5px,#d4e114 60.5px,#ebde03 61.5px,#f6c600 62.5px,#fa6103 64.5px,#f83f07 66.5px,#f83c07 67.5px,#f95205 69.5px,#fa7b02 70.5px,#f8b400 71.5px,#f3d400 72.5px,#e8df05 73.5px,#c9e11c 77.5px)"></i><i style="top:33px;height:1px;background:linear-gradient(90deg,#cbe11b 0.5px,#ebdf03 4.5px,#f4ce00 5.5px,#f9a500 6.5px,#fa6803 7.5px,#f94b06 8.5px,#f83608 10.5px,#f94f05 12.5px,#fa6403 13.5px,#f99d00 14.5px,#f4ce00 15.5px,#e6e007 16.5px,#cae11c 17.5px,#a7dd3b 18.5px,#7ed66a 19.5px,#53d4d0 20.5px,#239cd5 21.5px,#3364c1 22.5px,#483cb1 23.5px,#4f2eab 24.5px,#5228a8 29.5px,#4344b4 33.5px,#306cc4 36.5px,#2a76c8 39.5px,#3561bf 42.5px,#493ab0 45.5px,#5228a8 48.5px,#4f2eab 53.5px,#483cb1 54.5px,#3364c1 55.5px,#239cd5 56.5px,#53d4d0 57.5px,#7ed66a 58.5px,#a7dd3b 59.5px,#cae11c 60.5px,#e6e007 61.5px,#f4ce00 62.5px,#f99d00 63.5px,#fa6403 64.5px,#f83f07 66.5px,#f83608 67.5px,#f94b06 69.5px,#fa6803 70.5px,#f9a500 71.5px,#f4ce00 72.5px,#ebdf03 73.5px,#cbe11b 77.5px)"></i><i style="top:34px;height:1px;background:linear-gradient(90deg,#cce11a 0.5px,#eddd02 4.5px,#f6c600 5.5px,#f99500 6.5px,#fa5a04 7.5px,#f94506 8.5px,#f73108 10.5px,#f94e05 12.5px,#fa6903 13.5px,#f9a900 14.5px,#f2d400 15.5px,#dfe10b 16.5px,#9ada48 18.5px,#69d69a 19.5px,#36bddc 20.5px,#297bc9 21.5px,#4247b5 22.5px,#4f2fab 23.5px,#5326a7 28.5px,#4a37af 31.5px,#4541b3 32.5px,#2879c9 35.5px,#218dd0 37.5px,#218dd0 40.5px,#2879c9 42.5px,#4541b3 45.5px,#512aa9 48.5px,#5227a8 51.5px,#4f2fab 54.5px,#4247b5 55.5px,#297bc9 56.5px,#36bddc 57.5px,#69d69a 58.5px,#9ada48 59.5px,#dfe10b 61.5px,#f2d400 62.5px,#f9a900 63.5px,#fa6903 64.5px,#f94e05 65.5px,#f73108 67.5px,#f94506 69.5px,#fa5a04 70.5px,#f99500 71.5px,#f6c600 72.5px,#eddd02 73.5px,#cce11a 77.5px)"></i><i style="top:35px;height:1px;background:linear-gradient(90deg,#cde119 0.5px,#e6e007 3.5px,#efda01 4.5px,#f7be00 5.5px,#f94f05 7.5px,#f83208 9.5px,#f72e09 10.5px,#f94e05 12.5px,#fa7102 13.5px,#f8b300 14.5px,#efd901 15.5px,#d8e110 16.5px,#b3df30 17.5px,#89d75b 18.5px,#57d5c8 19.5px,#249bd4 20.5px,#385bbd 21.5px,#4c33ad 22.5px,#5228a8 24.5px,#5227a8 28.5px,#473cb1 31.5px,#2580cc 34.5px,#2098d3 36.5px,#1f9cd5 40.5px,#2190d1 42.5px,#306bc3 44.5px,#473cb1 46.5px,#5227a8 49.5px,#5228a8 53.5px,#4c33ad 55.5px,#385bbd 56.5px,#249bd4 57.5px,#57d5c8 58.5px,#89d75b 59.5px,#b3df30 60.5px,#d8e110 61.5px,#efd901 62.5px,#f8b300 63.5px,#fa7102 64.5px,#f94e05 65.5px,#f72e09 67.5px,#f83208 68.5px,#f94f05 70.5px,#f7be00 72.5px,#efda01 73.5px,#d7e211 76.5px,#cde119 77.5px)"></i><i style="top:36px;height:1px;background:linear-gradient(90deg,#cee118 0.5px,#e7e006 3.5px,#f2d600 4.5px,#f8b300 5.5px,#fa7402 6.5px,#f94706 7.5px,#f72c09 9.5px,#f72d09 10.5px,#f94e05 12.5px,#fa7b02 13.5px,#f7bd00 14.5px,#ebdd03 15.5px,#cfe117 16.5px,#a7dd3c 17.5px,#74d67f 18.5px,#3fc4db 19.5px,#2a7ac9 20.5px,#4541b2 21.5px,#512ba9 22.5px,#5324a7 27.5px,#4b36ae 30.5px,#4248b5 31.5px,#2581cc 33.5px,#2193d2 34.5px,#20a8d8 37.5px,#1fa4d7 41.5px,#2193d2 43.5px,#2581cc 44.5px,#4248b5 46.5px,#4b36ae 47.5px,#5422a6 51.5px,#512ba9 55.5px,#4541b2 56.5px,#2a7ac9 57.5px,#3fc4db 58.5px,#74d67f 59.5px,#a7dd3c 60.5px,#cfe117 61.5px,#ebdd03 62.5px,#f7bd00 63.5px,#fa7b02 64.5px,#f94e05 65.5px,#f72d09 67.5px,#f72c09 68.5px,#f94706 70.5px,#fa7402 71.5px,#f8b300 72.5px,#f2d600 73.5px,#e7e006 74.5px,#cee118 77.5px)"></i><i style="top:37px;height:1px;background:linear-gradient(90deg,#cfe117 0.5px,#e8df05 3.5px,#f3d100 4.5px,#f9a700 5.5px,#fa6403 6.5px,#f84007 7.5px,#f72909 9.5px,#f72d09 10.5px,#f94e05 12.5px,#fa8601 13.5px,#f6c500 14.5px,#e7df06 15.5px,#c5e11f 16.5px,#9ada48 17.5px,#63d7ac 18.5px,#28a6d7 19.5px,#385cbd 20.5px,#4e30ab 21.5px,#5423a6 24.5px,#5325a7 27.5px,#4f2fab 29.5px,#483bb1 30.5px,#287aca 32.5px,#2192d1 33.5px,#21a9d8 35.5px,#28b4dc 39.5px,#21a9d8 42.5px,#2192d1 44.5px,#287aca 45.5px,#483bb1 47.5px,#5129a9 49.5px,#5521a5 52.5px,#5228a8 55.5px,#4e30ab 56.5px,#385cbd 57.5px,#28a6d7 58.5px,#63d7ac 59.5px,#9ada48 60.5px,#c5e11f 61.5px,#e7df06 62.5px,#f6c500 63.5px,#fa8601 64.5px,#f94e05 65.5px,#f72d09 67.5px,#f72909 68.5px,#f84007 70.5px,#fa6403 71.5px,#f9a700 72.5px,#f3d100 73.5px,#e8df05 74.5px,#cfe117 77.5px)"></i><i style="top:38px;height:1px;background:linear-gradient(90deg,#d1e116 0.5px,#eadf04 3.5px,#f5cc00 4.5px,#f99a00 5.5px,#f95704 6.5px,#f83b07 7.5px,#f72d09 8.5px,#f62809 9.5px,#f72c09 10.5px,#f95005 12.5px,#f4cd00 14.5px,#e2e009 15.5px,#bbe029 16.5px,#89d85b 17.5px,#4fd0ce 18.5px,#2786cd 19.5px,#4542b3 20.5px,#5229a8 21.5px,#5422a6 26.5px,#4e31ac 29.5px,#4248b6 30.5px,#228bd0 32.5px,#22abd9 34.5px,#2dbcdf 37.5px,#2bb9de 41.5px,#22abd9 43.5px,#228bd0 45.5px,#4248b6 47.5px,#4e31ac 48.5px,#5520a5 52.5px,#5229a8 56.5px,#4542b3 57.5px,#2786cd 58.5px,#4fd0ce 59.5px,#89d85b 60.5px,#bbe029 61.5px,#e2e009 62.5px,#f4cd00 63.5px,#f95005 65.5px,#f72c09 67.5px,#f62809 68.5px,#f72d09 69.5px,#f83b07 70.5px,#f95704 71.5px,#f99a00 72.5px,#f5cc00 73.5px,#eadf04 74.5px,#d1e116 77.5px)"></i><i style="top:39px;height:1px;background:linear-gradient(90deg,#d2e215 0.5px,#ecdd03 3.5px,#f6c500 4.5px,#f94c05 6.5px,#f83508 7.5px,#f72a09 8.5px,#f62709 9.5px,#f72c09 10.5px,#f83b07 11.5px,#f95505 12.5px,#f99900 13.5px,#f3d200 14.5px,#dbe10e 15.5px,#b0de33 16.5px,#77d67a 17.5px,#3abfda 18.5px,#3168c2 19.5px,#4d31ac 20.5px,#5326a7 21.5px,#5422a6 26.5px,#512ba9 28.5px,#4b36ae 29.5px,#267fcb 31.5px,#2099d3 32.5px,#2ab6dd 34.5px,#36c5e1 38.5px,#2ebddf 42.5px,#22abd9 44.5px,#2099d3 45.5px,#267fcb 46.5px,#4b36ae 48.5px,#5326a7 50.5px,#5520a5 53.5px,#5326a7 56.5px,#4d31ac 57.5px,#3168c2 58.5px,#3abfda 59.5px,#77d67a 60.5px,#b0de33 61.5px,#dbe10e 62.5px,#f3d200 63.5px,#f99900 64.5px,#f95505 65.5px,#f83b07 66.5px,#f72c09 67.5px,#f62709 68.5px,#f72a09 69.5px,#f83508 70.5px,#f94c05 71.5px,#f6c500 73.5px,#ecdd03 74.5px,#d2e215 77.5px)"></i><i style="top:40px;height:1px;background:linear-gradient(90deg,#d3e214 0.5px,#eedc02 3.5px,#f7be00 4.5px,#f94406 6.5px,#f73008 7.5px,#f52609 9.5px,#f72b09 10.5px,#f83b07 11.5px,#fa5904 12.5px,#f9a300 13.5px,#f0d701 14.5px,#d4e114 15.5px,#a4dc3e 16.5px,#69d7a1 17.5px,#28a2d6 18.5px,#3f4eb8 19.5px,#5228a8 20.5px,#5520a5 25.5px,#512ba9 28.5px,#4540b3 29.5px,#306bc3 30.5px,#228dd0 31.5px,#21a6d8 32.5px,#2fbfe0 34.5px,#42cce1 38.5px,#3bc8e1 41.5px,#2ab6dd 44.5px,#21a6d8 45.5px,#228dd0 46.5px,#306bc3 47.5px,#4540b3 48.5px,#512ba9 49.5px,#551fa4 53.5px,#5228a8 57.5px,#3f4eb8 58.5px,#28a2d6 59.5px,#69d7a1 60.5px,#a4dc3e 61.5px,#d4e114 62.5px,#f0d701 63.5px,#f9a300 64.5px,#fa5904 65.5px,#f83b07 66.5px,#f72b09 67.5px,#f62809 69.5px,#f73008 70.5px,#f94406 71.5px,#f7be00 73.5px,#eedc02 74.5px,#d3e214 77.5px)"></i><i style="top:41px;height:1px;background:linear-gradient(90deg,#d5e212 0.5px,#efd901 3.5px,#f7b700 4.5px,#fa7202 5.5px,#f83d07 6.5px,#f72c09 7.5px,#f52509 9.5px,#f72b09 10.5px,#f83a07 11.5px,#fa5f04 12.5px,#f8ac00 13.5px,#eeda02 14.5px,#cce11a 15.5px,#98da4b 16.5px,#55d2c1 17.5px,#2885cd 18.5px,#493ab0 19.5px,#5324a7 20.5px,#5520a5 25.5px,#4f2eab 28.5px,#3f4eb8 29.5px,#287ac9 30.5px,#209bd4 31.5px,#27b3dc 32.5px,#40cbe1 35.5px,#4ed4e1 38.5px,#46cfe1 41.5px,#2fbfe0 44.5px,#27b3dc 45.5px,#209bd4 46.5px,#287ac9 47.5px,#3f4eb8 48.5px,#4f2eab 49.5px,#551fa4 53.5px,#5324a7 57.5px,#493ab0 58.5px,#2885cd 59.5px,#55d2c1 60.5px,#98da4b 61.5px,#cce11a 62.5px,#eeda02 63.5px,#f8ac00 64.5px,#fa5f04 65.5px,#f83a07 66.5px,#f72b09 67.5px,#f52609 69.5px,#f72c09 70.5px,#f83d07 71.5px,#fa7202 72.5px,#f7b700 73.5px,#efd901 74.5px,#d5e212 77.5px)"></i><i style="top:42px;height:1px;background:linear-gradient(90deg,#d6e211 0.5px,#e6e006 2.5px,#f1d601 3.5px,#f8af00 4.5px,#fa6703 5.5px,#f83708 6.5px,#f72909 7.5px,#f52509 9.5px,#f72a09 10.5px,#f83907 11.5px,#fa6603 12.5px,#f8b300 13.5px,#eadd04 14.5px,#c4e021 15.5px,#88d75d 16.5px,#43c7d4 17.5px,#316bc3 18.5px,#4f2daa 19.5px,#5422a6 20.5px,#5423a6 26.5px,#5227a8 27.5px,#4c33ad 28.5px,#2388ce 30.5px,#22aad9 31.5px,#2ebddf 32.5px,#52d6e1 36.5px,#5adbe1 39.5px,#4ad2e1 42.5px,#2ebddf 45.5px,#22aad9 46.5px,#2388ce 47.5px,#4c33ad 49.5px,#5227a8 50.5px,#551fa4 54.5px,#5422a6 57.5px,#4f2daa 58.5px,#316bc3 59.5px,#43c7d4 60.5px,#88d75d 61.5px,#c4e021 62.5px,#eadd04 63.5px,#f8b300 64.5px,#fa6603 65.5px,#f83907 66.5px,#f72a09 67.5px,#f52509 69.5px,#f72909 70.5px,#f83708 71.5px,#fa6703 72.5px,#f8af00 73.5px,#f1d601 74.5px,#e6e006 75.5px,#d6e211 77.5px)"></i><i style="top:43px;height:1px;background:linear-gradient(90deg,#d7e210 0.5px,#e7e006 2.5px,#f3d400 3.5px,#f9a600 4.5px,#fa5c04 5.5px,#f73208 6.5px,#f42409 8.5px,#f72a09 10.5px,#f83a07 11.5px,#fa6d03 12.5px,#f7ba00 13.5px,#e7df06 14.5px,#badf29 15.5px,#79d678 16.5px,#37b6d9 17.5px,#3c53ba 18.5px,#5326a7 19.5px,#551ea4 23.5px,#5227a8 27.5px,#483cb1 28.5px,#2f6cc4 29.5px,#2097d3 30.5px,#2ab6dd 31.5px,#4bd2e1 34.5px,#62e0e0 37.5px,#5edde1 41.5px,#33c3e1 45.5px,#2ab6dd 46.5px,#2097d3 47.5px,#2f6cc4 48.5px,#483cb1 49.5px,#5227a8 50.5px,#551ea4 54.5px,#5326a7 58.5px,#3c53ba 59.5px,#37b6d9 60.5px,#79d678 61.5px,#badf29 62.5px,#e7df06 63.5px,#f7ba00 64.5px,#fa6d03 65.5px,#f83a07 66.5px,#f72a09 67.5px,#f42409 69.5px,#f73208 71.5px,#fa5c04 72.5px,#f9a600 73.5px,#f3d400 74.5px,#e7e006 75.5px,#d7e210 77.5px)"></i><i style="top:44px;height:1px;background:linear-gradient(90deg,#d8e210 0.5px,#e8df05 2.5px,#f4d000 3.5px,#f99d00 4.5px,#f95405 5.5px,#f72e09 6.5px,#f42309 8.5px,#f72a09 10.5px,#f83b07 11.5px,#fa7302 12.5px,#f6c000 13.5px,#e3e008 14.5px,#b1de32 15.5px,#6fd894 16.5px,#299dd4 17.5px,#4641b2 18.5px,#5422a6 19.5px,#5520a5 25.5px,#5228a8 27.5px,#4247b5 28.5px,#297ac9 29.5px,#22a6d8 30.5px,#2fbfdf 31.5px,#60dfe1 35.5px,#61ded7 39.5px,#60dfe1 42.5px,#2fbfdf 46.5px,#22a6d8 47.5px,#297ac9 48.5px,#4247b5 49.5px,#5228a8 50.5px,#551ea4 54.5px,#5422a6 58.5px,#4641b2 59.5px,#299dd4 60.5px,#6fd894 61.5px,#b1de32 62.5px,#e3e008 63.5px,#f6c000 64.5px,#fa7302 65.5px,#f83b07 66.5px,#f72a09 67.5px,#f42309 69.5px,#f72e09 71.5px,#f95405 72.5px,#f99d00 73.5px,#f4d000 74.5px,#e8df05 75.5px,#d8e210 77.5px)"></i><i style="top:45px;height:1px;background:linear-gradient(90deg,#d9e20f 0.5px,#e9df04 2.5px,#f4cd00 3.5px,#f99401 4.5px,#f94b06 5.5px,#f72b09 6.5px,#f42209 8.5px,#f62909 10.5px,#f83b07 11.5px,#fa7802 12.5px,#f5c500 13.5px,#dee00c 14.5px,#a8dd3a 15.5px,#60d5af 16.5px,#2986cd 17.5px,#4c34ad 18.5px,#5520a5 19.5px,#5422a6 26.5px,#502ba9 27.5px,#3d52ba 28.5px,#2487ce 29.5px,#28b3dc 30.5px,#44cee1 32.5px,#60dee1 34.5px,#5fdcce 38.5px,#61ded5 41.5px,#60dee1 43.5px,#35c4e1 46.5px,#28b3dc 47.5px,#2487ce 48.5px,#3d52ba 49.5px,#502ba9 50.5px,#5520a5 52.5px,#5520a5 58.5px,#4c34ad 59.5px,#2986cd 60.5px,#60d5af 61.5px,#a8dd3a 62.5px,#dee00c 63.5px,#f5c500 64.5px,#fa7802 65.5px,#f83b07 66.5px,#f62909 67.5px,#f42209 69.5px,#f72b09 71.5px,#f94b06 72.5px,#f99401 73.5px,#f4cd00 74.5px,#e9df04 75.5px,#d9e20f 77.5px)"></i><i style="top:46px;height:1px;background:linear-gradient(90deg,#dae20e 0.5px,#eadf04 2.5px,#f5c900 3.5px,#fa8c01 4.5px,#f94506 5.5px,#f72909 6.5px,#f3210a 8.5px,#f62909 10.5px,#f83d07 11.5px,#fa7e02 12.5px,#f4ca00 13.5px,#dae10f 14.5px,#9fdb43 15.5px,#51cfc3 16.5px,#2f71c5 17.5px,#502ba9 18.5px,#5520a5 19.5px,#5422a6 26.5px,#4e2fab 27.5px,#365fbe 28.5px,#2196d3 29.5px,#2ebcdf 30.5px,#5cdce1 33.5px,#62dfdc 34.5px,#5ddaca 37.5px,#5edbcd 41.5px,#62dfdc 43.5px,#5cdce1 44.5px,#2ebcdf 47.5px,#2196d3 48.5px,#365fbe 49.5px,#4e2fab 50.5px,#5422a6 51.5px,#5520a5 58.5px,#502ba9 59.5px,#2f71c5 60.5px,#51cfc3 61.5px,#9fdb43 62.5px,#dae10f 63.5px,#f4ca00 64.5px,#fa7e02 65.5px,#f83d07 66.5px,#f62909 67.5px,#f3210a 69.5px,#f72909 71.5px,#f94506 72.5px,#fa8c01 73.5px,#f5c900 74.5px,#eadf04 75.5px,#dae20e 77.5px)"></i><i style="top:47px;height:1px;background:linear-gradient(90deg,#dae20e 0.5px,#ebde03 2.5px,#f6c500 3.5px,#f83f07 5.5px,#f62809 6.5px,#f3200a 8.5px,#f62809 10.5px,#f83e07 11.5px,#f4cf00 13.5px,#d5e113 14.5px,#94d950 15.5px,#44c7d0 16.5px,#365ebe 17.5px,#5325a7 18.5px,#551ea4 21.5px,#5421a6 26.5px,#4c34ad 27.5px,#306bc3 28.5px,#23a5d7 29.5px,#32c2e0 30.5px,#62e0df 33.5px,#5ddac8 36.5px,#5edbcc 42.5px,#62e0df 44.5px,#32c2e0 47.5px,#23a5d7 48.5px,#306bc3 49.5px,#4c34ad 50.5px,#5421a6 51.5px,#551fa4 58.5px,#5325a7 59.5px,#365ebe 60.5px,#44c7d0 61.5px,#94d950 62.5px,#d5e113 63.5px,#f4cf00 64.5px,#f83e07 66.5px,#f62809 67.5px,#f3200a 69.5px,#f62809 71.5px,#f83f07 72.5px,#f6c500 74.5px,#ebde03 75.5px,#dae20e 77.5px)"></i><i style="top:48px;height:1px;background:linear-gradient(90deg,#dbe20d 0.5px,#ecdd03 2.5px,#f6c100 3.5px,#f83b07 5.5px,#f62709 6.5px,#f3200a 8.5px,#f62809 10.5px,#f84007 11.5px,#fa8801 12.5px,#f2d201 13.5px,#d0e117 14.5px,#89d85d 15.5px,#3bbbd6 16.5px,#3e4fb8 17.5px,#5422a6 18.5px,#551fa4 25.5px,#5422a6 26.5px,#483bb0 27.5px,#2b77c8 28.5px,#27b1db 29.5px,#37c6e1 30.5px,#5ddde1 32.5px,#5edbce 34.5px,#5cd9c4 39.5px,#5edbce 43.5px,#5ddde1 45.5px,#37c6e1 47.5px,#27b1db 48.5px,#2b77c8 49.5px,#483bb0 50.5px,#5422a6 51.5px,#551fa4 58.5px,#5422a6 59.5px,#3e4fb8 60.5px,#3bbbd6 61.5px,#89d85d 62.5px,#d0e117 63.5px,#f2d201 64.5px,#fa8801 65.5px,#f84007 66.5px,#f62809 67.5px,#f3200a 69.5px,#f62709 71.5px,#f83b07 72.5px,#f6c100 74.5px,#ecdd03 75.5px,#dbe20d 77.5px)"></i><i style="top:49px;height:1px;background:linear-gradient(90deg,#dce20d 0.5px,#eddd02 2.5px,#f7be00 3.5px,#f83708 5.5px,#f62709 6.5px,#f31f0a 8.5px,#f62809 10.5px,#f84107 11.5px,#f98d01 12.5px,#f1d401 13.5px,#cbe11b 14.5px,#81d76d 15.5px,#37b0d8 16.5px,#4543b3 17.5px,#5521a5 18.5px,#551fa4 25.5px,#5423a6 26.5px,#4542b3 27.5px,#2683cc 28.5px,#2cbade 29.5px,#62dfdf 32.5px,#5ddac9 34.5px,#5bd8c3 40.5px,#5ddac9 43.5px,#62dfdf 45.5px,#2cbade 48.5px,#2683cc 49.5px,#4542b3 50.5px,#5423a6 51.5px,#551fa4 58.5px,#5521a5 59.5px,#4543b3 60.5px,#37b0d8 61.5px,#81d76d 62.5px,#cbe11b 63.5px,#f1d401 64.5px,#f98d01 65.5px,#f84107 66.5px,#f62809 67.5px,#f31f0a 69.5px,#f62709 71.5px,#f83708 72.5px,#f7be00 74.5px,#eddd02 75.5px,#dce20d 77.5px)"></i><i style="top:50px;height:1px;background:linear-gradient(90deg,#dce20d 0.5px,#eddc02 2.5px,#f7ba00 3.5px,#fa7202 4.5px,#f83408 5.5px,#f52609 6.5px,#f21f0a 8.5px,#f62809 10.5px,#f94306 11.5px,#f99001 12.5px,#f0d501 13.5px,#c6e01f 14.5px,#79d77d 15.5px,#2fa2d5 16.5px,#493ab0 17.5px,#551fa4 18.5px,#551fa4 25.5px,#5324a7 26.5px,#414ab6 27.5px,#248fd0 28.5px,#30bfe0 29.5px,#58dae1 31.5px,#62dfda 32.5px,#5ddac7 34.5px,#5bd8c1 40.5px,#5edbcd 44.5px,#62dfda 45.5px,#58dae1 46.5px,#30bfe0 48.5px,#248fd0 49.5px,#414ab6 50.5px,#5324a7 51.5px,#551da3 56.5px,#551fa4 59.5px,#493ab0 60.5px,#2fa2d5 61.5px,#79d77d 62.5px,#c6e01f 63.5px,#f0d501 64.5px,#f99001 65.5px,#f94306 66.5px,#f62809 67.5px,#f21f0a 69.5px,#f52609 71.5px,#f83408 72.5px,#fa7202 73.5px,#f7ba00 74.5px,#eddc02 75.5px,#dce20d 77.5px)"></i><i style="top:51px;height:1px;background:linear-gradient(90deg,#dce20c 0.5px,#eedb02 2.5px,#f7b700 3.5px,#fa6d03 4.5px,#f73108 5.5px,#f3210a 7.5px,#f42309 9.5px,#f62809 10.5px,#f94406 11.5px,#f99401 12.5px,#efd702 13.5px,#c2e023 14.5px,#74d88a 15.5px,#2b94d1 16.5px,#4c33ad 17.5px,#551fa4 18.5px,#551fa4 25.5px,#5326a7 26.5px,#3d51b9 27.5px,#249bd4 28.5px,#33c2e0 29.5px,#5edde0 31.5px,#5ddac9 33.5px,#5ad7bd 39.5px,#5ddac9 44.5px,#5edde0 46.5px,#33c2e0 48.5px,#249bd4 49.5px,#3d51b9 50.5px,#5326a7 51.5px,#551da3 54.5px,#551fa4 59.5px,#4c33ad 60.5px,#2b94d1 61.5px,#74d88a 62.5px,#c2e023 63.5px,#efd702 64.5px,#f99401 65.5px,#f94406 66.5px,#f62809 67.5px,#f21e0a 69.5px,#f52509 71.5px,#f73108 72.5px,#fa6d03 73.5px,#f7b700 74.5px,#eedb02 75.5px,#dce20c 77.5px)"></i><i style="top:52px;height:1px;background:linear-gradient(90deg,#dde20c 0.5px,#efdb01 2.5px,#f8b400 3.5px,#fa6903 4.5px,#f72f08 5.5px,#f3200a 7.5px,#f42309 9.5px,#f62709 10.5px,#f94506 11.5px,#f99701 12.5px,#eed802 13.5px,#bedf27 14.5px,#71d996 15.5px,#2b89cd 16.5px,#4f2eab 17.5px,#551fa4 18.5px,#551fa4 25.5px,#5227a8 26.5px,#3a58bc 27.5px,#25a4d7 28.5px,#37c5e1 29.5px,#61dfdf 31.5px,#5ddac8 33.5px,#5bd7ba 39.5px,#5ddac8 44.5px,#61dfdf 46.5px,#37c5e1 48.5px,#25a4d7 49.5px,#3a58bc 50.5px,#5227a8 51.5px,#551ea4 53.5px,#551fa4 59.5px,#4f2eab 60.5px,#2b89cd 61.5px,#71d996 62.5px,#bedf27 63.5px,#eed802 64.5px,#f99701 65.5px,#f94506 66.5px,#f62709 67.5px,#f21e0a 69.5px,#f52509 71.5px,#f72f08 72.5px,#fa6903 73.5px,#f8b400 74.5px,#efdb01 75.5px,#dde20c 77.5px)"></i><i style="top:53px;height:1px;background:linear-gradient(90deg,#dde10c 0.5px,#efda01 2.5px,#f8b200 3.5px,#fa6503 4.5px,#f72e09 5.5px,#f3200a 7.5px,#f42309 9.5px,#f62709 10.5px,#f94606 11.5px,#f99901 12.5px,#edd903 13.5px,#badf2a 14.5px,#6cd8a0 15.5px,#2c80ca 16.5px,#502ba9 17.5px,#551fa4 18.5px,#551fa4 25.5px,#5129a9 26.5px,#365fbe 27.5px,#27abd9 28.5px,#3ac8e1 29.5px,#52d6e1 30.5px,#62dfdc 31.5px,#5edbcd 32.5px,#5bd6b7 38.5px,#5cd9c7 44.5px,#5edbcd 45.5px,#62dfdc 46.5px,#52d6e1 47.5px,#3ac8e1 48.5px,#27abd9 49.5px,#365fbe 50.5px,#5129a9 51.5px,#551fa4 52.5px,#551fa4 59.5px,#502ba9 60.5px,#2c80ca 61.5px,#6cd8a0 62.5px,#badf2a 63.5px,#edd903 64.5px,#f99901 65.5px,#f94606 66.5px,#f62709 67.5px,#f21e0a 69.5px,#f52409 71.5px,#f72e09 72.5px,#fa6503 73.5px,#f8b200 74.5px,#efda01 75.5px,#dde10c 77.5px)"></i><i style="top:54px;height:1px;background:linear-gradient(90deg,#dde10c 0.5px,#efd901 2.5px,#f8b000 3.5px,#fa6304 4.5px,#f72d09 5.5px,#f21e0a 8.5px,#f62709 10.5px,#f94706 11.5px,#f99b01 12.5px,#edda03 13.5px,#b8df2c 14.5px,#64d5a7 15.5px,#2d79c8 16.5px,#5128a8 17.5px,#551ea4 18.5px,#551fa4 25.5px,#502ba9 26.5px,#3364c1 27.5px,#28b1db 28.5px,#3dcae1 29.5px,#56d9e1 30.5px,#62dfda 31.5px,#5edbcb 32.5px,#5cd6b4 38.5px,#5cd9c6 44.5px,#5edbcb 45.5px,#62dfda 46.5px,#56d9e1 47.5px,#3dcae1 48.5px,#28b1db 49.5px,#3364c1 50.5px,#502ba9 51.5px,#551fa4 52.5px,#551ea4 59.5px,#5128a8 60.5px,#2d79c8 61.5px,#64d5a7 62.5px,#b8df2c 63.5px,#edda03 64.5px,#f99b01 65.5px,#f94706 66.5px,#f62709 67.5px,#f21e0a 69.5px,#f72d09 72.5px,#fa6304 73.5px,#f8b000 74.5px,#efd901 75.5px,#dde10c 77.5px)"></i><i style="top:55px;height:1px;background:linear-gradient(90deg,#dde10c 0.5px,#efd901 2.5px,#f8af00 3.5px,#fa6104 4.5px,#f72c09 5.5px,#f21e0a 8.5px,#f62709 10.5px,#f94806 11.5px,#f99c01 12.5px,#ecda03 13.5px,#b5de2e 14.5px,#5ed3ac 15.5px,#2f73c6 16.5px,#5227a8 17.5px,#551ea3 19.5px,#551fa4 25.5px,#502caa 26.5px,#3169c3 27.5px,#29b5dc 28.5px,#59dbe1 30.5px,#61ded7 31.5px,#5ddac9 32.5px,#5dd6b1 38.5px,#5cd9c5 44.5px,#5ddac9 45.5px,#61ded7 46.5px,#59dbe1 47.5px,#29b5dc 49.5px,#3169c3 50.5px,#502caa 51.5px,#551fa4 52.5px,#551ea4 59.5px,#5227a8 60.5px,#2f73c6 61.5px,#5ed3ac 62.5px,#b5de2e 63.5px,#ecda03 64.5px,#f99c01 65.5px,#f94806 66.5px,#f62709 67.5px,#f21e0a 69.5px,#f72c09 72.5px,#fa6104 73.5px,#f8af00 74.5px,#efd901 75.5px,#dde10c 77.5px)"></i><i style="top:56px;height:1px;background:linear-gradient(90deg,#dde10c 0.5px,#f0d901 2.5px,#f8ae00 3.5px,#fa5f04 4.5px,#f72c09 5.5px,#f21d0a 8.5px,#f62709 10.5px,#f94806 11.5px,#f99d01 12.5px,#ecda03 13.5px,#b4de30 14.5px,#5ad2b0 15.5px,#306fc4 16.5px,#5326a7 17.5px,#551ea3 19.5px,#551ea4 25.5px,#4f2daa 26.5px,#306dc4 27.5px,#2ab7dd 28.5px,#5cdce1 30.5px,#61ded5 31.5px,#5ddac8 32.5px,#5dd5ae 38.5px,#5bd8c0 43.5px,#5ddac8 45.5px,#61ded5 46.5px,#5cdce1 47.5px,#2ab7dd 49.5px,#306dc4 50.5px,#4f2daa 51.5px,#551ea4 52.5px,#551ea4 59.5px,#5326a7 60.5px,#306fc4 61.5px,#5ad2b0 62.5px,#b4de30 63.5px,#ecda03 64.5px,#f99d01 65.5px,#f94806 66.5px,#f62709 67.5px,#f21f0a 70.5px,#f72c09 72.5px,#fa5f04 73.5px,#f8ae00 74.5px,#f0d901 75.5px,#dde10c 77.5px)"></i><i style="top:57px;height:1px;background:linear-gradient(90deg,#dde10c 0.5px,#f0d801 2.5px,#f8ad00 3.5px,#fa5e04 4.5px,#f72b09 5.5px,#f21d0a 8.5px,#f62709 10.5px,#f94806 11.5px,#f99d01 12.5px,#ecda04 13.5px,#b3de31 14.5px,#58d1b2 15.5px,#316cc3 16.5px,#5325a7 17.5px,#551da3 19.5px,#551ea4 25.5px,#4f2eab 26.5px,#2f6fc5 27.5px,#2bb9de 28.5px,#5ddce1 30.5px,#5ddac8 32.5px,#5ed5ab 38.5px,#5bd7ba 42.5px,#5ddac8 45.5px,#5ddce1 47.5px,#2bb9de 49.5px,#2f6fc5 50.5px,#4f2eab 51.5px,#551ea4 52.5px,#551ea4 59.5px,#5325a7 60.5px,#316cc3 61.5px,#58d1b2 62.5px,#b3de31 63.5px,#ecda04 64.5px,#f99d01 65.5px,#f94806 66.5px,#f62709 67.5px,#f21e0a 70.5px,#f72b09 72.5px,#fa5e04 73.5px,#f8ad00 74.5px,#f0d801 75.5px,#dde10c 77.5px)"></i><i style="top:58px;height:1px;background:linear-gradient(90deg,#dde10c 0.5px,#f0d801 2.5px,#f8ad00 3.5px,#fa5e04 4.5px,#f62b09 5.5px,#f21d0a 8.5px,#f62709 10.5px,#f94906 11.5px,#f99e00 12.5px,#ebdb04 13.5px,#b2de31 14.5px,#57d0b3 15.5px,#326bc3 16.5px,#5325a7 17.5px,#551da3 20.5px,#551ea4 25.5px,#4f2eab 26.5px,#2e70c5 27.5px,#2cbade 28.5px,#5ddde0 30.5px,#5ddac8 32.5px,#5ed5a9 38.5px,#5cd6b4 41.5px,#5ddac8 45.5px,#5ddde0 47.5px,#2cbade 49.5px,#2e70c5 50.5px,#4f2eab 51.5px,#551ea4 52.5px,#551ea4 59.5px,#5325a7 60.5px,#326bc3 61.5px,#57d0b3 62.5px,#b2de31 63.5px,#ebdb04 64.5px,#f99e00 65.5px,#f94906 66.5px,#f62709 67.5px,#f21e0a 70.5px,#f62b09 72.5px,#fa5e04 73.5px,#f8ad00 74.5px,#f0d801 75.5px,#dde10c 77.5px)"></i><i style="top:59px;height:1px;background:linear-gradient(90deg,#dde10c 0.5px,#f0d801 2.5px,#f8ad00 3.5px,#fa5e04 4.5px,#f62b09 5.5px,#f21d0a 8.5px,#f62709 10.5px,#f94906 11.5px,#f99e00 12.5px,#ebdb04 13.5px,#b2de31 14.5px,#57d0b3 15.5px,#326bc3 16.5px,#5325a7 17.5px,#551da3 20.5px,#551ea4 25.5px,#4f2eab 26.5px,#2e70c5 27.5px,#2cbade 28.5px,#5ddde0 30.5px,#5ddac8 32.5px,#5ed5a9 38.5px,#5cd6b4 41.5px,#5ddac8 45.5px,#5ddde0 47.5px,#2cbade 49.5px,#2e70c5 50.5px,#4f2eab 51.5px,#551ea4 52.5px,#551ea4 59.5px,#5325a7 60.5px,#326bc3 61.5px,#57d0b3 62.5px,#b2de31 63.5px,#ebdb04 64.5px,#f99e00 65.5px,#f94906 66.5px,#f62709 67.5px,#f21e0a 70.5px,#f62b09 72.5px,#fa5e04 73.5px,#f8ad00 74.5px,#f0d801 75.5px,#dde10c 77.5px)"></i><i style="top:60px;height:1px;background:linear-gradient(90deg,#dde10c 0.5px,#f0d801 2.5px,#f8ad00 3.5px,#fa5e04 4.5px,#f72b09 5.5px,#f21d0a 8.5px,#f62709 10.5px,#f94806 11.5px,#f99d01 12.5px,#ecda04 13.5px,#b3de31 14.5px,#58d1b2 15.5px,#316cc3 16.5px,#5325a7 17.5px,#551da3 19.5px,#551ea4 25.5px,#4f2eab 26.5px,#2f6fc5 27.5px,#2bb9de 28.5px,#5ddce1 30.5px,#5ddac8 32.5px,#5ed5ab 38.5px,#5bd7ba 42.5px,#5ddac8 45.5px,#5ddce1 47.5px,#2bb9de 49.5px,#2f6fc5 50.5px,#4f2eab 51.5px,#551ea4 52.5px,#551ea4 59.5px,#5325a7 60.5px,#316cc3 61.5px,#58d1b2 62.5px,#b3de31 63.5px,#ecda04 64.5px,#f99d01 65.5px,#f94806 66.5px,#f62709 67.5px,#f21e0a 70.5px,#f72b09 72.5px,#fa5e04 73.5px,#f8ad00 74.5px,#f0d801 75.5px,#dde10c 77.5px)"></i><i style="top:61px;height:1px;background:linear-gradient(90deg,#dde10c 0.5px,#f0d901 2.5px,#f8ae00 3.5px,#fa5f04 4.5px,#f72c09 5.5px,#f21d0a 8.5px,#f62709 10.5px,#f94806 11.5px,#f99d01 12.5px,#ecda03 13.5px,#b4de30 14.5px,#5ad2b0 15.5px,#306fc4 16.5px,#5326a7 17.5px,#551ea3 19.5px,#551ea4 25.5px,#4f2daa 26.5px,#306dc4 27.5px,#2ab7dd 28.5px,#5cdce1 30.5px,#61ded5 31.5px,#5ddac8 32.5px,#5dd5ae 38.5px,#5bd8c0 43.5px,#5ddac8 45.5px,#61ded5 46.5px,#5cdce1 47.5px,#2ab7dd 49.5px,#306dc4 50.5px,#4f2daa 51.5px,#551ea4 52.5px,#551ea4 59.5px,#5326a7 60.5px,#306fc4 61.5px,#5ad2b0 62.5px,#b4de30 63.5px,#ecda03 64.5px,#f99d01 65.5px,#f94806 66.5px,#f62709 67.5px,#f21f0a 70.5px,#f72c09 72.5px,#fa5f04 73.5px,#f8ae00 74.5px,#f0d901 75.5px,#dde10c 77.5px)"></i><i style="top:62px;height:1px;background:linear-gradient(90deg,#dde10c 0.5px,#efd901 2.5px,#f8af00 3.5px,#fa6104 4.5px,#f72c09 5.5px,#f21e0a 8.5px,#f62709 10.5px,#f94806 11.5px,#f99c01 12.5px,#ecda03 13.5px,#b5de2e 14.5px,#5ed3ac 15.5px,#2f73c6 16.5px,#5227a8 17.5px,#551ea3 19.5px,#551fa4 25.5px,#502caa 26.5px,#3169c3 27.5px,#29b5dc 28.5px,#59dbe1 30.5px,#61ded7 31.5px,#5ddac9 32.5px,#5dd6b1 38.5px,#5cd9c5 44.5px,#5ddac9 45.5px,#61ded7 46.5px,#59dbe1 47.5px,#29b5dc 49.5px,#3169c3 50.5px,#502caa 51.5px,#551fa4 52.5px,#551ea4 59.5px,#5227a8 60.5px,#2f73c6 61.5px,#5ed3ac 62.5px,#b5de2e 63.5px,#ecda03 64.5px,#f99c01 65.5px,#f94806 66.5px,#f62709 67.5px,#f21e0a 69.5px,#f72c09 72.5px,#fa6104 73.5px,#f8af00 74.5px,#efd901 75.5px,#dde10c 77.5px)"></i><i style="top:63px;height:1px;background:linear-gradient(90deg,#dde10c 0.5px,#efd901 2.5px,#f8b000 3.5px,#fa6304 4.5px,#f72d09 5.5px,#f21e0a 8.5px,#f62709 10.5px,#f94706 11.5px,#f99b01 12.5px,#edda03 13.5px,#b8df2c 14.5px,#64d5a7 15.5px,#2d79c8 16.5px,#5128a8 17.5px,#551ea4 18.5px,#551fa4 25.5px,#502ba9 26.5px,#3364c1 27.5px,#28b1db 28.5px,#3dcae1 29.5px,#56d9e1 30.5px,#62dfda 31.5px,#5edbcb 32.5px,#5cd6b4 38.5px,#5cd9c6 44.5px,#5edbcb 45.5px,#62dfda 46.5px,#56d9e1 47.5px,#3dcae1 48.5px,#28b1db 49.5px,#3364c1 50.5px,#502ba9 51.5px,#551fa4 52.5px,#551ea4 59.5px,#5128a8 60.5px,#2d79c8 61.5px,#64d5a7 62.5px,#b8df2c 63.5px,#edda03 64.5px,#f99b01 65.5px,#f94706 66.5px,#f62709 67.5px,#f21e0a 69.5px,#f72d09 72.5px,#fa6304 73.5px,#f8b000 74.5px,#efd901 75.5px,#dde10c 77.5px)"></i><i style="top:64px;height:1px;background:linear-gradient(90deg,#dde10c 0.5px,#efda01 2.5px,#f8b200 3.5px,#fa6503 4.5px,#f72e09 5.5px,#f3200a 7.5px,#f42309 9.5px,#f62709 10.5px,#f94606 11.5px,#f99901 12.5px,#edd903 13.5px,#badf2a 14.5px,#6cd8a0 15.5px,#2c80ca 16.5px,#502ba9 17.5px,#551fa4 18.5px,#551fa4 25.5px,#5129a9 26.5px,#365fbe 27.5px,#27abd9 28.5px,#3ac8e1 29.5px,#52d6e1 30.5px,#62dfdc 31.5px,#5edbcd 32.5px,#5bd6b7 38.5px,#5cd9c7 44.5px,#5edbcd 45.5px,#62dfdc 46.5px,#52d6e1 47.5px,#3ac8e1 48.5px,#27abd9 49.5px,#365fbe 50.5px,#5129a9 51.5px,#551fa4 52.5px,#551fa4 59.5px,#502ba9 60.5px,#2c80ca 61.5px,#6cd8a0 62.5px,#badf2a 63.5px,#edd903 64.5px,#f99901 65.5px,#f94606 66.5px,#f62709 67.5px,#f21e0a 69.5px,#f52409 71.5px,#f72e09 72.5px,#fa6503 73.5px,#f8b200 74.5px,#efda01 75.5px,#dde10c 77.5px)"></i><i style="top:65px;height:1px;background:linear-gradient(90deg,#dde20c 0.5px,#efdb01 2.5px,#f8b400 3.5px,#fa6903 4.5px,#f72f08 5.5px,#f3200a 7.5px,#f42309 9.5px,#f62709 10.5px,#f94506 11.5px,#f99701 12.5px,#eed802 13.5px,#bedf27 14.5px,#71d996 15.5px,#2b89cd 16.5px,#4f2eab 17.5px,#551fa4 18.5px,#551fa4 25.5px,#5227a8 26.5px,#3a58bc 27.5px,#25a4d7 28.5px,#37c5e1 29.5px,#61dfdf 31.5px,#5ddac8 33.5px,#5bd7ba 39.5px,#5ddac8 44.5px,#61dfdf 46.5px,#37c5e1 48.5px,#25a4d7 49.5px,#3a58bc 50.5px,#5227a8 51.5px,#551ea4 53.5px,#551fa4 59.5px,#4f2eab 60.5px,#2b89cd 61.5px,#71d996 62.5px,#bedf27 63.5px,#eed802 64.5px,#f99701 65.5px,#f94506 66.5px,#f62709 67.5px,#f21e0a 69.5px,#f52509 71.5px,#f72f08 72.5px,#fa6903 73.5px,#f8b400 74.5px,#efdb01 75.5px,#dde20c 77.5px)"></i><i style="top:66px;height:1px;background:linear-gradient(90deg,#dce20c 0.5px,#eedb02 2.5px,#f7b700 3.5px,#fa6d03 4.5px,#f73108 5.5px,#f3210a 7.5px,#f42309 9.5px,#f62809 10.5px,#f94406 11.5px,#f99401 12.5px,#efd702 13.5px,#c2e023 14.5px,#74d88a 15.5px,#2b94d1 16.5px,#4c33ad 17.5px,#551fa4 18.5px,#551fa4 25.5px,#5326a7 26.5px,#3d51b9 27.5px,#249bd4 28.5px,#33c2e0 29.5px,#5edde0 31.5px,#5ddac9 33.5px,#5ad7bd 39.5px,#5ddac9 44.5px,#5edde0 46.5px,#33c2e0 48.5px,#249bd4 49.5px,#3d51b9 50.5px,#5326a7 51.5px,#551da3 54.5px,#551fa4 59.5px,#4c33ad 60.5px,#2b94d1 61.5px,#74d88a 62.5px,#c2e023 63.5px,#efd702 64.5px,#f99401 65.5px,#f94406 66.5px,#f62809 67.5px,#f21e0a 69.5px,#f52509 71.5px,#f73108 72.5px,#fa6d03 73.5px,#f7b700 74.5px,#eedb02 75.5px,#dce20c 77.5px)"></i><i style="top:67px;height:1px;background:linear-gradient(90deg,#dce20d 0.5px,#eddc02 2.5px,#f7ba00 3.5px,#fa7202 4.5px,#f83408 5.5px,#f52609 6.5px,#f21f0a 8.5px,#f62809 10.5px,#f94306 11.5px,#f99001 12.5px,#f0d501 13.5px,#c6e01f 14.5px,#79d77d 15.5px,#2fa2d5 16.5px,#493ab0 17.5px,#551fa4 18.5px,#551fa4 25.5px,#5324a7 26.5px,#414ab6 27.5px,#248fd0 28.5px,#30bfe0 29.5px,#58dae1 31.5px,#62dfda 32.5px,#5ddac7 34.5px,#5bd8c1 40.5px,#5edbcd 44.5px,#62dfda 45.5px,#58dae1 46.5px,#30bfe0 48.5px,#248fd0 49.5px,#414ab6 50.5px,#5324a7 51.5px,#551da3 56.5px,#551fa4 59.5px,#493ab0 60.5px,#2fa2d5 61.5px,#79d77d 62.5px,#c6e01f 63.5px,#f0d501 64.5px,#f99001 65.5px,#f94306 66.5px,#f62809 67.5px,#f21f0a 69.5px,#f52609 71.5px,#f83408 72.5px,#fa7202 73.5px,#f7ba00 74.5px,#eddc02 75.5px,#dce20d 77.5px)"></i><i style="top:68px;height:1px;background:linear-gradient(90deg,#dce20d 0.5px,#eddd02 2.5px,#f7be00 3.5px,#f83708 5.5px,#f62709 6.5px,#f31f0a 8.5px,#f62809 10.5px,#f84107 11.5px,#f98d01 12.5px,#f1d401 13.5px,#cbe11b 14.5px,#81d76d 15.5px,#37b0d8 16.5px,#4543b3 17.5px,#5521a5 18.5px,#551fa4 25.5px,#5423a6 26.5px,#4542b3 27.5px,#2683cc 28.5px,#2cbade 29.5px,#62dfdf 32.5px,#5ddac9 34.5px,#5bd8c3 40.5px,#5ddac9 43.5px,#62dfdf 45.5px,#2cbade 48.5px,#2683cc 49.5px,#4542b3 50.5px,#5423a6 51.5px,#551fa4 58.5px,#5521a5 59.5px,#4543b3 60.5px,#37b0d8 61.5px,#81d76d 62.5px,#cbe11b 63.5px,#f1d401 64.5px,#f98d01 65.5px,#f84107 66.5px,#f62809 67.5px,#f31f0a 69.5px,#f62709 71.5px,#f83708 72.5px,#f7be00 74.5px,#eddd02 75.5px,#dce20d 77.5px)"></i><i style="top:69px;height:1px;background:linear-gradient(90deg,#dbe20d 0.5px,#ecdd03 2.5px,#f6c100 3.5px,#f83b07 5.5px,#f62709 6.5px,#f3200a 8.5px,#f62809 10.5px,#f84007 11.5px,#fa8801 12.5px,#f2d201 13.5px,#d0e117 14.5px,#89d85d 15.5px,#3bbbd6 16.5px,#3e4fb8 17.5px,#5422a6 18.5px,#551fa4 25.5px,#5422a6 26.5px,#483bb0 27.5px,#2b77c8 28.5px,#27b1db 29.5px,#37c6e1 30.5px,#5ddde1 32.5px,#5edbce 34.5px,#5cd9c4 39.5px,#5edbce 43.5px,#5ddde1 45.5px,#37c6e1 47.5px,#27b1db 48.5px,#2b77c8 49.5px,#483bb0 50.5px,#5422a6 51.5px,#551fa4 58.5px,#5422a6 59.5px,#3e4fb8 60.5px,#3bbbd6 61.5px,#89d85d 62.5px,#d0e117 63.5px,#f2d201 64.5px,#fa8801 65.5px,#f84007 66.5px,#f62809 67.5px,#f3200a 69.5px,#f62709 71.5px,#f83b07 72.5px,#f6c100 74.5px,#ecdd03 75.5px,#dbe20d 77.5px)"></i><i style="top:70px;height:1px;background:linear-gradient(90deg,#dae20e 0.5px,#ebde03 2.5px,#f6c500 3.5px,#f83f07 5.5px,#f62809 6.5px,#f3200a 8.5px,#f62809 10.5px,#f83e07 11.5px,#f4cf00 13.5px,#d5e113 14.5px,#94d950 15.5px,#44c7d0 16.5px,#365ebe 17.5px,#5325a7 18.5px,#551ea4 21.5px,#5421a6 26.5px,#4c34ad 27.5px,#306bc3 28.5px,#23a5d7 29.5px,#32c2e0 30.5px,#62e0df 33.5px,#5ddac8 36.5px,#5edbcc 42.5px,#62e0df 44.5px,#32c2e0 47.5px,#23a5d7 48.5px,#306bc3 49.5px,#4c34ad 50.5px,#5421a6 51.5px,#551fa4 58.5px,#5325a7 59.5px,#365ebe 60.5px,#44c7d0 61.5px,#94d950 62.5px,#d5e113 63.5px,#f4cf00 64.5px,#f83e07 66.5px,#f62809 67.5px,#f3200a 69.5px,#f62809 71.5px,#f83f07 72.5px,#f6c500 74.5px,#ebde03 75.5px,#dae20e 77.5px)"></i><i style="top:71px;height:1px;background:linear-gradient(90deg,#dae20e 0.5px,#eadf04 2.5px,#f5c900 3.5px,#fa8c01 4.5px,#f94506 5.5px,#f72909 6.5px,#f3210a 8.5px,#f62909 10.5px,#f83d07 11.5px,#fa7e02 12.5px,#f4ca00 13.5px,#dae10f 14.5px,#9fdb43 15.5px,#51cfc3 16.5px,#2f71c5 17.5px,#502ba9 18.5px,#5520a5 19.5px,#5422a6 26.5px,#4e2fab 27.5px,#365fbe 28.5px,#2196d3 29.5px,#2ebcdf 30.5px,#5cdce1 33.5px,#62dfdc 34.5px,#5ddaca 37.5px,#5edbcd 41.5px,#62dfdc 43.5px,#5cdce1 44.5px,#2ebcdf 47.5px,#2196d3 48.5px,#365fbe 49.5px,#4e2fab 50.5px,#5422a6 51.5px,#5520a5 58.5px,#502ba9 59.5px,#2f71c5 60.5px,#51cfc3 61.5px,#9fdb43 62.5px,#dae10f 63.5px,#f4ca00 64.5px,#fa7e02 65.5px,#f83d07 66.5px,#f62909 67.5px,#f3210a 69.5px,#f72909 71.5px,#f94506 72.5px,#fa8c01 73.5px,#f5c900 74.5px,#eadf04 75.5px,#dae20e 77.5px)"></i><i style="top:72px;height:1px;background:linear-gradient(90deg,#d9e20f 0.5px,#e9df04 2.5px,#f4cd00 3.5px,#f99401 4.5px,#f94b06 5.5px,#f72b09 6.5px,#f42209 8.5px,#f62909 10.5px,#f83b07 11.5px,#fa7802 12.5px,#f5c500 13.5px,#dee00c 14.5px,#a8dd3a 15.5px,#60d5af 16.5px,#2986cd 17.5px,#4c34ad 18.5px,#5520a5 19.5px,#5422a6 26.5px,#502ba9 27.5px,#3d52ba 28.5px,#2487ce 29.5px,#28b3dc 30.5px,#44cee1 32.5px,#60dee1 34.5px,#5fdcce 38.5px,#61ded5 41.5px,#60dee1 43.5px,#35c4e1 46.5px,#28b3dc 47.5px,#2487ce 48.5px,#3d52ba 49.5px,#502ba9 50.5px,#5520a5 52.5px,#5520a5 58.5px,#4c34ad 59.5px,#2986cd 60.5px,#60d5af 61.5px,#a8dd3a 62.5px,#dee00c 63.5px,#f5c500 64.5px,#fa7802 65.5px,#f83b07 66.5px,#f62909 67.5px,#f42209 69.5px,#f72b09 71.5px,#f94b06 72.5px,#f99401 73.5px,#f4cd00 74.5px,#e9df04 75.5px,#d9e20f 77.5px)"></i><i style="top:73px;height:1px;background:linear-gradient(90deg,#d8e210 0.5px,#e8df05 2.5px,#f4d000 3.5px,#f99d00 4.5px,#f95405 5.5px,#f72e09 6.5px,#f42309 8.5px,#f72a09 10.5px,#f83b07 11.5px,#fa7302 12.5px,#f6c000 13.5px,#e3e008 14.5px,#b1de32 15.5px,#6fd894 16.5px,#299dd4 17.5px,#4641b2 18.5px,#5422a6 19.5px,#5520a5 25.5px,#5228a8 27.5px,#4247b5 28.5px,#297ac9 29.5px,#22a6d8 30.5px,#2fbfdf 31.5px,#60dfe1 35.5px,#61ded7 39.5px,#60dfe1 42.5px,#2fbfdf 46.5px,#22a6d8 47.5px,#297ac9 48.5px,#4247b5 49.5px,#5228a8 50.5px,#551ea4 54.5px,#5422a6 58.5px,#4641b2 59.5px,#299dd4 60.5px,#6fd894 61.5px,#b1de32 62.5px,#e3e008 63.5px,#f6c000 64.5px,#fa7302 65.5px,#f83b07 66.5px,#f72a09 67.5px,#f42309 69.5px,#f72e09 71.5px,#f95405 72.5px,#f99d00 73.5px,#f4d000 74.5px,#e8df05 75.5px,#d8e210 77.5px)"></i><i style="top:74px;height:1px;background:linear-gradient(90deg,#d7e210 0.5px,#e7e006 2.5px,#f3d400 3.5px,#f9a600 4.5px,#fa5c04 5.5px,#f73208 6.5px,#f42409 8.5px,#f72a09 10.5px,#f83a07 11.5px,#fa6d03 12.5px,#f7ba00 13.5px,#e7df06 14.5px,#badf29 15.5px,#79d678 16.5px,#37b6d9 17.5px,#3c53ba 18.5px,#5326a7 19.5px,#551ea4 23.5px,#5227a8 27.5px,#483cb1 28.5px,#2f6cc4 29.5px,#2097d3 30.5px,#2ab6dd 31.5px,#4bd2e1 34.5px,#62e0e0 37.5px,#5edde1 41.5px,#33c3e1 45.5px,#2ab6dd 46.5px,#2097d3 47.5px,#2f6cc4 48.5px,#483cb1 49.5px,#5227a8 50.5px,#551ea4 54.5px,#5326a7 58.5px,#3c53ba 59.5px,#37b6d9 60.5px,#79d678 61.5px,#badf29 62.5px,#e7df06 63.5px,#f7ba00 64.5px,#fa6d03 65.5px,#f83a07 66.5px,#f72a09 67.5px,#f42409 69.5px,#f73208 71.5px,#fa5c04 72.5px,#f9a600 73.5px,#f3d400 74.5px,#e7e006 75.5px,#d7e210 77.5px)"></i><i style="top:75px;height:1px;background:linear-gradient(90deg,#d6e211 0.5px,#e6e006 2.5px,#f1d601 3.5px,#f8af00 4.5px,#fa6703 5.5px,#f83708 6.5px,#f72909 7.5px,#f52509 9.5px,#f72a09 10.5px,#f83907 11.5px,#fa6603 12.5px,#f8b300 13.5px,#eadd04 14.5px,#c4e021 15.5px,#88d75d 16.5px,#43c7d4 17.5px,#316bc3 18.5px,#4f2daa 19.5px,#5422a6 20.5px,#5423a6 26.5px,#5227a8 27.5px,#4c33ad 28.5px,#2388ce 30.5px,#22aad9 31.5px,#2ebddf 32.5px,#52d6e1 36.5px,#5adbe1 39.5px,#4ad2e1 42.5px,#2ebddf 45.5px,#22aad9 46.5px,#2388ce 47.5px,#4c33ad 49.5px,#5227a8 50.5px,#551fa4 54.5px,#5422a6 57.5px,#4f2daa 58.5px,#316bc3 59.5px,#43c7d4 60.5px,#88d75d 61.5px,#c4e021 62.5px,#eadd04 63.5px,#f8b300 64.5px,#fa6603 65.5px,#f83907 66.5px,#f72a09 67.5px,#f52509 69.5px,#f72909 70.5px,#f83708 71.5px,#fa6703 72.5px,#f8af00 73.5px,#f1d601 74.5px,#e6e006 75.5px,#d6e211 77.5px)"></i><i style="top:76px;height:1px;background:linear-gradient(90deg,#d5e212 0.5px,#efd901 3.5px,#f7b700 4.5px,#fa7202 5.5px,#f83d07 6.5px,#f72c09 7.5px,#f52509 9.5px,#f72b09 10.5px,#f83a07 11.5px,#fa5f04 12.5px,#f8ac00 13.5px,#eeda02 14.5px,#cce11a 15.5px,#98da4b 16.5px,#55d2c1 17.5px,#2885cd 18.5px,#493ab0 19.5px,#5324a7 20.5px,#5520a5 25.5px,#4f2eab 28.5px,#3f4eb8 29.5px,#287ac9 30.5px,#209bd4 31.5px,#27b3dc 32.5px,#40cbe1 35.5px,#4ed4e1 38.5px,#46cfe1 41.5px,#2fbfe0 44.5px,#27b3dc 45.5px,#209bd4 46.5px,#287ac9 47.5px,#3f4eb8 48.5px,#4f2eab 49.5px,#551fa4 53.5px,#5324a7 57.5px,#493ab0 58.5px,#2885cd 59.5px,#55d2c1 60.5px,#98da4b 61.5px,#cce11a 62.5px,#eeda02 63.5px,#f8ac00 64.5px,#fa5f04 65.5px,#f83a07 66.5px,#f72b09 67.5px,#f52609 69.5px,#f72c09 70.5px,#f83d07 71.5px,#fa7202 72.5px,#f7b700 73.5px,#efd901 74.5px,#d5e212 77.5px)"></i><i style="top:77px;height:1px;background:linear-gradient(90deg,#d3e214 0.5px,#eedc02 3.5px,#f7be00 4.5px,#f94406 6.5px,#f73008 7.5px,#f52609 9.5px,#f72b09 10.5px,#f83b07 11.5px,#fa5904 12.5px,#f9a300 13.5px,#f0d701 14.5px,#d4e114 15.5px,#a4dc3e 16.5px,#69d7a1 17.5px,#28a2d6 18.5px,#3f4eb8 19.5px,#5228a8 20.5px,#5520a5 25.5px,#512ba9 28.5px,#4540b3 29.5px,#306bc3 30.5px,#228dd0 31.5px,#21a6d8 32.5px,#2fbfe0 34.5px,#42cce1 38.5px,#3bc8e1 41.5px,#2ab6dd 44.5px,#21a6d8 45.5px,#228dd0 46.5px,#306bc3 47.5px,#4540b3 48.5px,#512ba9 49.5px,#551fa4 53.5px,#5228a8 57.5px,#3f4eb8 58.5px,#28a2d6 59.5px,#69d7a1 60.5px,#a4dc3e 61.5px,#d4e114 62.5px,#f0d701 63.5px,#f9a300 64.5px,#fa5904 65.5px,#f83b07 66.5px,#f72b09 67.5px,#f62809 69.5px,#f73008 70.5px,#f94406 71.5px,#f7be00 73.5px,#eedc02 74.5px,#d3e214 77.5px)"></i><i style="top:78px;height:1px;background:linear-gradient(90deg,#d2e215 0.5px,#ecdd03 3.5px,#f6c500 4.5px,#f94c05 6.5px,#f83508 7.5px,#f72a09 8.5px,#f62709 9.5px,#f72c09 10.5px,#f83b07 11.5px,#f95505 12.5px,#f99900 13.5px,#f3d200 14.5px,#dbe10e 15.5px,#b0de33 16.5px,#77d67a 17.5px,#3abfda 18.5px,#3168c2 19.5px,#4d31ac 20.5px,#5326a7 21.5px,#5422a6 26.5px,#512ba9 28.5px,#4b36ae 29.5px,#267fcb 31.5px,#2099d3 32.5px,#2ab6dd 34.5px,#36c5e1 38.5px,#2ebddf 42.5px,#22abd9 44.5px,#2099d3 45.5px,#267fcb 46.5px,#4b36ae 48.5px,#5326a7 50.5px,#5520a5 53.5px,#5326a7 56.5px,#4d31ac 57.5px,#3168c2 58.5px,#3abfda 59.5px,#77d67a 60.5px,#b0de33 61.5px,#dbe10e 62.5px,#f3d200 63.5px,#f99900 64.5px,#f95505 65.5px,#f83b07 66.5px,#f72c09 67.5px,#f62709 68.5px,#f72a09 69.5px,#f83508 70.5px,#f94c05 71.5px,#f6c500 73.5px,#ecdd03 74.5px,#d2e215 77.5px)"></i><i style="top:79px;height:1px;background:linear-gradient(90deg,#d1e116 0.5px,#eadf04 3.5px,#f5cc00 4.5px,#f99a00 5.5px,#f95704 6.5px,#f83b07 7.5px,#f72d09 8.5px,#f62809 9.5px,#f72c09 10.5px,#f95005 12.5px,#f4cd00 14.5px,#e2e009 15.5px,#bbe029 16.5px,#89d85b 17.5px,#4fd0ce 18.5px,#2786cd 19.5px,#4542b3 20.5px,#5229a8 21.5px,#5422a6 26.5px,#4e31ac 29.5px,#4248b6 30.5px,#228bd0 32.5px,#22abd9 34.5px,#2dbcdf 37.5px,#2bb9de 41.5px,#22abd9 43.5px,#228bd0 45.5px,#4248b6 47.5px,#4e31ac 48.5px,#5520a5 52.5px,#5229a8 56.5px,#4542b3 57.5px,#2786cd 58.5px,#4fd0ce 59.5px,#89d85b 60.5px,#bbe029 61.5px,#e2e009 62.5px,#f4cd00 63.5px,#f95005 65.5px,#f72c09 67.5px,#f62809 68.5px,#f72d09 69.5px,#f83b07 70.5px,#f95704 71.5px,#f99a00 72.5px,#f5cc00 73.5px,#eadf04 74.5px,#d1e116 77.5px)"></i><i style="top:80px;height:1px;background:linear-gradient(90deg,#cfe117 0.5px,#e8df05 3.5px,#f3d100 4.5px,#f9a700 5.5px,#fa6403 6.5px,#f84007 7.5px,#f72909 9.5px,#f72d09 10.5px,#f94e05 12.5px,#fa8601 13.5px,#f6c500 14.5px,#e7df06 15.5px,#c5e11f 16.5px,#9ada48 17.5px,#63d7ac 18.5px,#28a6d7 19.5px,#385cbd 20.5px,#4e30ab 21.5px,#5423a6 24.5px,#5325a7 27.5px,#4f2fab 29.5px,#483bb1 30.5px,#287aca 32.5px,#2192d1 33.5px,#21a9d8 35.5px,#28b4dc 39.5px,#21a9d8 42.5px,#2192d1 44.5px,#287aca 45.5px,#483bb1 47.5px,#5129a9 49.5px,#5521a5 52.5px,#5228a8 55.5px,#4e30ab 56.5px,#385cbd 57.5px,#28a6d7 58.5px,#63d7ac 59.5px,#9ada48 60.5px,#c5e11f 61.5px,#e7df06 62.5px,#f6c500 63.5px,#fa8601 64.5px,#f94e05 65.5px,#f72d09 67.5px,#f72909 68.5px,#f84007 70.5px,#fa6403 71.5px,#f9a700 72.5px,#f3d100 73.5px,#e8df05 74.5px,#cfe117 77.5px)"></i><i style="top:81px;height:1px;background:linear-gradient(90deg,#cee118 0.5px,#e7e006 3.5px,#f2d600 4.5px,#f8b300 5.5px,#fa7402 6.5px,#f94706 7.5px,#f72c09 9.5px,#f72d09 10.5px,#f94e05 12.5px,#fa7b02 13.5px,#f7bd00 14.5px,#ebdd03 15.5px,#cfe117 16.5px,#a7dd3c 17.5px,#74d67f 18.5px,#3fc4db 19.5px,#2a7ac9 20.5px,#4541b2 21.5px,#512ba9 22.5px,#5324a7 27.5px,#4b36ae 30.5px,#4248b5 31.5px,#2581cc 33.5px,#2193d2 34.5px,#20a8d8 37.5px,#1fa4d7 41.5px,#2193d2 43.5px,#2581cc 44.5px,#4248b5 46.5px,#4b36ae 47.5px,#5422a6 51.5px,#512ba9 55.5px,#4541b2 56.5px,#2a7ac9 57.5px,#3fc4db 58.5px,#74d67f 59.5px,#a7dd3c 60.5px,#cfe117 61.5px,#ebdd03 62.5px,#f7bd00 63.5px,#fa7b02 64.5px,#f94e05 65.5px,#f72d09 67.5px,#f72c09 68.5px,#f94706 70.5px,#fa7402 71.5px,#f8b300 72.5px,#f2d600 73.5px,#e7e006 74.5px,#cee118 77.5px)"></i><i style="top:82px;height:1px;background:linear-gradient(90deg,#cde119 0.5px,#e6e007 3.5px,#efda01 4.5px,#f7be00 5.5px,#f94f05 7.5px,#f83208 9.5px,#f72e09 10.5px,#f94e05 12.5px,#fa7102 13.5px,#f8b300 14.5px,#efd901 15.5px,#d8e110 16.5px,#b3df30 17.5px,#89d75b 18.5px,#57d5c8 19.5px,#249bd4 20.5px,#385bbd 21.5px,#4c33ad 22.5px,#5228a8 24.5px,#5227a8 28.5px,#473cb1 31.5px,#2580cc 34.5px,#2098d3 36.5px,#1f9cd5 40.5px,#2190d1 42.5px,#306bc3 44.5px,#473cb1 46.5px,#5227a8 49.5px,#5228a8 53.5px,#4c33ad 55.5px,#385bbd 56.5px,#249bd4 57.5px,#57d5c8 58.5px,#89d75b 59.5px,#b3df30 60.5px,#d8e110 61.5px,#efd901 62.5px,#f8b300 63.5px,#fa7102 64.5px,#f94e05 65.5px,#f72e09 67.5px,#f83208 68.5px,#f94f05 70.5px,#f7be00 72.5px,#efda01 73.5px,#d7e211 76.5px,#cde119 77.5px)"></i><i style="top:83px;height:1px;background:linear-gradient(90deg,#cce11a 0.5px,#eddd02 4.5px,#f6c600 5.5px,#f99500 6.5px,#fa5a04 7.5px,#f94506 8.5px,#f73108 10.5px,#f94e05 12.5px,#fa6903 13.5px,#f9a900 14.5px,#f2d400 15.5px,#dfe10b 16.5px,#9ada48 18.5px,#69d69a 19.5px,#36bddc 20.5px,#297bc9 21.5px,#4247b5 22.5px,#4f2fab 23.5px,#5326a7 28.5px,#4a37af 31.5px,#4541b3 32.5px,#2879c9 35.5px,#218dd0 37.5px,#218dd0 40.5px,#2879c9 42.5px,#4541b3 45.5px,#512aa9 48.5px,#5227a8 51.5px,#4f2fab 54.5px,#4247b5 55.5px,#297bc9 56.5px,#36bddc 57.5px,#69d69a 58.5px,#9ada48 59.5px,#dfe10b 61.5px,#f2d400 62.5px,#f9a900 63.5px,#fa6903 64.5px,#f94e05 65.5px,#f73108 67.5px,#f94506 69.5px,#fa5a04 70.5px,#f99500 71.5px,#f6c600 72.5px,#eddd02 73.5px,#cce11a 77.5px)"></i><i style="top:84px;height:1px;background:linear-gradient(90deg,#cbe11b 0.5px,#ebdf03 4.5px,#f4ce00 5.5px,#f9a500 6.5px,#fa6803 7.5px,#f94b06 8.5px,#f83608 10.5px,#f94f05 12.5px,#fa6403 13.5px,#f99d00 14.5px,#f4ce00 15.5px,#e6e007 16.5px,#cae11c 17.5px,#a7dd3b 18.5px,#7ed66a 19.5px,#53d4d0 20.5px,#239cd5 21.5px,#3364c1 22.5px,#483cb1 23.5px,#4f2eab 24.5px,#5228a8 29.5px,#4344b4 33.5px,#306cc4 36.5px,#2a76c8 39.5px,#3561bf 42.5px,#493ab0 45.5px,#5228a8 48.5px,#4f2eab 53.5px,#483cb1 54.5px,#3364c1 55.5px,#239cd5 56.5px,#53d4d0 57.5px,#7ed66a 58.5px,#a7dd3b 59.5px,#cae11c 60.5px,#e6e007 61.5px,#f4ce00 62.5px,#f99d00 63.5px,#fa6403 64.5px,#f83f07 66.5px,#f83608 67.5px,#f94b06 69.5px,#fa6803 70.5px,#f9a500 71.5px,#f4ce00 72.5px,#ebdf03 73.5px,#cbe11b 77.5px)"></i><i style="top:85px;height:1px;background:linear-gradient(90deg,#c9e11c 0.5px,#e8df05 4.5px,#f3d400 5.5px,#f8b400 6.5px,#fa7b02 7.5px,#f95205 8.5px,#f83c07 10.5px,#f83f07 11.5px,#fa6103 13.5px,#f6c600 15.5px,#ebde03 16.5px,#d4e114 17.5px,#93d94f 19.5px,#65d6a4 20.5px,#38bfdd 21.5px,#2585cd 22.5px,#3b56bb 23.5px,#4a38af 24.5px,#512aa9 27.5px,#5129a9 30.5px,#404cb7 35.5px,#385dbd 38.5px,#3c54ba 41.5px,#502daa 46.5px,#5228a8 49.5px,#4e30ab 52.5px,#4a38af 53.5px,#3b56bb 54.5px,#2585cd 55.5px,#38bfdd 56.5px,#65d6a4 57.5px,#93d94f 58.5px,#d4e114 60.5px,#ebde03 61.5px,#f6c600 62.5px,#fa6103 64.5px,#f83f07 66.5px,#f83c07 67.5px,#f95205 69.5px,#fa7b02 70.5px,#f8b400 71.5px,#f3d400 72.5px,#e8df05 73.5px,#c9e11c 77.5px)"></i><i style="top:86px;height:1px;background:linear-gradient(90deg,#c8e11d 0.5px,#e6e006 4.5px,#f0d901 5.5px,#f7c000 6.5px,#fa5c04 8.5px,#f94306 10.5px,#f84007 11.5px,#fa6103 13.5px,#fa8501 14.5px,#f7bd00 15.5px,#efda01 16.5px,#dce10d 17.5px,#a1dc41 19.5px,#7bd66e 20.5px,#56d6cf 21.5px,#25a7d8 22.5px,#2b76c8 23.5px,#3e4fb8 24.5px,#4a37af 25.5px,#5228a8 30.5px,#4248b6 38.5px,#463eb2 42.5px,#5228a8 47.5px,#4a37af 52.5px,#3e4fb8 53.5px,#2b76c8 54.5px,#25a7d8 55.5px,#56d6cf 56.5px,#7bd66e 57.5px,#a1dc41 58.5px,#dce10d 60.5px,#efda01 61.5px,#f7bd00 62.5px,#fa8501 63.5px,#fa6103 64.5px,#f84007 66.5px,#f94d05 68.5px,#fa5c04 69.5px,#f7c000 71.5px,#f0d901 72.5px,#d9e20f 75.5px,#c8e11d 77.5px)"></i><i style="top:87px;height:1px;background:linear-gradient(90deg,#c7e11e 0.5px,#eddd02 5.5px,#f5c900 6.5px,#f9a000 7.5px,#fa6b03 8.5px,#fa5405 9.5px,#f94406 11.5px,#fa6103 13.5px,#fa7d01 14.5px,#f8b200 15.5px,#f2d500 16.5px,#e3e008 17.5px,#aede35 19.5px,#92d951 20.5px,#66d59c 21.5px,#44cbdd 22.5px,#2298d3 23.5px,#2f6ec4 24.5px,#404cb7 25.5px,#4939b0 26.5px,#512aa9 31.5px,#483ab0 39.5px,#512aa9 46.5px,#4939b0 51.5px,#404cb7 52.5px,#2f6ec4 53.5px,#2298d3 54.5px,#44cbdd 55.5px,#66d59c 56.5px,#92d951 57.5px,#cbe11b 59.5px,#e3e008 60.5px,#f2d500 61.5px,#f8b200 62.5px,#fa7d01 63.5px,#fa6103 64.5px,#f94406 66.5px,#fa5405 68.5px,#fa6b03 69.5px,#f9a000 70.5px,#f5c900 71.5px,#eddd02 72.5px,#c7e11e 77.5px)"></i><i style="top:88px;height:1px;background:linear-gradient(90deg,#c5e11f 0.5px,#eadf04 5.5px,#f3d100 6.5px,#f8b100 7.5px,#fa7e01 8.5px,#fa5c04 9.5px,#f94906 11.5px,#f94f05 12.5px,#fa7902 14.5px,#f4ce00 16.5px,#e9df04 17.5px,#d5e113 18.5px,#9fdb43 20.5px,#80d666 21.5px,#5dd8c0 22.5px,#32bbdd 23.5px,#228fd0 24.5px,#3f4db8 26.5px,#473cb1 27.5px,#512ba9 33.5px,#4f2fab 41.5px,#502eaa 46.5px,#473cb1 50.5px,#3f4db8 51.5px,#228fd0 53.5px,#32bbdd 54.5px,#5dd8c0 55.5px,#80d666 56.5px,#9fdb43 57.5px,#d5e113 59.5px,#e9df04 60.5px,#f4ce00 61.5px,#fa7902 63.5px,#f94f05 65.5px,#f94906 66.5px,#fa5c04 68.5px,#fa7e01 69.5px,#f8b100 70.5px,#f3d100 71.5px,#eadf04 72.5px,#c5e11f 77.5px)"></i><i style="top:89px;height:1px;background:linear-gradient(90deg,#c4e121 0.5px,#e8e005 5.5px,#f2d700 6.5px,#f7bf00 7.5px,#fa6803 9.5px,#f95105 11.5px,#f95005 12.5px,#fa7802 14.5px,#f99800 15.5px,#f6c600 16.5px,#eedc02 17.5px,#dde10c 18.5px,#95d94d 21.5px,#6fd484 22.5px,#57d7d3 23.5px,#29b1db 24.5px,#238bcf 25.5px,#3d53ba 27.5px,#4541b3 28.5px,#502caa 35.5px,#4d32ac 45.5px,#4541b3 49.5px,#306cc4 51.5px,#238bcf 52.5px,#29b1db 53.5px,#57d7d3 54.5px,#6fd484 55.5px,#95d94d 56.5px,#dde10c 59.5px,#eedc02 60.5px,#f6c600 61.5px,#f99800 62.5px,#fa7802 63.5px,#f95005 65.5px,#fa5904 67.5px,#fa6803 68.5px,#f7bf00 70.5px,#f2d700 71.5px,#e1e109 73.5px,#c4e121 77.5px)"></i><i style="top:90px;height:1px;background:linear-gradient(90deg,#c2e122 0.5px,#efdc01 6.5px,#f5c900 7.5px,#f9a500 8.5px,#fa7802 9.5px,#fa6303 10.5px,#fa5305 12.5px,#fa6104 13.5px,#fa9000 15.5px,#f7bb00 16.5px,#f2d700 17.5px,#e4e007 18.5px,#b9e02b 20.5px,#8bd858 22.5px,#64d59d 23.5px,#50d3db 24.5px,#26adda 25.5px,#228cd0 26.5px,#395bbd 28.5px,#4540b3 30.5px,#4e30ac 38.5px,#473cb1 46.5px,#4149b6 48.5px,#2d71c6 50.5px,#228cd0 51.5px,#26adda 52.5px,#50d3db 53.5px,#64d59d 54.5px,#8bd858 55.5px,#d1e116 58.5px,#e4e007 59.5px,#f2d700 60.5px,#f7bb00 61.5px,#fa9000 62.5px,#fa6104 64.5px,#fa5305 65.5px,#fa6303 67.5px,#fa7802 68.5px,#f9a500 69.5px,#f5c900 70.5px,#efdc01 71.5px,#c2e122 77.5px)"></i><i style="top:91px;height:1px;background:linear-gradient(90deg,#c1e023 0.5px,#ebdf03 6.5px,#f3d100 7.5px,#f8b700 8.5px,#fa8b01 9.5px,#fa6f02 10.5px,#fa5904 12.5px,#fa6004 13.5px,#fa8d00 15.5px,#f4d000 17.5px,#eadf04 18.5px,#c4e120 20.5px,#9ada48 22.5px,#81d665 23.5px,#61d7ad 24.5px,#4cd1dd 25.5px,#25aeda 26.5px,#2191d1 27.5px,#3366c1 29.5px,#404ab6 31.5px,#483bb0 35.5px,#473db1 43.5px,#404ab6 46.5px,#2979c9 49.5px,#2191d1 50.5px,#25aeda 51.5px,#4cd1dd 52.5px,#61d7ad 53.5px,#81d665 54.5px,#9ada48 55.5px,#dae10f 58.5px,#eadf04 59.5px,#f4d000 60.5px,#fa8d00 62.5px,#fa6004 64.5px,#fa5904 65.5px,#fa6f02 67.5px,#fa8b01 68.5px,#f8b700 69.5px,#f3d100 70.5px,#ebdf03 71.5px,#c1e023 77.5px)"></i><i style="top:92px;height:1px;background:linear-gradient(90deg,#bfe025 0.5px,#e8df05 6.5px,#f1d800 7.5px,#f6c400 8.5px,#fa7c02 10.5px,#fa6403 12.5px,#fa6203 13.5px,#f9a400 16.5px,#f5c800 17.5px,#efdb01 18.5px,#cfe117 20.5px,#95da4d 23.5px,#7ad56f 24.5px,#5fd7b4 25.5px,#4dd2dd 26.5px,#28b2db 27.5px,#209ad4 28.5px,#3366c1 31.5px,#404cb7 34.5px,#4344b4 40.5px,#3d51b9 44.5px,#2b73c7 47.5px,#209ad4 49.5px,#28b2db 50.5px,#4dd2dd 51.5px,#5fd7b4 52.5px,#7ad56f 53.5px,#95da4d 54.5px,#e1e109 58.5px,#efdb01 59.5px,#f5c800 60.5px,#f9a400 61.5px,#fa6203 64.5px,#fa6403 65.5px,#fa7c02 67.5px,#f6c400 69.5px,#f1d800 70.5px,#e2e109 72.5px,#bfe025 77.5px)"></i><i style="top:93px;height:1px;background:linear-gradient(90deg,#bde026 0.5px,#eedd02 7.5px,#f4cd00 8.5px,#f8b200 9.5px,#fa8c01 10.5px,#fa7a02 11.5px,#fa6803 13.5px,#fa7502 14.5px,#f99f00 16.5px,#f2d600 18.5px,#d9e20f 20.5px,#92d950 24.5px,#77d573 25.5px,#5fd7b2 26.5px,#54d6db 27.5px,#30bcde 28.5px,#21a5d7 29.5px,#2977c8 32.5px,#385cbd 36.5px,#385cbd 41.5px,#2977c8 45.5px,#21a5d7 48.5px,#30bcde 49.5px,#54d6db 50.5px,#5fd7b2 51.5px,#77d573 52.5px,#92d950 53.5px,#d9e20f 57.5px,#f2d600 59.5px,#f99f00 61.5px,#fa7502 63.5px,#fa6803 64.5px,#fa7a02 66.5px,#fa8c01 67.5px,#f8b200 68.5px,#f4cd00 69.5px,#eedd02 70.5px,#bde026 77.5px)"></i><i style="top:94px;height:1px;background:linear-gradient(90deg,#bbe028 0.5px,#eadf04 7.5px,#f2d500 8.5px,#f7c200 9.5px,#fa8501 11.5px,#fa7302 13.5px,#fa7502 14.5px,#f8b400 17.5px,#f4cf00 18.5px,#edde02 19.5px,#bfe025 22.5px,#91d951 25.5px,#78d571 26.5px,#60d6a9 27.5px,#5bdad4 28.5px,#40cae0 29.5px,#28b3dc 30.5px,#2097d3 32.5px,#267ecb 35.5px,#2a76c8 39.5px,#2484cd 43.5px,#21a4d7 46.5px,#28b3dc 47.5px,#40cae0 48.5px,#5bdad4 49.5px,#60d6a9 50.5px,#78d571 51.5px,#91d951 52.5px,#e1e10a 57.5px,#edde02 58.5px,#f4cf00 59.5px,#fa8a01 62.5px,#fa7502 63.5px,#fa7302 64.5px,#fa8501 66.5px,#f7c200 68.5px,#f2d500 69.5px,#eadf04 70.5px,#bbe028 77.5px)"></i><i style="top:95px;height:1px;background:linear-gradient(90deg,#b9e02a 0.5px,#e7e006 7.5px,#f0db01 8.5px,#f5cc00 9.5px,#fa9400 11.5px,#fa7f01 13.5px,#fa7a02 14.5px,#f8ae00 17.5px,#f1d900 19.5px,#dae20e 21.5px,#9ddb46 25.5px,#91d951 26.5px,#7ed568 27.5px,#65d497 28.5px,#5ed9c3 29.5px,#56d8db 30.5px,#2bb7dd 32.5px,#209ed5 35.5px,#2095d2 39.5px,#21a4d7 43.5px,#2bb7dd 45.5px,#56d8db 47.5px,#5ed9c3 48.5px,#65d497 49.5px,#7ed568 50.5px,#91d951 51.5px,#cae11c 55.5px,#e7e006 57.5px,#f1d900 58.5px,#fa8801 62.5px,#fa7a02 63.5px,#fa8601 65.5px,#fa9400 66.5px,#f5cc00 68.5px,#f0db01 69.5px,#c6e11f 75.5px,#b9e02a 77.5px)"></i><i style="top:96px;height:1px;background:linear-gradient(90deg,#b7e02c 0.5px,#ecde03 8.5px,#f6c200 10.5px,#f9a500 11.5px,#fa9100 12.5px,#fa8401 14.5px,#fa8801 15.5px,#f3d200 19.5px,#ecde02 20.5px,#c5e120 23.5px,#86d75e 28.5px,#6fd47f 29.5px,#60d5a6 30.5px,#5edac6 31.5px,#5adad9 32.5px,#3dc7e0 34.5px,#2ab6dd 37.5px,#2db9dd 41.5px,#3dc7e0 43.5px,#5adad9 45.5px,#5edac6 46.5px,#60d5a6 47.5px,#6fd47f 48.5px,#86d75e 49.5px,#c5e120 54.5px,#ecde02 57.5px,#f7be00 59.5px,#fa8801 62.5px,#fa8401 63.5px,#fa9100 65.5px,#f9a500 66.5px,#f6c200 67.5px,#ecde03 69.5px,#b7e02c 77.5px)"></i><i style="top:97px;height:1px;background:linear-gradient(90deg,#b4df2f 0.5px,#e3e009 7.5px,#f0da00 9.5px,#f8b800 11.5px,#f99e00 12.5px,#fa8c00 15.5px,#f1da00 20.5px,#d0e117 23.5px,#9edb44 27.5px,#8ed854 29.5px,#80d666 30.5px,#62d49e 32.5px,#5edac7 34.5px,#5bdbd7 36.5px,#5adada 40.5px,#5edbd2 42.5px,#5ed7b5 44.5px,#6dd481 46.5px,#80d666 47.5px,#8ed854 48.5px,#b5df2d 52.5px,#e7e006 56.5px,#f1da00 57.5px,#fa8c00 62.5px,#f99e00 65.5px,#f5cc00 67.5px,#f0da00 68.5px,#cfe117 73.5px,#b4df2f 77.5px)"></i><i style="top:98px;height:1px;background:linear-gradient(90deg,#b2df31 0.5px,#e0e10a 7.5px,#ecde02 9.5px,#f6c600 11.5px,#f99e00 13.5px,#fa9600 15.5px,#fa9800 16.5px,#f3d300 20.5px,#edde02 21.5px,#c1e023 25.5px,#9ada48 29.5px,#84d660 32.5px,#67d38f 35.5px,#60d4a3 38.5px,#63d499 41.5px,#78d470 44.5px,#8ed854 46.5px,#abdd38 50.5px,#e3e008 55.5px,#edde02 56.5px,#f9a800 60.5px,#fa9800 61.5px,#fa9900 63.5px,#f99e00 64.5px,#f3d400 67.5px,#ecde02 68.5px,#c0e024 75.5px,#b2df31 77.5px)"></i><i style="top:99px;height:1px;background:linear-gradient(90deg,#afde34 0.5px,#e3e008 8.5px,#f0db00 10.5px,#f7c000 12.5px,#f8ab00 13.5px,#f99d00 16.5px,#f8b600 18.5px,#f1d900 21.5px,#cbe11a 25.5px,#9fdb43 30.5px,#82d663 38.5px,#8ad859 42.5px,#a6dc3d 48.5px,#e9df04 55.5px,#f7c400 58.5px,#f9a600 60.5px,#f99d00 61.5px,#f8ab00 64.5px,#f4cf00 66.5px,#e8df05 68.5px,#c4e121 74.5px,#afde34 77.5px)"></i><i style="top:100px;height:1px;background:linear-gradient(90deg,#acde36 0.5px,#e1e10a 8.5px,#ecdf03 10.5px,#f7bb00 13.5px,#f8ac00 14.5px,#f9a700 17.5px,#f5ca00 20.5px,#efdd01 22.5px,#b2df30 29.5px,#9ada48 34.5px,#98da4a 42.5px,#abdd37 47.5px,#e6e006 54.5px,#f3d200 56.5px,#f7c200 58.5px,#f9a700 60.5px,#f8ac00 63.5px,#f2d600 66.5px,#e5e007 68.5px,#bae029 75.5px,#acde36 77.5px)"></i><i style="top:101px;height:1px;background:linear-gradient(90deg,#a9dd39 0.5px,#dee10b 8.5px,#efdc01 11.5px,#f8b100 15.5px,#f8b200 18.5px,#f6c800 20.5px,#ecdf03 23.5px,#b2df31 31.5px,#a1dc41 37.5px,#a9dd39 44.5px,#d5e212 51.5px,#ecdf03 54.5px,#f7c000 58.5px,#f8b200 59.5px,#f8b100 62.5px,#efdc01 66.5px,#c5e120 73.5px,#a9dd39 77.5px)"></i><i style="top:102px;height:1px;background:linear-gradient(90deg,#a6dc3c 0.5px,#e1e10a 9.5px,#f1da00 12.5px,#f7bb00 15.5px,#f8b600 18.5px,#f0db00 23.5px,#c8e11d 29.5px,#afde34 36.5px,#b3df30 43.5px,#cee118 49.5px,#f0db00 54.5px,#f8b600 59.5px,#f7bb00 62.5px,#ebdf03 66.5px,#c8e11d 72.5px,#a6dc3c 77.5px)"></i><i style="top:103px;height:1px;background:linear-gradient(90deg,#a3dc3f 0.5px,#dee10b 9.5px,#edde02 12.5px,#f7c000 16.5px,#f7bf00 19.5px,#efdd01 24.5px,#c4e121 32.5px,#bae029 40.5px,#cce11a 47.5px,#efdd01 53.5px,#f7be00 59.5px,#f6c600 62.5px,#edde02 65.5px,#cce11a 71.5px,#a3dc3f 77.5px)"></i><i style="top:104px;height:1px;background:linear-gradient(90deg,#a0db43 0.5px,#dce20d 9.5px,#efdd01 13.5px,#f7c400 17.5px,#f5ca00 21.5px,#e9df05 26.5px,#c8e11e 34.5px,#c8e11e 43.5px,#e9df05 51.5px,#f5ca00 56.5px,#f7c400 60.5px,#efdd01 64.5px,#c9e11d 71.5px,#a0db43 77.5px)"></i><i style="top:105px;height:1px;background:linear-gradient(90deg,#9cdb46 0.5px,#dee10c 10.5px,#f0dc00 14.5px,#f6c700 18.5px,#f4cd00 22.5px,#e9df04 27.5px,#cfe118 35.5px,#d3e214 44.5px,#f1dc00 52.5px,#f6c800 57.5px,#f4ce00 61.5px,#eadf04 64.5px,#cce11a 70.5px,#9cdb46 77.5px)"></i><i style="top:106px;height:1px;background:linear-gradient(90deg,#9ada48 0.5px,#dbe20d 10.5px,#f0dc00 15.5px,#f5cb00 19.5px,#f2d500 24.5px,#e6e006 29.5px,#d6e212 38.5px,#e2e009 47.5px,#f1da00 52.5px,#f5cb00 57.5px,#f4d000 60.5px,#e6e006 64.5px,#cfe118 69.5px,#9ada48 77.5px)"></i><i style="top:107px;height:1px;background:linear-gradient(90deg,#98da4a 0.5px,#dce20c 11.5px,#f0dc00 16.5px,#f4ce00 20.5px,#e8df05 30.5px,#dde10c 39.5px,#eddf02 49.5px,#f4ce00 57.5px,#eddf02 62.5px,#cbe11b 69.5px,#98da4a 77.5px)"></i><i style="top:108px;height:1px;background:linear-gradient(90deg,#97da4b 0.5px,#b4df2f 5.5px,#dee10c 12.5px,#f2d800 18.5px,#f3d200 22.5px,#e9df04 31.5px,#e5e007 42.5px,#f1d900 51.5px,#f3d100 57.5px,#e8df05 62.5px,#cde119 68.5px,#99da49 76.5px,#97da4b 77.5px)"></i><i style="top:109px;height:1px;background:linear-gradient(90deg,#97da4b 0.5px,#a2dc40 3.5px,#dbe20d 12.5px,#f2d600 20.5px,#f1da00 27.5px,#e8df05 41.5px,#f1d800 51.5px,#f2d600 57.5px,#dbe20d 65.5px,#97da4b 76.5px,#97da4b 77.5px)"></i><i style="top:110px;height:1px;background:linear-gradient(90deg,#97da4b 0.5px,#9edb44 3.5px,#dce20d 13.5px,#f1d900 21.5px,#ecdf03 44.5px,#f1d900 56.5px,#d7e210 65.5px,#98da4a 75.5px,#97da4b 77.5px)"></i><i style="top:111px;height:1px;background:linear-gradient(90deg,#97da4b 0.5px,#9ada48 3.5px,#d8e20f 13.5px,#f1dc00 22.5px,#f0dd00 48.5px,#f0dd00 56.5px,#d3e214 65.5px,#97da4b 75.5px,#97da4b 77.5px)"></i><i style="top:112px;height:1px;background:linear-gradient(90deg,#97da4b 0.5px,#9cdb46 4.5px,#d9e20f 14.5px,#f0dd00 24.5px,#ecdf02 56.5px,#d4e213 64.5px,#98da4a 74.5px,#97da4b 77.5px)"></i><i style="top:113px;height:1px;background:linear-gradient(90deg,#97da4b 0.5px,#9edb44 5.5px,#dae20e 15.5px,#efde00 26.5px,#ebdf03 55.5px,#d5e213 63.5px,#99da49 73.5px,#97da4b 77.5px)"></i><i style="top:114px;height:1px;background:linear-gradient(90deg,#97da4b 0.5px,#9ada48 5.5px,#dae20e 16.5px,#eede01 28.5px,#e9df04 54.5px,#d5e212 62.5px,#97da4b 73.5px,#97da4b 77.5px)"></i><i style="top:115px;height:1px;background:linear-gradient(90deg,#97da4b 0.5px,#9bda47 6.5px,#d5e213 16.5px,#ebdf03 27.5px,#e8e005 53.5px,#d5e213 61.5px,#97da4b 72.5px,#97da4b 77.5px)"></i><i style="top:116px;height:1px;background:linear-gradient(90deg,#97da4b 0.5px,#9cdb46 7.5px,#d4e213 17.5px,#e9df04 28.5px,#e6e006 52.5px,#d4e213 60.5px,#98da4a 71.5px,#97da4b 77.5px)"></i><i style="top:117px;height:1px;background:linear-gradient(90deg,#97da4b 0.5px,#9cdb46 8.5px,#d3e214 18.5px,#e6e006 28.5px,#e5e007 50.5px,#d3e214 59.5px,#98da4a 70.5px,#97da4b 77.5px)"></i></div>
<svg width="550" height="295" viewBox="0 0 550 295">
<rect x="37.20" y="13.00" width="140.30" height="97.00" fill="none" stroke="#555" stroke-width="1"/>
<line x1="37.20" y1="110.00" x2="37.20" y2="106.00" stroke="#555" stroke-width="1" />
<line x1="37.20" y1="13.00" x2="37.20" y2="17.00" stroke="#555" stroke-width="1" />
<line x1="40.71" y1="110.00" x2="40.71" y2="107.80" stroke="#555" stroke-width="1" />
<line x1="40.71" y1="13.00" x2="40.71" y2="15.20" stroke="#555" stroke-width="1" />
<line x1="44.22" y1="110.00" x2="44.22" y2="107.80" stroke="#555" stroke-width="1" />
<line x1="44.22" y1="13.00" x2="44.22" y2="15.20" stroke="#555" stroke-width="1" />
<line x1="47.72" y1="110.00" x2="47.72" y2="107.80" stroke="#555" stroke-width="1" />
<line x1="47.72" y1="13.00" x2="47.72" y2="15.20" stroke="#555" stroke-width="1" />
<line x1="51.23" y1="110.00" x2="51.23" y2="107.80" stroke="#555" stroke-width="1" />
<line x1="51.23" y1="13.00" x2="51.23" y2="15.20" stroke="#555" stroke-width="1" />
<line x1="54.74" y1="110.00" x2="54.74" y2="107.80" stroke="#555" stroke-width="1" />
<line x1="54.74" y1="13.00" x2="54.74" y2="15.20" stroke="#555" stroke-width="1" />
<line x1="58.25" y1="110.00" x2="58.25" y2="107.80" stroke="#555" stroke-width="1" />
<line x1="58.25" y1="13.00" x2="58.25" y2="15.20" stroke="#555" stroke-width="1" />
<line x1="61.75" y1="110.00" x2="61.75" y2="107.80" stroke="#555" stroke-width="1" />
<line x1="61.75" y1="13.00" x2="61.75" y2="15.20" stroke="#555" stroke-width="1" />
<line x1="65.26" y1="110.00" x2="65.26" y2="107.80" stroke="#555" stroke-width="1" />
<line x1="65.26" y1="13.00" x2="65.26" y2="15.20" stroke="#555" stroke-width="1" />
<line x1="68.77" y1="110.00" x2="68.77" y2="107.80" stroke="#555" stroke-width="1" />
<line x1="68.77" y1="13.00" x2="68.77" y2="15.20" stroke="#555" stroke-width="1" />
<line x1="72.28" y1="110.00" x2="72.28" y2="106.00" stroke="#555" stroke-width="1" />
<line x1="72.28" y1="13.00" x2="72.28" y2="17.00" stroke="#555" stroke-width="1" />
<line x1="75.78" y1="110.00" x2="75.78" y2="107.80" stroke="#555" stroke-width="1" />
<line x1="75.78" y1="13.00" x2="75.78" y2="15.20" stroke="#555" stroke-width="1" />
<line x1="79.29" y1="110.00" x2="79.29" y2="107.80" stroke="#555" stroke-width="1" />
<line x1="79.29" y1="13.00" x2="79.29" y2="15.20" stroke="#555" stroke-width="1" />
<line x1="82.80" y1="110.00" x2="82.80" y2="107.80" stroke="#555" stroke-width="1" />
<line x1="82.80" y1="13.00" x2="82.80" y2="15.20" stroke="#555" stroke-width="1" />
<line x1="86.31" y1="110.00" x2="86.31" y2="107.80" stroke="#555" stroke-width="1" />
<line x1="86.31" y1="13.00" x2="86.31" y2="15.20" stroke="#555" stroke-width="1" />
<line x1="89.81" y1="110.00" x2="89.81" y2="107.80" stroke="#555" stroke-width="1" />
<line x1="89.81" y1="13.00" x2="89.81" y2="15.20" stroke="#555" stroke-width="1" />
<line x1="93.32" y1="110.00" x2="93.32" y2="107.80" stroke="#555" stroke-width="1" />
<line x1="93.32" y1="13.00" x2="93.32" y2="15.20" stroke="#555" stroke-width="1" />
<line x1="96.83" y1="110.00" x2="96.83" y2="107.80" stroke="#555" stroke-width="1" />
<line x1="96.83" y1="13.00" x2="96.83" y2="15.20" stroke="#555" stroke-width="1" />
<line x1="100.34" y1="110.00" x2="100.34" y2="107.80" stroke="#555" stroke-width="1" />
<line x1="100.34" y1="13.00" x2="100.34" y2="15.20" stroke="#555" stroke-width="1" />
<line x1="103.84" y1="110.00" x2="103.84" y2="107.80" stroke="#555" stroke-width="1" />
<line x1="103.84" y1="13.00" x2="103.84" y2="15.20" stroke="#555" stroke-width="1" />
<line x1="107.35" y1="110.00" x2="107.35" y2="106.00" stroke="#555" stroke-width="1" />
<line x1="107.35" y1="13.00" x2="107.35" y2="17.00" stroke="#555" stroke-width="1" />
<line x1="110.86" y1="110.00" x2="110.86" y2="107.80" stroke="#555" stroke-width="1" />
<line x1="110.86" y1="13.00" x2="110.86" y2="15.20" stroke="#555" stroke-width="1" />
<line x1="114.37" y1="110.00" x2="114.37" y2="107.80" stroke="#555" stroke-width="1" />
<line x1="114.37" y1="13.00" x2="114.37" y2="15.20" stroke="#555" stroke-width="1" />
<line x1="117.87" y1="110.00" x2="117.87" y2="107.80" stroke="#555" stroke-width="1" />
<line x1="117.87" y1="13.00" x2="117.87" y2="15.20" stroke="#555" stroke-width="1" />
<line x1="121.38" y1="110.00" x2="121.38" y2="107.80" stroke="#555" stroke-width="1" />
<line x1="121.38" y1="13.00" x2="121.38" y2="15.20" stroke="#555" stroke-width="1" />
<line x1="124.89" y1="110.00" x2="124.89" y2="107.80" stroke="#555" stroke-width="1" />
<line x1="124.89" y1="13.00" x2="124.89" y2="15.20" stroke="#555" stroke-width="1" />
<line x1="128.40" y1="110.00" x2="128.40" y2="107.80" stroke="#555" stroke-width="1" />
<line x1="128.40" y1="13.00" x2="128.40" y2="15.20" stroke="#555" stroke-width="1" />
<line x1="131.90" y1="110.00" x2="131.90" y2="107.80" stroke="#555" stroke-width="1" />
<line x1="131.90" y1="13.00" x2="131.90" y2="15.20" stroke="#555" stroke-width="1" />
<line x1="135.41" y1="110.00" x2="135.41" y2="107.80" stroke="#555" stroke-width="1" />
<line x1="135.41" y1="13.00" x2="135.41" y2="15.20" stroke="#555" stroke-width="1" />
<line x1="138.92" y1="110.00" x2="138.92" y2="107.80" stroke="#555" stroke-width="1" />
<line x1="138.92" y1="13.00" x2="138.92" y2="15.20" stroke="#555" stroke-width="1" />
<line x1="142.43" y1="110.00" x2="142.43" y2="106.00" stroke="#555" stroke-width="1" />
<line x1="142.43" y1="13.00" x2="142.43" y2="17.00" stroke="#555" stroke-width="1" />
<line x1="145.93" y1="110.00" x2="145.93" y2="107.80" stroke="#555" stroke-width="1" />
<line x1="145.93" y1="13.00" x2="145.93" y2="15.20" stroke="#555" stroke-width="1" />
<line x1="149.44" y1="110.00" x2="149.44" y2="107.80" stroke="#555" stroke-width="1" />
<line x1="149.44" y1="13.00" x2="149.44" y2="15.20" stroke="#555" stroke-width="1" />
<line x1="152.95" y1="110.00" x2="152.95" y2="107.80" stroke="#555" stroke-width="1" />
<line x1="152.95" y1="13.00" x2="152.95" y2="15.20" stroke="#555" stroke-width="1" />
<line x1="156.46" y1="110.00" x2="156.46" y2="107.80" stroke="#555" stroke-width="1" />
<line x1="156.46" y1="13.00" x2="156.46" y2="15.20" stroke="#555" stroke-width="1" />
<line x1="159.96" y1="110.00" x2="159.96" y2="107.80" stroke="#555" stroke-width="1" />
<line x1="159.96" y1="13.00" x2="159.96" y2="15.20" stroke="#555" stroke-width="1" />
<line x1="163.47" y1="110.00" x2="163.47" y2="107.80" stroke="#555" stroke-width="1" />
<line x1="163.47" y1="13.00" x2="163.47" y2="15.20" stroke="#555" stroke-width="1" />
<line x1="166.98" y1="110.00" x2="166.98" y2="107.80" stroke="#555" stroke-width="1" />
<line x1="166.98" y1="13.00" x2="166.98" y2="15.20" stroke="#555" stroke-width="1" />
<line x1="170.49" y1="110.00" x2="170.49" y2="107.80" stroke="#555" stroke-width="1" />
<line x1="170.49" y1="13.00" x2="170.49" y2="15.20" stroke="#555" stroke-width="1" />
<line x1="173.99" y1="110.00" x2="173.99" y2="107.80" stroke="#555" stroke-width="1" />
<line x1="173.99" y1="13.00" x2="173.99" y2="15.20" stroke="#555" stroke-width="1" />
<line x1="177.50" y1="110.00" x2="177.50" y2="106.00" stroke="#555" stroke-width="1" />
<line x1="177.50" y1="13.00" x2="177.50" y2="17.00" stroke="#555" stroke-width="1" />
<line x1="37.20" y1="110.00" x2="42.20" y2="110.00" stroke="#555" stroke-width="1" />
<line x1="177.50" y1="110.00" x2="172.50" y2="110.00" stroke="#555" stroke-width="1" />
<text x="26.40" y="112.80" font-size="7.9" text-anchor="end" fill="#161616" >10</text>
<text x="26.50" y="109.80" font-size="5.5" text-anchor="start" fill="#161616" >0</text>
<line x1="37.20" y1="90.60" x2="42.20" y2="90.60" stroke="#555" stroke-width="1" />
<line x1="177.50" y1="90.60" x2="172.50" y2="90.60" stroke="#555" stroke-width="1" />
<text x="26.40" y="93.40" font-size="7.9" text-anchor="end" fill="#161616" >10</text>
<text x="26.50" y="90.40" font-size="5.5" text-anchor="start" fill="#161616" >5</text>
<line x1="37.20" y1="71.20" x2="42.20" y2="71.20" stroke="#555" stroke-width="1" />
<line x1="177.50" y1="71.20" x2="172.50" y2="71.20" stroke="#555" stroke-width="1" />
<text x="26.40" y="74.00" font-size="7.9" text-anchor="end" fill="#161616" >10</text>
<text x="26.50" y="71.00" font-size="5.5" text-anchor="start" fill="#161616" >10</text>
<line x1="37.20" y1="51.80" x2="42.20" y2="51.80" stroke="#555" stroke-width="1" />
<line x1="177.50" y1="51.80" x2="172.50" y2="51.80" stroke="#555" stroke-width="1" />
<text x="26.40" y="54.60" font-size="7.9" text-anchor="end" fill="#161616" >10</text>
<text x="26.50" y="51.60" font-size="5.5" text-anchor="start" fill="#161616" >15</text>
<line x1="37.20" y1="32.40" x2="42.20" y2="32.40" stroke="#555" stroke-width="1" />
<line x1="177.50" y1="32.40" x2="172.50" y2="32.40" stroke="#555" stroke-width="1" />
<text x="26.40" y="35.20" font-size="7.9" text-anchor="end" fill="#161616" >10</text>
<text x="26.50" y="32.20" font-size="5.5" text-anchor="start" fill="#161616" >20</text>
<line x1="37.20" y1="13.00" x2="42.20" y2="13.00" stroke="#555" stroke-width="1" />
<line x1="177.50" y1="13.00" x2="172.50" y2="13.00" stroke="#555" stroke-width="1" />
<text x="26.40" y="15.80" font-size="7.9" text-anchor="end" fill="#161616" >10</text>
<text x="26.50" y="12.80" font-size="5.5" text-anchor="start" fill="#161616" >25</text>
<text x="37.20" y="121.30" font-size="7.6" text-anchor="middle" fill="#161616" >-2</text>
<text x="72.28" y="121.30" font-size="7.6" text-anchor="middle" fill="#161616" >-1</text>
<text x="107.35" y="121.30" font-size="7.6" text-anchor="middle" fill="#161616" >0</text>
<text x="142.43" y="121.30" font-size="7.6" text-anchor="middle" fill="#161616" >1</text>
<text x="177.50" y="121.30" font-size="7.6" text-anchor="middle" fill="#161616" >2</text>
<text x="105.40" y="134.60" font-size="9.2" text-anchor="middle" fill="#161616" >&#964;/&#964;<tspan font-size="6.3" dy="1.8">L</tspan></text>
<text x="13.60" y="114.20" font-size="7.7" text-anchor="start" fill="#161616" transform="rotate(-90 13.6 114.2)">Free electron density (cm<tspan font-size="5.4" dy="-2.8">-3</tspan><tspan dy="2.8">)</tspan></text>
<text x="114.30" y="100.50" font-size="8" text-anchor="start" fill="#161616" >100 fs, 800 nm</text>
<text x="10.70" y="8.10" font-size="8.8" text-anchor="middle" fill="#161616" font-weight="bold" style="stroke-width:0">a</text>
<path d="M44.70,110.00 C44.73,109.77 43.70,111.18 44.90,108.60 C46.10,106.02 49.55,99.22 51.90,94.50 C54.25,89.78 56.63,84.83 59.00,80.30 C61.37,75.77 63.73,71.30 66.10,67.30 C68.47,63.30 70.80,59.65 73.20,56.30 C75.60,52.95 77.95,49.88 80.50,47.20 C83.05,44.52 85.70,42.27 88.50,40.20 C91.30,38.13 94.27,36.25 97.30,34.80 C100.33,33.35 103.58,32.37 106.70,31.50 C109.82,30.63 112.28,30.07 116.00,29.60 C119.72,29.13 124.17,28.88 129.00,28.70 C133.83,28.52 136.92,28.53 145.00,28.50 C153.08,28.47 172.08,28.50 177.50,28.50" fill="none" stroke="#2a2a2a" stroke-width="1.0" />
<path d="M110.00,30.60 C111.00,30.68 113.67,30.98 116.00,31.10 C118.33,31.22 113.75,31.27 124.00,31.30 C134.25,31.33 168.58,31.30 177.50,31.30" fill="none" stroke="#8a8a8a" stroke-width="0.9" stroke-dasharray="0.9 1.4"/>
<rect x="213.20" y="12.60" width="147.10" height="97.40" fill="none" stroke="#555" stroke-width="1"/>
<line x1="213.20" y1="110.00" x2="213.20" y2="106.00" stroke="#555" stroke-width="1" />
<line x1="213.20" y1="12.60" x2="213.20" y2="16.60" stroke="#555" stroke-width="1" />
<line x1="220.55" y1="110.00" x2="220.55" y2="107.50" stroke="#555" stroke-width="1" />
<line x1="220.55" y1="12.60" x2="220.55" y2="15.10" stroke="#555" stroke-width="1" />
<line x1="227.91" y1="110.00" x2="227.91" y2="107.50" stroke="#555" stroke-width="1" />
<line x1="227.91" y1="12.60" x2="227.91" y2="15.10" stroke="#555" stroke-width="1" />
<line x1="235.26" y1="110.00" x2="235.26" y2="107.50" stroke="#555" stroke-width="1" />
<line x1="235.26" y1="12.60" x2="235.26" y2="15.10" stroke="#555" stroke-width="1" />
<line x1="242.62" y1="110.00" x2="242.62" y2="107.50" stroke="#555" stroke-width="1" />
<line x1="242.62" y1="12.60" x2="242.62" y2="15.10" stroke="#555" stroke-width="1" />
<line x1="249.97" y1="110.00" x2="249.97" y2="107.50" stroke="#555" stroke-width="1" />
<line x1="249.97" y1="12.60" x2="249.97" y2="15.10" stroke="#555" stroke-width="1" />
<line x1="257.33" y1="110.00" x2="257.33" y2="107.50" stroke="#555" stroke-width="1" />
<line x1="257.33" y1="12.60" x2="257.33" y2="15.10" stroke="#555" stroke-width="1" />
<line x1="264.69" y1="110.00" x2="264.69" y2="107.50" stroke="#555" stroke-width="1" />
<line x1="264.69" y1="12.60" x2="264.69" y2="15.10" stroke="#555" stroke-width="1" />
<line x1="272.04" y1="110.00" x2="272.04" y2="107.50" stroke="#555" stroke-width="1" />
<line x1="272.04" y1="12.60" x2="272.04" y2="15.10" stroke="#555" stroke-width="1" />
<line x1="279.39" y1="110.00" x2="279.39" y2="107.50" stroke="#555" stroke-width="1" />
<line x1="279.39" y1="12.60" x2="279.39" y2="15.10" stroke="#555" stroke-width="1" />
<line x1="286.75" y1="110.00" x2="286.75" y2="106.00" stroke="#555" stroke-width="1" />
<line x1="286.75" y1="12.60" x2="286.75" y2="16.60" stroke="#555" stroke-width="1" />
<line x1="294.11" y1="110.00" x2="294.11" y2="107.50" stroke="#555" stroke-width="1" />
<line x1="294.11" y1="12.60" x2="294.11" y2="15.10" stroke="#555" stroke-width="1" />
<line x1="301.46" y1="110.00" x2="301.46" y2="107.50" stroke="#555" stroke-width="1" />
<line x1="301.46" y1="12.60" x2="301.46" y2="15.10" stroke="#555" stroke-width="1" />
<line x1="308.81" y1="110.00" x2="308.81" y2="107.50" stroke="#555" stroke-width="1" />
<line x1="308.81" y1="12.60" x2="308.81" y2="15.10" stroke="#555" stroke-width="1" />
<line x1="316.17" y1="110.00" x2="316.17" y2="107.50" stroke="#555" stroke-width="1" />
<line x1="316.17" y1="12.60" x2="316.17" y2="15.10" stroke="#555" stroke-width="1" />
<line x1="323.52" y1="110.00" x2="323.52" y2="107.50" stroke="#555" stroke-width="1" />
<line x1="323.52" y1="12.60" x2="323.52" y2="15.10" stroke="#555" stroke-width="1" />
<line x1="330.88" y1="110.00" x2="330.88" y2="107.50" stroke="#555" stroke-width="1" />
<line x1="330.88" y1="12.60" x2="330.88" y2="15.10" stroke="#555" stroke-width="1" />
<line x1="338.24" y1="110.00" x2="338.24" y2="107.50" stroke="#555" stroke-width="1" />
<line x1="338.24" y1="12.60" x2="338.24" y2="15.10" stroke="#555" stroke-width="1" />
<line x1="345.59" y1="110.00" x2="345.59" y2="107.50" stroke="#555" stroke-width="1" />
<line x1="345.59" y1="12.60" x2="345.59" y2="15.10" stroke="#555" stroke-width="1" />
<line x1="352.95" y1="110.00" x2="352.95" y2="107.50" stroke="#555" stroke-width="1" />
<line x1="352.95" y1="12.60" x2="352.95" y2="15.10" stroke="#555" stroke-width="1" />
<line x1="360.30" y1="110.00" x2="360.30" y2="106.00" stroke="#555" stroke-width="1" />
<line x1="360.30" y1="12.60" x2="360.30" y2="16.60" stroke="#555" stroke-width="1" />
<line x1="213.20" y1="110.00" x2="218.20" y2="110.00" stroke="#555" stroke-width="1" />
<line x1="360.30" y1="110.00" x2="355.30" y2="110.00" stroke="#555" stroke-width="1" />
<text x="203.20" y="112.80" font-size="7.9" text-anchor="end" fill="#161616" >10</text>
<text x="203.30" y="109.80" font-size="5.5" text-anchor="start" fill="#161616" >10</text>
<line x1="213.20" y1="93.77" x2="218.20" y2="93.77" stroke="#555" stroke-width="1" />
<line x1="360.30" y1="93.77" x2="355.30" y2="93.77" stroke="#555" stroke-width="1" />
<text x="203.20" y="96.57" font-size="7.9" text-anchor="end" fill="#161616" >10</text>
<text x="203.30" y="93.57" font-size="5.5" text-anchor="start" fill="#161616" >12</text>
<line x1="213.20" y1="77.53" x2="218.20" y2="77.53" stroke="#555" stroke-width="1" />
<line x1="360.30" y1="77.53" x2="355.30" y2="77.53" stroke="#555" stroke-width="1" />
<text x="203.20" y="80.33" font-size="7.9" text-anchor="end" fill="#161616" >10</text>
<text x="203.30" y="77.33" font-size="5.5" text-anchor="start" fill="#161616" >14</text>
<line x1="213.20" y1="61.30" x2="218.20" y2="61.30" stroke="#555" stroke-width="1" />
<line x1="360.30" y1="61.30" x2="355.30" y2="61.30" stroke="#555" stroke-width="1" />
<text x="203.20" y="64.10" font-size="7.9" text-anchor="end" fill="#161616" >10</text>
<text x="203.30" y="61.10" font-size="5.5" text-anchor="start" fill="#161616" >16</text>
<line x1="213.20" y1="45.07" x2="218.20" y2="45.07" stroke="#555" stroke-width="1" />
<line x1="360.30" y1="45.07" x2="355.30" y2="45.07" stroke="#555" stroke-width="1" />
<text x="203.20" y="47.87" font-size="7.9" text-anchor="end" fill="#161616" >10</text>
<text x="203.30" y="44.87" font-size="5.5" text-anchor="start" fill="#161616" >18</text>
<line x1="213.20" y1="28.83" x2="218.20" y2="28.83" stroke="#555" stroke-width="1" />
<line x1="360.30" y1="28.83" x2="355.30" y2="28.83" stroke="#555" stroke-width="1" />
<text x="203.20" y="31.63" font-size="7.9" text-anchor="end" fill="#161616" >10</text>
<text x="203.30" y="28.63" font-size="5.5" text-anchor="start" fill="#161616" >20</text>
<line x1="213.20" y1="12.60" x2="218.20" y2="12.60" stroke="#555" stroke-width="1" />
<line x1="360.30" y1="12.60" x2="355.30" y2="12.60" stroke="#555" stroke-width="1" />
<text x="203.20" y="15.40" font-size="7.9" text-anchor="end" fill="#161616" >10</text>
<text x="203.30" y="12.40" font-size="5.5" text-anchor="start" fill="#161616" >22</text>
<text x="213.20" y="121.30" font-size="7.6" text-anchor="middle" fill="#161616" >0</text>
<text x="286.75" y="121.30" font-size="7.6" text-anchor="middle" fill="#161616" >1</text>
<text x="360.30" y="121.30" font-size="7.6" text-anchor="middle" fill="#161616" >2</text>
<text x="287.00" y="133.00" font-size="9" text-anchor="middle" fill="#161616" >I/I<tspan font-size="6.3" dy="1.8">R</tspan></text>
<text x="191.20" y="112.00" font-size="7.7" text-anchor="start" fill="#161616" transform="rotate(-90 191.2 112)">Free electron density (cm<tspan font-size="5.4" dy="-2.8">-3</tspan><tspan dy="2.8">)</tspan></text>
<text x="295.60" y="100.50" font-size="8" text-anchor="start" fill="#161616" >100 fs, 800 nm</text>
<text x="187.00" y="7.90" font-size="9" text-anchor="middle" fill="#161616" >b</text>
<line x1="213.20" y1="20.30" x2="286.75" y2="20.30" stroke="#555" stroke-width="1" stroke-dasharray="4 2.2"/>
<line x1="286.75" y1="12.60" x2="286.75" y2="110.00" stroke="#555" stroke-width="1" stroke-dasharray="4 2.2"/>
<path d="M213.80,110.00 C213.87,109.37 214.03,108.63 214.20,106.20 C214.37,103.77 214.52,98.78 214.80,95.40 C215.08,92.02 215.52,88.88 215.90,85.90 C216.28,82.92 216.38,80.63 217.10,77.50 C217.82,74.37 218.90,70.55 220.20,67.10 C221.50,63.65 223.27,59.65 224.90,56.80 C226.53,53.95 228.07,52.30 230.00,50.00 C231.93,47.70 234.33,44.92 236.50,43.00 C238.67,41.08 240.63,40.07 243.00,38.50 C245.37,36.93 248.20,35.02 250.70,33.60 C253.20,32.18 255.28,31.15 258.00,30.00 C260.72,28.85 263.83,27.78 267.00,26.70 C270.17,25.62 273.60,24.52 277.00,23.50 C280.40,22.48 284.32,21.43 287.40,20.60 C290.48,19.77 292.87,19.10 295.50,18.50 C298.13,17.90 299.35,17.53 303.20,17.00 C307.05,16.47 313.47,15.77 318.60,15.30 C323.73,14.83 328.83,14.52 334.00,14.20 C339.17,13.88 345.22,13.58 349.60,13.40 C353.98,13.22 358.52,13.15 360.30,13.10" fill="none" stroke="#2a2a2a" stroke-width="1.0" />
<path d="M232.40,47.60 C233.67,46.92 236.95,45.13 240.00,43.50 C243.05,41.87 247.37,39.38 250.70,37.80 C254.03,36.22 256.62,35.20 260.00,34.00 C263.38,32.80 267.67,31.50 271.00,30.60 C274.33,29.70 277.22,29.15 280.00,28.60 C282.78,28.05 283.83,27.90 287.70,27.30 C291.57,26.70 296.75,25.63 303.20,25.00 C309.65,24.37 318.67,23.97 326.40,23.50 C334.13,23.03 343.95,22.48 349.60,22.20 C355.25,21.92 358.52,21.87 360.30,21.80" fill="none" stroke="#777" stroke-width="0.9" stroke-dasharray="0.9 1.5"/>
<line x1="395.60" y1="11.40" x2="395.60" y2="109.60" stroke="#333" stroke-width="0.9" />
<line x1="408.85" y1="11.40" x2="408.85" y2="77.20" stroke="#333" stroke-width="0.9" />
<line x1="422.10" y1="11.40" x2="422.10" y2="84.40" stroke="#808080" stroke-width="0.9" />
<line x1="435.35" y1="11.40" x2="435.35" y2="109.60" stroke="#e0e0e0" stroke-width="0.9" />
<line x1="448.60" y1="11.40" x2="448.60" y2="109.60" stroke="#d8d8d8" stroke-width="0.9" />
<line x1="461.85" y1="11.40" x2="461.85" y2="109.60" stroke="#6a6a6a" stroke-width="0.9" />
<line x1="475.10" y1="11.40" x2="475.10" y2="109.60" stroke="#d6d6d6" stroke-width="0.9" />
<line x1="488.35" y1="11.40" x2="488.35" y2="109.60" stroke="#555" stroke-width="0.9" />
<line x1="501.60" y1="11.40" x2="501.60" y2="109.60" stroke="#333" stroke-width="0.9" />
<line x1="514.85" y1="11.40" x2="514.85" y2="109.60" stroke="#d4d4d4" stroke-width="0.9" />
<line x1="528.10" y1="11.40" x2="528.10" y2="109.60" stroke="#dcdcdc" stroke-width="0.9" />
<line x1="541.35" y1="11.40" x2="541.35" y2="109.60" stroke="#e2e2e2" stroke-width="0.9" />
<line x1="391.80" y1="44.13" x2="544.50" y2="44.13" stroke="#444" stroke-width="0.9" />
<line x1="391.80" y1="76.87" x2="544.50" y2="76.87" stroke="#444" stroke-width="0.9" />
<rect x="391.80" y="11.40" width="152.70" height="98.20" fill="none" stroke="#555" stroke-width="1"/>
<line x1="391.80" y1="34.28" x2="393.80" y2="34.28" stroke="#777" stroke-width="0.7" />
<line x1="391.80" y1="28.52" x2="393.80" y2="28.52" stroke="#777" stroke-width="0.7" />
<line x1="391.80" y1="24.43" x2="393.80" y2="24.43" stroke="#777" stroke-width="0.7" />
<line x1="391.80" y1="21.25" x2="393.80" y2="21.25" stroke="#777" stroke-width="0.7" />
<line x1="391.80" y1="18.66" x2="393.80" y2="18.66" stroke="#777" stroke-width="0.7" />
<line x1="391.80" y1="16.47" x2="393.80" y2="16.47" stroke="#777" stroke-width="0.7" />
<line x1="391.80" y1="14.57" x2="393.80" y2="14.57" stroke="#777" stroke-width="0.7" />
<line x1="391.80" y1="12.90" x2="393.80" y2="12.90" stroke="#777" stroke-width="0.7" />
<line x1="391.80" y1="67.01" x2="393.80" y2="67.01" stroke="#777" stroke-width="0.7" />
<line x1="391.80" y1="61.25" x2="393.80" y2="61.25" stroke="#777" stroke-width="0.7" />
<line x1="391.80" y1="57.16" x2="393.80" y2="57.16" stroke="#777" stroke-width="0.7" />
<line x1="391.80" y1="53.99" x2="393.80" y2="53.99" stroke="#777" stroke-width="0.7" />
<line x1="391.80" y1="51.40" x2="393.80" y2="51.40" stroke="#777" stroke-width="0.7" />
<line x1="391.80" y1="49.20" x2="393.80" y2="49.20" stroke="#777" stroke-width="0.7" />
<line x1="391.80" y1="47.31" x2="393.80" y2="47.31" stroke="#777" stroke-width="0.7" />
<line x1="391.80" y1="45.63" x2="393.80" y2="45.63" stroke="#777" stroke-width="0.7" />
<line x1="391.80" y1="99.75" x2="393.80" y2="99.75" stroke="#777" stroke-width="0.7" />
<line x1="391.80" y1="93.98" x2="393.80" y2="93.98" stroke="#777" stroke-width="0.7" />
<line x1="391.80" y1="89.89" x2="393.80" y2="89.89" stroke="#777" stroke-width="0.7" />
<line x1="391.80" y1="86.72" x2="393.80" y2="86.72" stroke="#777" stroke-width="0.7" />
<line x1="391.80" y1="84.13" x2="393.80" y2="84.13" stroke="#777" stroke-width="0.7" />
<line x1="391.80" y1="81.94" x2="393.80" y2="81.94" stroke="#777" stroke-width="0.7" />
<line x1="391.80" y1="80.04" x2="393.80" y2="80.04" stroke="#777" stroke-width="0.7" />
<line x1="391.80" y1="78.36" x2="393.80" y2="78.36" stroke="#777" stroke-width="0.7" />
<line x1="395.60" y1="109.60" x2="395.60" y2="107.10" stroke="#444" stroke-width="0.8" />
<line x1="408.85" y1="109.60" x2="408.85" y2="107.10" stroke="#444" stroke-width="0.8" />
<line x1="422.10" y1="109.60" x2="422.10" y2="107.10" stroke="#444" stroke-width="0.8" />
<line x1="435.35" y1="109.60" x2="435.35" y2="107.10" stroke="#444" stroke-width="0.8" />
<line x1="448.60" y1="109.60" x2="448.60" y2="107.10" stroke="#444" stroke-width="0.8" />
<line x1="461.85" y1="109.60" x2="461.85" y2="107.10" stroke="#444" stroke-width="0.8" />
<line x1="475.10" y1="109.60" x2="475.10" y2="107.10" stroke="#444" stroke-width="0.8" />
<line x1="488.35" y1="109.60" x2="488.35" y2="107.10" stroke="#444" stroke-width="0.8" />
<line x1="501.60" y1="109.60" x2="501.60" y2="107.10" stroke="#444" stroke-width="0.8" />
<line x1="514.85" y1="109.60" x2="514.85" y2="107.10" stroke="#444" stroke-width="0.8" />
<line x1="528.10" y1="109.60" x2="528.10" y2="107.10" stroke="#444" stroke-width="0.8" />
<line x1="541.35" y1="109.60" x2="541.35" y2="107.10" stroke="#444" stroke-width="0.8" />
<text x="386.00" y="17.10" font-size="7.9" text-anchor="end" fill="#161616" >10</text>
<text x="386.10" y="14.10" font-size="5.5" text-anchor="start" fill="#161616" >0</text>
<text x="385.60" y="46.93" font-size="7.9" text-anchor="end" fill="#161616" >10</text>
<text x="385.70" y="43.93" font-size="5.5" text-anchor="start" fill="#161616" >-1</text>
<text x="385.60" y="79.67" font-size="7.9" text-anchor="end" fill="#161616" >10</text>
<text x="385.70" y="76.67" font-size="5.5" text-anchor="start" fill="#161616" >-2</text>
<text x="385.60" y="109.50" font-size="7.9" text-anchor="end" fill="#161616" >10</text>
<text x="385.70" y="106.50" font-size="5.5" text-anchor="start" fill="#161616" >-3</text>
<text x="396.00" y="120.30" font-size="7.6" text-anchor="middle" fill="#161616" >10 fs</text>
<text x="420.60" y="120.30" font-size="7.6" text-anchor="middle" fill="#161616" >1 ps</text>
<text x="448.50" y="120.30" font-size="7.6" text-anchor="middle" fill="#161616" >100 ps</text>
<text x="472.50" y="120.30" font-size="7.6" text-anchor="middle" fill="#161616" >0 ns</text>
<text x="496.90" y="120.30" font-size="7.6" text-anchor="middle" fill="#161616" >1 &#956;s</text>
<text x="527.50" y="120.30" font-size="7.6" text-anchor="middle" fill="#161616" >100 &#956;s</text>
<text x="455.00" y="134.00" font-size="9" text-anchor="start" fill="#161616" >Time</text>
<text x="374.40" y="61.50" font-size="8" text-anchor="middle" fill="#161616" transform="rotate(-90 374.4 61.5)">&#916;T (K)</text>
<text x="370.30" y="8.10" font-size="8.8" text-anchor="middle" fill="#161616" font-weight="bold" style="stroke-width:0">c</text>
<text x="401.50" y="93.80" font-size="7.8" text-anchor="start" fill="#161616" font-weight="bold" style="stroke-width:0.1">1MHz</text>
<text x="397.00" y="103.00" font-size="8.3" text-anchor="start" fill="#161616" >NA=0.6</text>
<path d="M395.6,64 L408.5,31.7" stroke="#333" stroke-width="1" fill="none"/>
<path d="M408.5,31.8 L464,31.8" stroke="#8a8a8a" stroke-width="1.8" fill="none"/>
<path d="M464.00,31.80 C465.00,31.82 468.28,31.78 470.00,31.90 C471.72,32.02 472.97,32.15 474.30,32.50 C475.63,32.85 476.70,33.23 478.00,34.00 C479.30,34.77 480.37,35.28 482.10,37.10 C483.83,38.92 486.32,42.05 488.40,44.90 C490.48,47.75 492.80,51.35 494.60,54.20 C496.40,57.05 498.02,59.92 499.20,62.00 C500.38,64.08 501.28,65.92 501.70,66.70" fill="none" stroke="#333" stroke-width="1" />
<path d="M501.70,66.70 C502.33,68.78 504.10,75.05 505.50,79.20 C506.90,83.35 508.65,87.47 510.10,91.60 C511.55,95.73 513.30,101.00 514.20,104.00 C515.10,107.00 515.28,108.67 515.50,109.60" fill="none" stroke="#444" stroke-width="0.9" stroke-dasharray="1 2"/>
<path d="M501.40,80.04 L501.40,30.40 L501.41,30.40 L501.46,31.39 L501.57,35.01 L501.74,39.40 L501.95,42.80 L502.20,46.00 L502.45,48.24 L502.91,51.33 L503.34,53.74 L503.92,56.31 L504.45,58.24 L504.94,59.86 L505.39,61.17 M505.39,65.03 L505.39,29.61 L505.39,29.61 L505.42,30.55 L505.47,33.93 L505.56,37.95 L505.67,40.98 L505.80,43.76 L505.94,45.65 L506.19,48.17 L506.44,50.06 L506.79,52.01 L507.12,53.41 L507.43,54.54 L507.72,55.43 M507.72,61.69 L507.72,29.30 L507.72,29.30 L507.74,30.22 L507.78,33.52 L507.84,37.40 L507.91,40.30 L508.00,42.94 L508.09,44.71 L508.27,47.07 L508.44,48.81 L508.69,50.58 L508.93,51.83 L509.16,52.85 L509.38,53.63 M509.38,60.03 L509.38,29.12 L509.38,29.12 L509.39,30.03 L509.42,33.28 L509.46,37.08 L509.52,39.92 L509.59,42.48 L509.66,44.19 L509.79,46.45 L509.93,48.11 L510.12,49.79 L510.31,50.98 L510.49,51.93 L510.66,52.67 M510.66,58.99 L510.66,29.00 L510.66,29.00 L510.67,29.90 L510.70,33.11 L510.73,36.87 L510.78,39.66 L510.83,42.17 L510.89,43.84 L511.00,46.05 L511.10,47.66 L511.26,49.28 L511.42,50.42 L511.56,51.34 L511.71,52.04 M511.71,58.26 L511.71,28.91 L511.71,28.91 L511.72,29.80 L511.74,32.99 L511.77,36.71 L511.81,39.47 L511.85,41.94 L511.90,43.59 L511.99,45.75 L512.08,47.32 L512.22,48.91 L512.35,50.02 L512.47,50.91 L512.60,51.59 M512.60,57.71 L512.60,28.84 L512.60,28.84 L512.61,29.72 L512.62,32.90 L512.65,36.59 L512.68,39.32 L512.72,41.76 L512.76,43.39 L512.84,45.52 L512.92,47.06 L513.03,48.62 L513.15,49.71 L513.26,50.58 L513.37,51.24" fill="none" stroke="#111" stroke-width="0.8"/>
<path d="M513.37,28.78 L514.65,28.69 L515.70,28.62 L516.59,28.57 L517.70,28.51 L518.64,28.46 L519.69,28.40 L520.57,28.36 L521.52,28.32 L522.33,28.29 L523.18,28.25 L524.03,28.22 L524.86,28.19 L525.68,28.16 L526.54,28.13 L527.36,28.10 L528.18,28.08 L529.00,28.05 L529.84,28.03 L530.68,28.01 L531.50,27.99 L532.33,27.97 L533.15,27.95 L533.97,27.93 L534.79,27.91 L535.60,27.90 L536.41,27.88 L537.22,27.87 L538.03,27.85 L538.84,27.84 L539.65,27.82 L540.45,27.81 L541.26,27.80 L541.30,27.79 L541.30,46.61 L541.26,46.65 L540.46,46.70 L539.65,46.74 L538.85,46.79 L538.03,46.85 L537.23,46.90 L536.43,46.96 L535.61,47.02 L534.80,47.08 L533.99,47.15 L533.17,47.22 L532.36,47.30 L531.53,47.37 L530.71,47.46 L529.88,47.54 L529.04,47.64 L528.23,47.73 L527.42,47.83 L526.61,47.94 L525.76,48.05 L524.96,48.17 L524.13,48.30 L523.30,48.43 L522.47,48.57 L521.68,48.72 L520.77,48.90 L519.91,49.07 L518.91,49.30 L518.02,49.52 L516.96,49.80 L516.14,50.04 L515.17,50.35 L514.01,50.76 Z" fill="#0a0a0a" stroke="#0a0a0a" stroke-width="0.5"/>
<path d="M515.3,29 L515.3,50 M529.6,28.5 L529.6,47.5 M531,28.5 L531,47.5" stroke="#9a9a9a" stroke-width="0.9" fill="none"/>
<path d="M469.70,110.30 C470.33,108.58 472.20,103.38 473.50,100.00 C474.80,96.62 476.08,93.42 477.50,90.00 C478.92,86.58 480.45,82.87 482.00,79.50 C483.55,76.13 485.30,72.68 486.80,69.80 C488.30,66.92 489.45,64.53 491.00,62.20 C492.55,59.87 494.52,57.67 496.10,55.80 C497.68,53.93 498.93,52.40 500.50,51.00 C502.07,49.60 503.75,48.47 505.50,47.40 C507.25,46.33 508.93,45.43 511.00,44.60 C513.07,43.77 515.18,43.07 517.90,42.40 C520.62,41.73 523.67,41.07 527.30,40.60 C530.93,40.13 537.63,39.77 539.70,39.60" fill="none" stroke="#e8283a" stroke-width="1.05" />
<text x="6.80" y="158.70" font-size="8.5" text-anchor="middle" fill="#161616" >d</text>
<text x="32.20" y="175.30" font-size="9" text-anchor="end" fill="#161616" >0.5</text>
<text x="32.20" y="212.10" font-size="9" text-anchor="end" fill="#161616" >0</text>
<text x="32.20" y="249.20" font-size="9" text-anchor="end" fill="#161616" >-0.5</text>
<text x="11.80" y="209.00" font-size="9" text-anchor="middle" fill="#161616" transform="rotate(-90 11.8 209)">z (&#956;m)</text>
<text x="39.90" y="277.00" font-size="9" text-anchor="middle" fill="#161616" >0.5</text>
<text x="33.70" y="277.00" font-size="9" text-anchor="end" fill="#161616" >-</text>
<text x="75.20" y="277.00" font-size="9" text-anchor="middle" fill="#161616" >0</text>
<text x="110.50" y="277.00" font-size="9" text-anchor="middle" fill="#161616" >0.5</text>
<text x="75.20" y="288.00" font-size="9" text-anchor="middle" fill="#161616" >r (&#956;m)</text>
<text x="106.00" y="164.00" font-size="8.8" text-anchor="end" fill="#161616" >0 ps</text>
<line x1="38.20" y1="245.60" x2="39.70" y2="245.60" stroke="#333" stroke-width="0.8"/>
<line x1="111.50" y1="245.60" x2="110.00" y2="245.60" stroke="#333" stroke-width="0.8"/>
<line x1="38.20" y1="208.60" x2="39.70" y2="208.60" stroke="#333" stroke-width="0.8"/>
<line x1="111.50" y1="208.60" x2="110.00" y2="208.60" stroke="#333" stroke-width="0.8"/>
<line x1="38.20" y1="171.60" x2="39.70" y2="171.60" stroke="#333" stroke-width="0.8"/>
<line x1="111.50" y1="171.60" x2="110.00" y2="171.60" stroke="#333" stroke-width="0.8"/>
<line x1="39.90" y1="263.40" x2="39.90" y2="261.90" stroke="#333" stroke-width="0.8"/>
<line x1="39.90" y1="153.70" x2="39.90" y2="155.20" stroke="#333" stroke-width="0.8"/>
<line x1="75.20" y1="263.40" x2="75.20" y2="261.90" stroke="#333" stroke-width="0.8"/>
<line x1="75.20" y1="153.70" x2="75.20" y2="155.20" stroke="#333" stroke-width="0.8"/>
<line x1="110.50" y1="263.40" x2="110.50" y2="261.90" stroke="#333" stroke-width="0.8"/>
<line x1="110.50" y1="153.70" x2="110.50" y2="155.20" stroke="#333" stroke-width="0.8"/>
<text x="167.30" y="277.00" font-size="9" text-anchor="middle" fill="#161616" >0.5</text>
<text x="161.10" y="277.00" font-size="9" text-anchor="end" fill="#161616" >-</text>
<text x="202.30" y="277.00" font-size="9" text-anchor="middle" fill="#161616" >0</text>
<text x="237.30" y="277.00" font-size="9" text-anchor="middle" fill="#161616" >0.5</text>
<text x="202.30" y="288.00" font-size="9" text-anchor="middle" fill="#161616" >r (&#956;m)</text>
<text x="235.60" y="159.90" font-size="8.8" text-anchor="end" fill="#161616" >70 ps</text>
<line x1="164.30" y1="246.30" x2="165.80" y2="246.30" stroke="#333" stroke-width="0.8"/>
<line x1="241.30" y1="246.30" x2="239.80" y2="246.30" stroke="#333" stroke-width="0.8"/>
<line x1="164.30" y1="207.70" x2="165.80" y2="207.70" stroke="#333" stroke-width="0.8"/>
<line x1="241.30" y1="207.70" x2="239.80" y2="207.70" stroke="#333" stroke-width="0.8"/>
<line x1="164.30" y1="169.10" x2="165.80" y2="169.10" stroke="#333" stroke-width="0.8"/>
<line x1="241.30" y1="169.10" x2="239.80" y2="169.10" stroke="#333" stroke-width="0.8"/>
<line x1="167.30" y1="264.60" x2="167.30" y2="263.10" stroke="#333" stroke-width="0.8"/>
<line x1="167.30" y1="150.50" x2="167.30" y2="152.00" stroke="#333" stroke-width="0.8"/>
<line x1="202.30" y1="264.60" x2="202.30" y2="263.10" stroke="#333" stroke-width="0.8"/>
<line x1="202.30" y1="150.50" x2="202.30" y2="152.00" stroke="#333" stroke-width="0.8"/>
<line x1="237.30" y1="264.60" x2="237.30" y2="263.10" stroke="#333" stroke-width="0.8"/>
<line x1="237.30" y1="150.50" x2="237.30" y2="152.00" stroke="#333" stroke-width="0.8"/>
<text x="295.60" y="277.00" font-size="9" text-anchor="middle" fill="#161616" >0.5</text>
<text x="289.40" y="277.00" font-size="9" text-anchor="end" fill="#161616" >-</text>
<text x="330.60" y="277.00" font-size="9" text-anchor="middle" fill="#161616" >0</text>
<text x="365.60" y="277.00" font-size="9" text-anchor="middle" fill="#161616" >0.5</text>
<text x="330.60" y="288.00" font-size="9" text-anchor="middle" fill="#161616" >r (&#956;m)</text>
<text x="358.90" y="160.30" font-size="8.8" text-anchor="end" fill="#161616" >150 ps</text>
<line x1="291.30" y1="245.10" x2="292.80" y2="245.10" stroke="#333" stroke-width="0.8"/>
<line x1="367.50" y1="245.10" x2="366.00" y2="245.10" stroke="#333" stroke-width="0.8"/>
<line x1="291.30" y1="206.50" x2="292.80" y2="206.50" stroke="#333" stroke-width="0.8"/>
<line x1="367.50" y1="206.50" x2="366.00" y2="206.50" stroke="#333" stroke-width="0.8"/>
<line x1="291.30" y1="167.90" x2="292.80" y2="167.90" stroke="#333" stroke-width="0.8"/>
<line x1="367.50" y1="167.90" x2="366.00" y2="167.90" stroke="#333" stroke-width="0.8"/>
<line x1="295.60" y1="264.60" x2="295.60" y2="263.10" stroke="#333" stroke-width="0.8"/>
<line x1="295.60" y1="148.60" x2="295.60" y2="150.10" stroke="#333" stroke-width="0.8"/>
<line x1="330.60" y1="264.60" x2="330.60" y2="263.10" stroke="#333" stroke-width="0.8"/>
<line x1="330.60" y1="148.60" x2="330.60" y2="150.10" stroke="#333" stroke-width="0.8"/>
<line x1="365.60" y1="264.60" x2="365.60" y2="263.10" stroke="#333" stroke-width="0.8"/>
<line x1="365.60" y1="148.60" x2="365.60" y2="150.10" stroke="#333" stroke-width="0.8"/>
<text x="422.30" y="277.00" font-size="9" text-anchor="middle" fill="#161616" >0.5</text>
<text x="416.10" y="277.00" font-size="9" text-anchor="end" fill="#161616" >-</text>
<text x="457.30" y="277.00" font-size="9" text-anchor="middle" fill="#161616" >0</text>
<text x="492.30" y="277.00" font-size="9" text-anchor="middle" fill="#161616" >0.5</text>
<text x="457.30" y="288.00" font-size="9" text-anchor="middle" fill="#161616" >r (&#956;m)</text>
<text x="486.30" y="157.10" font-size="8.8" text-anchor="end" fill="#161616" >220 ps</text>
<line x1="417.60" y1="245.60" x2="419.10" y2="245.60" stroke="#333" stroke-width="0.8"/>
<line x1="495.70" y1="245.60" x2="494.20" y2="245.60" stroke="#333" stroke-width="0.8"/>
<line x1="417.60" y1="206.00" x2="419.10" y2="206.00" stroke="#333" stroke-width="0.8"/>
<line x1="495.70" y1="206.00" x2="494.20" y2="206.00" stroke="#333" stroke-width="0.8"/>
<line x1="417.60" y1="166.40" x2="419.10" y2="166.40" stroke="#333" stroke-width="0.8"/>
<line x1="495.70" y1="166.40" x2="494.20" y2="166.40" stroke="#333" stroke-width="0.8"/>
<line x1="422.30" y1="264.60" x2="422.30" y2="263.10" stroke="#333" stroke-width="0.8"/>
<line x1="422.30" y1="147.40" x2="422.30" y2="148.90" stroke="#333" stroke-width="0.8"/>
<line x1="457.30" y1="264.60" x2="457.30" y2="263.10" stroke="#333" stroke-width="0.8"/>
<line x1="457.30" y1="147.40" x2="457.30" y2="148.90" stroke="#333" stroke-width="0.8"/>
<line x1="492.30" y1="264.60" x2="492.30" y2="263.10" stroke="#333" stroke-width="0.8"/>
<line x1="492.30" y1="147.40" x2="492.30" y2="148.90" stroke="#333" stroke-width="0.8"/>
<text x="133.90" y="165.40" font-size="9" text-anchor="start" fill="#161616" >200</text>
<text x="133.90" y="188.20" font-size="9" text-anchor="start" fill="#161616" >100</text>
<text x="133.90" y="212.20" font-size="9" text-anchor="start" fill="#161616" >0</text>
<text x="133.90" y="235.40" font-size="9" text-anchor="start" fill="#161616" >-100</text>
<text x="133.90" y="259.00" font-size="9" text-anchor="start" fill="#161616" >-200</text>
<text x="263.50" y="157.00" font-size="9" text-anchor="start" fill="#161616" >60</text>
<text x="263.50" y="175.10" font-size="9" text-anchor="start" fill="#161616" >40</text>
<text x="263.50" y="192.60" font-size="9" text-anchor="start" fill="#161616" >20</text>
<text x="263.50" y="210.90" font-size="9" text-anchor="start" fill="#161616" >0</text>
<text x="263.50" y="229.40" font-size="9" text-anchor="start" fill="#161616" >-20</text>
<text x="263.50" y="247.20" font-size="9" text-anchor="start" fill="#161616" >-40</text>
<text x="263.50" y="265.50" font-size="9" text-anchor="start" fill="#161616" >-60</text>
<text x="391.40" y="158.40" font-size="9" text-anchor="start" fill="#161616" >50</text>
<text x="391.40" y="210.20" font-size="9" text-anchor="start" fill="#161616" >0</text>
<text x="391.40" y="262.00" font-size="9" text-anchor="start" fill="#161616" >-50</text>
<text x="519.40" y="156.60" font-size="9" text-anchor="start" fill="#161616" >30</text>
<text x="519.40" y="174.60" font-size="9" text-anchor="start" fill="#161616" >20</text>
<text x="519.40" y="192.50" font-size="9" text-anchor="start" fill="#161616" >10</text>
<text x="519.40" y="210.20" font-size="9" text-anchor="start" fill="#161616" >0</text>
<text x="519.40" y="227.80" font-size="9" text-anchor="start" fill="#161616" >-10</text>
<text x="519.40" y="245.40" font-size="9" text-anchor="start" fill="#161616" >-20</text>
<text x="519.40" y="262.80" font-size="9" text-anchor="start" fill="#161616" >-30</text>
<text x="544.80" y="207.50" font-size="8.2" text-anchor="middle" fill="#161616" transform="rotate(-90 544.8 207.5)">Pressure (MPa)</text>
</svg></div></body></html>
